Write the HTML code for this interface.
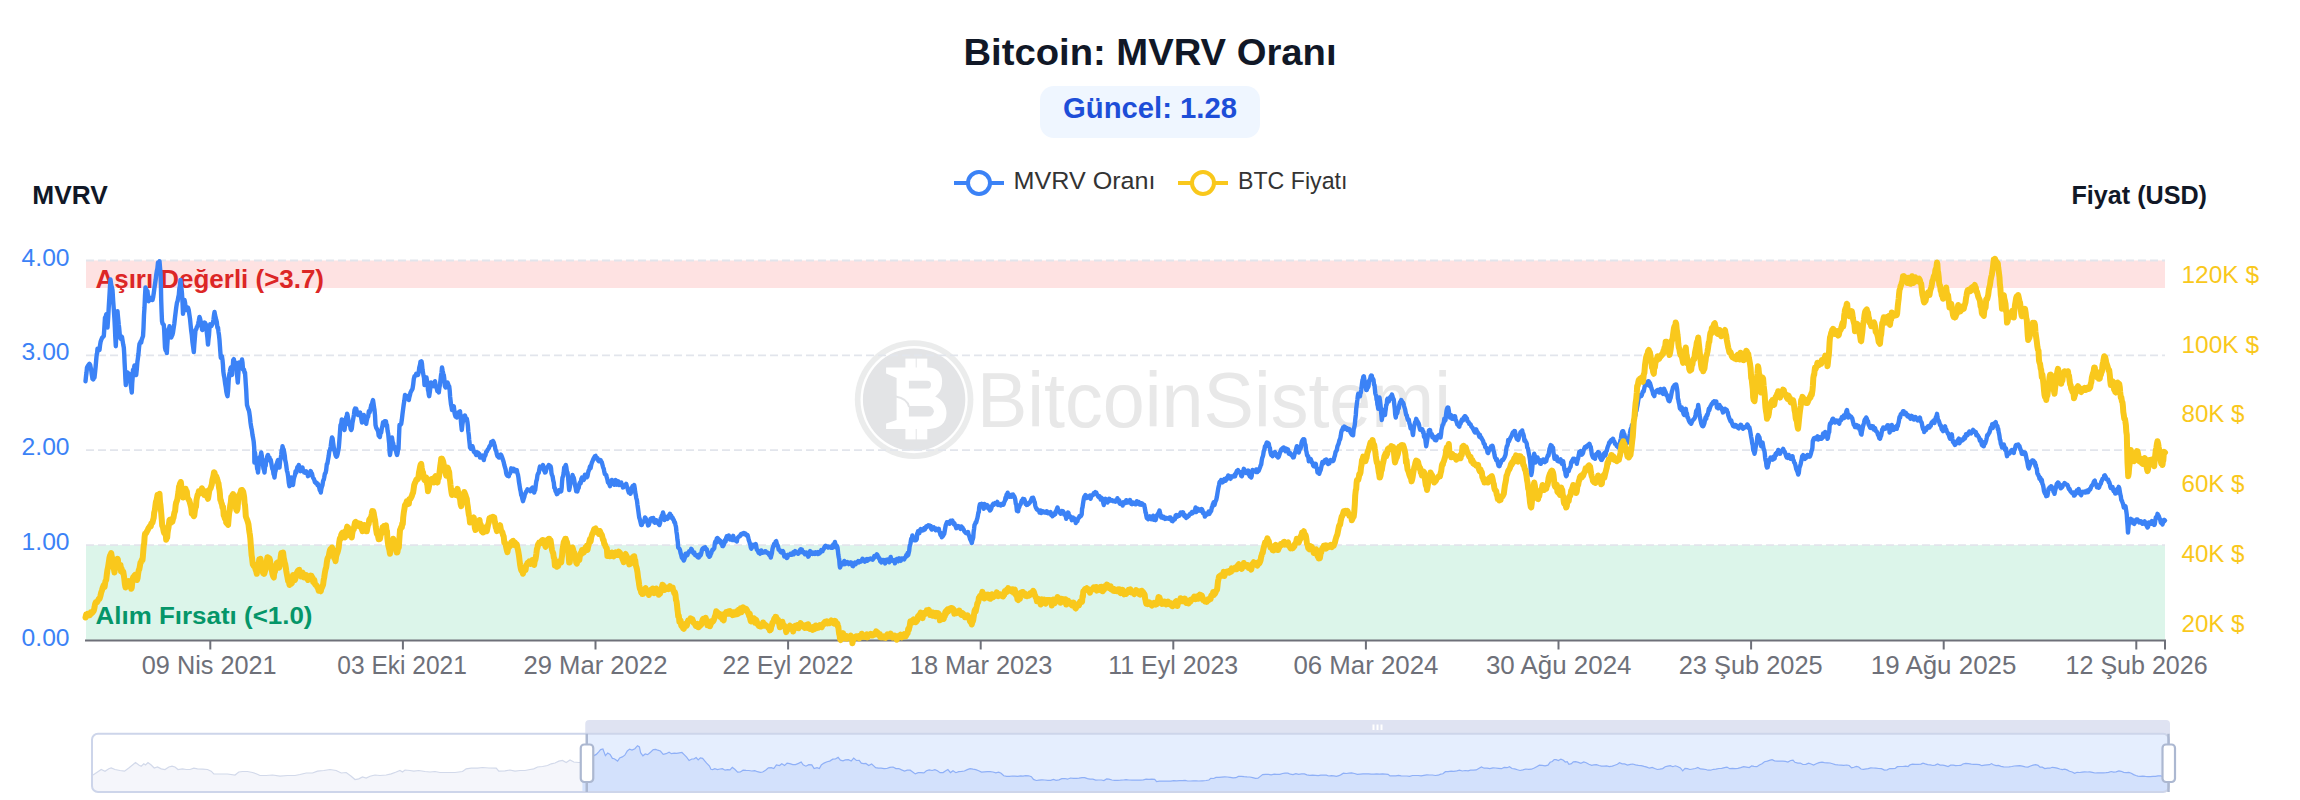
<!DOCTYPE html>
<html lang="tr"><head><meta charset="utf-8"><title>Bitcoin: MVRV Oranı</title>
<style>html,body{margin:0;padding:0;background:#fff;}body{width:2300px;height:800px;overflow:hidden;font-family:"Liberation Sans", sans-serif;}svg{display:block}</style>
</head><body>
<svg width="2300" height="800" viewBox="0 0 2300 800" font-family='"Liberation Sans", sans-serif'><text x="1150" y="65.3" font-size="37.5" fill="#111827" font-weight="bold" text-anchor="middle" textLength="373" lengthAdjust="spacingAndGlyphs">Bitcoin: MVRV Oranı</text>
<rect x="1040" y="86" width="220" height="52" rx="14" fill="#eff6ff"/>
<text x="1150" y="118" font-size="29" fill="#1d4ed8" font-weight="bold" text-anchor="middle" textLength="174" lengthAdjust="spacingAndGlyphs">Güncel: 1.28</text>
<line x1="954" y1="183" x2="1004" y2="183" stroke="#3b82f6" stroke-width="4"/>
<circle cx="979" cy="183" r="11" fill="#fff" stroke="#3b82f6" stroke-width="4"/>
<text x="1013.5" y="189" font-size="24.5" fill="#333" font-weight="normal" text-anchor="start" textLength="142" lengthAdjust="spacingAndGlyphs">MVRV Oranı</text>
<line x1="1178" y1="183" x2="1228" y2="183" stroke="#f9c81c" stroke-width="4"/>
<circle cx="1203" cy="183" r="11" fill="#fff" stroke="#f9c81c" stroke-width="4"/>
<text x="1238" y="189" font-size="24.5" fill="#333" font-weight="normal" text-anchor="start" textLength="109.5" lengthAdjust="spacingAndGlyphs">BTC Fiyatı</text>
<text x="32.3" y="204" font-size="25.5" fill="#111827" font-weight="bold" text-anchor="start" textLength="75.5" lengthAdjust="spacingAndGlyphs">MVRV</text>
<text x="2071.5" y="204" font-size="25.5" fill="#111827" font-weight="bold" text-anchor="start" textLength="135.5" lengthAdjust="spacingAndGlyphs">Fiyat (USD)</text>
<g id="wm">
<circle cx="914.1" cy="399.6" r="59.3" fill="#ebecec"/>
<circle cx="914.1" cy="399.6" r="53.6" fill="#fff"/>
<circle cx="914.1" cy="399.6" r="51.2" fill="#e3e4e6"/>
<g transform="translate(914.1 399.6)" fill="#fff">
<rect x="-8.7" y="-41" width="10.3" height="10"/><rect x="2.6" y="-41" width="10.6" height="10"/>
<rect x="-8.7" y="28.5" width="10.3" height="11.3"/><rect x="2.6" y="28.5" width="10.6" height="11.3"/>
<path d="M-28 -32 H14 C23 -32 28 -26.5 28 -18.5 C28 -11 25.5 -6 21 -3 C28 0 32.4 6 32.4 13.5 C32.4 23.5 25.5 29.3 15 29.3 H-28 V24 L-17.5 20.5 V-21.5 L-28 -26 Z"/>
<path d="M-5.2 -18.8 H13 a3.9 3.9 0 0 1 0 7.8 H-5.2 Z" fill="#e3e4e6"/>
<path d="M-5.2 6.5 H14.5 a5.2 5.2 0 0 1 0 10.5 H-5.2 Z" fill="#e3e4e6"/>
<path d="M-18.5 -3 C-12 -2 -6.5 1.5 -5 7.5" fill="none" stroke="#e3e4e6" stroke-width="2"/>
</g>
<text x="977" y="427.2" font-size="77" fill="#e8e8e8" font-weight="normal" text-anchor="start" textLength="474" lengthAdjust="spacingAndGlyphs">BitcoinSistemi</text>
</g>
<rect x="86" y="260.5" width="2079" height="27.5" fill="#fee2e2"/>
<rect x="86" y="545.1" width="2079" height="94.9" fill="#dcf5ea"/>
<line x1="86" y1="545.1" x2="2165" y2="545.1" stroke="#e2e5ec" stroke-width="1.8" stroke-dasharray="8 4"/>
<line x1="86" y1="450.2" x2="2165" y2="450.2" stroke="#e2e5ec" stroke-width="1.8" stroke-dasharray="8 4"/>
<line x1="86" y1="355.4" x2="2165" y2="355.4" stroke="#e2e5ec" stroke-width="1.8" stroke-dasharray="8 4"/>
<line x1="86" y1="260.5" x2="2165" y2="260.5" stroke="#e2e5ec" stroke-width="1.8" stroke-dasharray="8 4"/>
<text x="95.5" y="287.8" font-size="25" fill="#dc2626" font-weight="bold" text-anchor="start" textLength="228.5" lengthAdjust="spacingAndGlyphs">Aşırı Değerli (&gt;3.7)</text>
<text x="95.5" y="623.9" font-size="23.5" fill="#059669" font-weight="bold" text-anchor="start" textLength="217" lengthAdjust="spacingAndGlyphs">Alım Fırsatı (&lt;1.0)</text>
<text x="69.6" y="645.5" font-size="24" fill="#3b82f6" font-weight="normal" text-anchor="end" textLength="48" lengthAdjust="spacingAndGlyphs">0.00</text>
<text x="69.6" y="550.1" font-size="24" fill="#3b82f6" font-weight="normal" text-anchor="end" textLength="48" lengthAdjust="spacingAndGlyphs">1.00</text>
<text x="69.6" y="455.2" font-size="24" fill="#3b82f6" font-weight="normal" text-anchor="end" textLength="48" lengthAdjust="spacingAndGlyphs">2.00</text>
<text x="69.6" y="360.4" font-size="24" fill="#3b82f6" font-weight="normal" text-anchor="end" textLength="48" lengthAdjust="spacingAndGlyphs">3.00</text>
<text x="69.6" y="265.5" font-size="24" fill="#3b82f6" font-weight="normal" text-anchor="end" textLength="48" lengthAdjust="spacingAndGlyphs">4.00</text>
<text x="2181.5" y="282.7" font-size="24" fill="#f9c81c" font-weight="normal" text-anchor="start" textLength="77.5" lengthAdjust="spacingAndGlyphs">120K $</text>
<text x="2181.5" y="352.5" font-size="24" fill="#f9c81c" font-weight="normal" text-anchor="start" textLength="77.5" lengthAdjust="spacingAndGlyphs">100K $</text>
<text x="2181.5" y="422.4" font-size="24" fill="#f9c81c" font-weight="normal" text-anchor="start" textLength="63" lengthAdjust="spacingAndGlyphs">80K $</text>
<text x="2181.5" y="492.2" font-size="24" fill="#f9c81c" font-weight="normal" text-anchor="start" textLength="63" lengthAdjust="spacingAndGlyphs">60K $</text>
<text x="2181.5" y="562.1" font-size="24" fill="#f9c81c" font-weight="normal" text-anchor="start" textLength="63" lengthAdjust="spacingAndGlyphs">40K $</text>
<text x="2181.5" y="631.9" font-size="24" fill="#f9c81c" font-weight="normal" text-anchor="start" textLength="63" lengthAdjust="spacingAndGlyphs">20K $</text>
<line x1="85" y1="640.4" x2="2166" y2="640.4" stroke="#6e7079" stroke-width="2"/>
<line x1="210.3" y1="640" x2="210.3" y2="649.5" stroke="#6e7079" stroke-width="2"/>
<text x="209.2" y="674" font-size="25.6" fill="#6e7079" font-weight="normal" text-anchor="middle" textLength="134.9" lengthAdjust="spacingAndGlyphs">09 Nis 2021</text>
<line x1="402.9" y1="640" x2="402.9" y2="649.5" stroke="#6e7079" stroke-width="2"/>
<text x="402.1" y="674" font-size="25.6" fill="#6e7079" font-weight="normal" text-anchor="middle" textLength="129.5" lengthAdjust="spacingAndGlyphs">03 Eki 2021</text>
<line x1="595.5" y1="640" x2="595.5" y2="649.5" stroke="#6e7079" stroke-width="2"/>
<text x="595.4" y="674" font-size="25.6" fill="#6e7079" font-weight="normal" text-anchor="middle" textLength="144.0" lengthAdjust="spacingAndGlyphs">29 Mar 2022</text>
<line x1="788.1" y1="640" x2="788.1" y2="649.5" stroke="#6e7079" stroke-width="2"/>
<text x="787.9" y="674" font-size="25.6" fill="#6e7079" font-weight="normal" text-anchor="middle" textLength="130.6" lengthAdjust="spacingAndGlyphs">22 Eyl 2022</text>
<line x1="980.7" y1="640" x2="980.7" y2="649.5" stroke="#6e7079" stroke-width="2"/>
<text x="981.1" y="674" font-size="25.6" fill="#6e7079" font-weight="normal" text-anchor="middle" textLength="142.6" lengthAdjust="spacingAndGlyphs">18 Mar 2023</text>
<line x1="1173.3" y1="640" x2="1173.3" y2="649.5" stroke="#6e7079" stroke-width="2"/>
<text x="1173.2" y="674" font-size="25.6" fill="#6e7079" font-weight="normal" text-anchor="middle" textLength="129.9" lengthAdjust="spacingAndGlyphs">11 Eyl 2023</text>
<line x1="1365.9" y1="640" x2="1365.9" y2="649.5" stroke="#6e7079" stroke-width="2"/>
<text x="1365.9" y="674" font-size="25.6" fill="#6e7079" font-weight="normal" text-anchor="middle" textLength="145.0" lengthAdjust="spacingAndGlyphs">06 Mar 2024</text>
<line x1="1558.5" y1="640" x2="1558.5" y2="649.5" stroke="#6e7079" stroke-width="2"/>
<text x="1558.7" y="674" font-size="25.6" fill="#6e7079" font-weight="normal" text-anchor="middle" textLength="145.6" lengthAdjust="spacingAndGlyphs">30 Ağu 2024</text>
<line x1="1751.1" y1="640" x2="1751.1" y2="649.5" stroke="#6e7079" stroke-width="2"/>
<text x="1750.7" y="674" font-size="25.6" fill="#6e7079" font-weight="normal" text-anchor="middle" textLength="143.9" lengthAdjust="spacingAndGlyphs">23 Şub 2025</text>
<line x1="1943.7" y1="640" x2="1943.7" y2="649.5" stroke="#6e7079" stroke-width="2"/>
<text x="1943.6" y="674" font-size="25.6" fill="#6e7079" font-weight="normal" text-anchor="middle" textLength="145.6" lengthAdjust="spacingAndGlyphs">19 Ağu 2025</text>
<line x1="2136.3" y1="640" x2="2136.3" y2="649.5" stroke="#6e7079" stroke-width="2"/>
<text x="2136.6" y="674" font-size="25.6" fill="#6e7079" font-weight="normal" text-anchor="middle" textLength="142.0" lengthAdjust="spacingAndGlyphs">12 Şub 2026</text>
<line x1="2165" y1="640" x2="2165" y2="649.5" stroke="#6e7079" stroke-width="2"/>
<path d="M85.5 381.2 L86.0 376.4 L86.5 372.6 L87.0 367.5 L87.8 366.0 L88.7 364.7 L89.5 363.8 L90.1 364.8 L90.7 367.7 L91.2 370.0 L91.7 374.1 L92.1 376.3 L92.5 378.8 L93.2 379.5 L93.8 378.2 L94.5 377.5 L95.1 372.1 L95.7 366.0 L96.2 360.0 L96.7 354.4 L97.1 353.4 L97.5 348.8 L98.2 349.7 L98.8 350.1 L99.5 350.0 L100.1 344.8 L100.7 341.4 L101.2 340.0 L102.1 337.8 L102.9 337.0 L103.8 336.2 L104.2 330.3 L104.6 323.7 L105.0 317.5 L105.7 316.8 L106.3 314.3 L107.0 313.8 L107.5 327.5 L108.2 317.0 L108.8 306.3 L109.5 295.0 L110.0 286.5 L110.5 279.5 L111.2 284.9 L111.8 287.1 L112.5 290.0 L113.2 301.3 L113.8 309.3 L114.5 320.0 L114.9 327.9 L115.3 337.1 L115.8 346.2 L116.3 334.5 L116.9 323.6 L117.5 311.2 L117.9 316.1 L118.3 319.9 L118.8 325.0 L119.2 328.1 L119.6 332.8 L120.0 337.5 L120.7 338.7 L121.3 336.3 L122.0 337.0 L122.6 340.8 L123.2 344.5 L123.8 347.5 L124.2 353.4 L124.6 362.6 L125.0 370.0 L125.4 378.9 L125.8 385.0 L126.3 378.6 L126.9 376.3 L127.5 372.5 L128.2 373.2 L128.8 373.3 L129.5 375.0 L130.2 381.4 L131.0 386.6 L131.8 392.5 L132.2 383.4 L132.6 378.4 L133.0 370.0 L133.5 369.2 L134.0 368.0 L134.5 365.5 L135.1 370.3 L135.7 372.2 L136.2 375.0 L136.8 369.3 L137.4 361.9 L138.0 357.5 L138.5 353.6 L139.0 347.7 L139.5 343.8 L140.1 342.8 L140.7 341.5 L141.2 342.5 L141.8 339.4 L142.4 337.7 L143.0 336.2 L143.5 328.1 L144.0 314.8 L144.5 307.5 L145.0 295.9 L145.5 287.5 L146.2 289.0 L146.8 291.6 L147.5 291.2 L147.9 295.2 L148.3 295.8 L148.8 301.2 L149.4 297.6 L150.1 300.0 L150.8 298.8 L151.3 298.4 L151.9 298.4 L152.5 300.0 L153.2 296.9 L153.8 292.9 L154.5 287.5 L155.1 283.5 L155.7 279.4 L156.2 275.0 L156.8 271.3 L157.4 268.4 L158.0 262.5 L158.5 262.8 L159.0 262.2 L159.5 261.2 L160.0 267.5 L160.5 272.5 L160.9 284.5 L161.2 300.0 L161.6 312.0 L162.0 321.2 L162.6 323.6 L163.2 324.3 L163.8 325.0 L164.2 330.3 L164.6 339.3 L165.0 347.5 L165.6 350.3 L166.2 349.2 L166.8 353.0 L167.2 346.0 L167.6 340.5 L168.0 332.5 L168.5 329.0 L169.0 330.1 L169.5 326.2 L170.1 330.6 L170.7 333.6 L171.2 337.5 L171.8 336.2 L172.4 334.9 L173.0 332.5 L173.7 327.6 L174.3 323.8 L175.0 317.5 L175.7 311.8 L176.3 307.0 L177.0 302.5 L177.6 301.1 L178.2 297.5 L178.8 295.0 L179.3 289.0 L179.9 286.0 L180.5 280.0 L181.0 286.2 L181.5 288.7 L182.0 293.8 L182.5 302.2 L183.0 313.8 L183.5 309.0 L184.0 304.4 L184.5 300.0 L185.1 303.0 L185.7 308.2 L186.2 310.0 L186.8 308.0 L187.4 309.7 L188.0 307.5 L188.7 309.9 L189.3 314.1 L190.0 318.8 L190.6 324.9 L191.2 330.8 L191.8 335.0 L192.4 341.6 L193.1 346.7 L193.8 352.0 L194.3 344.8 L194.9 337.5 L195.5 330.0 L196.2 329.4 L196.8 327.3 L197.5 326.2 L198.2 323.5 L198.8 320.7 L199.5 317.0 L200.1 318.8 L200.7 321.5 L201.2 322.5 L201.7 325.6 L202.1 329.7 L202.5 330.0 L203.2 327.9 L203.8 324.5 L204.5 322.5 L205.1 322.9 L205.7 324.2 L206.2 325.0 L206.8 332.5 L207.4 337.6 L208.0 344.5 L208.5 339.3 L209.0 335.2 L209.5 327.5 L210.1 324.3 L210.7 325.4 L211.2 326.2 L211.8 325.3 L212.4 324.2 L213.0 322.5 L213.5 319.3 L214.0 315.0 L214.5 312.0 L215.1 315.4 L215.7 317.6 L216.2 320.0 L216.8 321.9 L217.4 327.7 L218.0 327.5 L218.5 332.1 L219.0 335.2 L219.5 340.0 L219.9 345.7 L220.3 351.4 L220.8 357.5 L221.3 358.3 L221.9 356.2 L222.5 360.0 L222.9 364.5 L223.3 371.1 L223.8 375.0 L224.4 377.9 L225.1 383.3 L225.8 387.5 L226.3 391.5 L226.9 394.3 L227.5 396.2 L228.1 390.8 L228.7 380.2 L229.2 375.0 L229.8 372.1 L230.2 369.6 L230.8 367.5 L231.2 370.7 L231.6 373.7 L232.0 375.0 L232.4 367.0 L232.8 366.2 L233.2 360.0 L233.8 359.2 L234.4 362.4 L235.0 362.5 L235.5 362.5 L236.0 366.0 L236.5 367.5 L236.9 373.8 L237.3 377.3 L237.8 382.5 L238.2 376.0 L238.6 370.0 L239.0 362.5 L239.5 363.5 L240.0 364.1 L240.5 365.0 L241.0 364.9 L241.5 362.5 L242.0 359.5 L242.5 362.7 L243.0 369.5 L243.5 370.0 L244.0 369.6 L244.5 372.7 L245.0 372.5 L245.4 378.0 L245.8 384.3 L246.2 390.0 L246.6 398.3 L247.0 405.0 L247.6 406.9 L248.2 409.0 L248.8 410.0 L249.3 412.5 L249.9 416.7 L250.5 422.5 L251.2 427.3 L251.8 429.8 L252.5 435.0 L253.1 438.0 L253.7 441.7 L254.2 447.5 L254.4 462.5 L255.0 452.5 L255.6 458.1 L256.2 461.7 L256.8 465.0 L257.2 469.1 L257.6 469.0 L258.0 472.5 L258.5 467.5 L259.0 461.2 L259.5 457.5 L260.1 456.7 L260.7 455.9 L261.2 452.5 L261.8 455.7 L262.4 462.5 L263.0 465.0 L263.5 468.6 L264.0 469.8 L264.5 472.5 L265.1 466.2 L265.7 465.7 L266.2 460.0 L266.8 458.2 L267.4 456.0 L268.0 455.0 L268.5 456.3 L269.0 457.1 L269.5 457.5 L270.1 460.8 L270.7 459.7 L271.2 462.5 L271.8 466.2 L272.4 469.1 L273.0 470.0 L273.5 474.1 L274.0 474.8 L274.5 477.5 L275.1 472.5 L275.7 470.3 L276.2 465.0 L276.8 463.5 L277.4 461.8 L278.0 460.0 L278.5 464.1 L279.0 464.7 L279.5 467.5 L280.1 460.8 L280.7 458.7 L281.2 455.0 L281.7 450.0 L282.1 450.1 L282.5 446.2 L283.1 448.7 L283.7 449.7 L284.2 452.5 L284.8 455.8 L285.2 460.1 L285.8 462.5 L286.3 465.9 L286.9 470.6 L287.5 472.5 L288.2 477.0 L288.8 482.8 L289.5 486.2 L290.1 485.0 L290.7 482.2 L291.2 477.5 L291.8 479.3 L292.4 483.5 L293.0 485.0 L293.7 479.6 L294.3 477.1 L295.0 475.0 L295.6 471.2 L296.2 472.8 L296.8 470.0 L297.4 467.0 L298.1 466.7 L298.8 465.0 L299.3 466.9 L299.9 469.1 L300.5 471.2 L301.2 469.3 L301.8 469.0 L302.5 467.5 L303.1 471.1 L303.7 470.9 L304.2 472.5 L304.9 472.7 L305.6 472.8 L306.2 471.2 L306.8 472.7 L307.4 473.2 L308.0 476.2 L308.7 474.4 L309.3 474.9 L310.0 472.5 L310.7 471.1 L311.3 472.7 L312.0 473.8 L312.6 476.5 L313.2 478.0 L313.8 478.8 L314.3 480.0 L314.9 482.1 L315.5 482.5 L316.2 483.5 L316.8 482.9 L317.5 485.0 L318.1 484.1 L318.7 486.0 L319.2 487.5 L319.8 490.2 L320.2 490.2 L320.8 492.5 L321.3 489.0 L321.9 486.7 L322.5 485.0 L323.1 480.8 L323.7 479.9 L324.2 477.5 L324.9 473.7 L325.6 472.9 L326.2 470.0 L326.8 464.1 L327.4 463.7 L328.0 460.0 L328.7 456.0 L329.3 451.2 L330.0 450.0 L330.7 446.6 L331.3 441.4 L332.0 437.5 L332.6 438.4 L333.2 443.2 L333.8 447.5 L334.3 450.3 L334.9 452.0 L335.5 455.0 L336.0 456.3 L336.5 456.7 L337.0 456.2 L337.6 454.1 L338.2 450.8 L338.8 447.5 L339.3 441.5 L339.9 433.2 L340.5 425.0 L341.2 423.8 L341.8 419.4 L342.5 420.0 L343.2 424.3 L343.8 428.1 L344.5 430.0 L345.1 425.3 L345.7 420.8 L346.2 417.0 L346.7 418.5 L347.1 413.7 L347.5 415.0 L348.2 418.8 L348.8 424.3 L349.5 425.0 L350.1 425.6 L350.7 429.1 L351.2 430.0 L351.8 428.7 L352.4 423.2 L353.0 420.0 L353.5 417.3 L354.0 414.3 L354.5 410.0 L355.1 408.6 L355.7 409.1 L356.2 408.8 L356.8 411.2 L357.4 413.8 L358.0 415.0 L358.7 414.1 L359.3 413.1 L360.0 412.5 L360.7 414.7 L361.3 418.8 L362.0 422.5 L362.6 421.0 L363.2 417.6 L363.8 415.0 L364.3 416.6 L364.9 419.1 L365.5 422.5 L366.2 423.8 L366.8 420.4 L367.5 417.5 L368.2 416.5 L368.8 411.3 L369.5 412.5 L370.1 410.7 L370.7 408.0 L371.2 405.0 L371.8 405.2 L372.4 402.1 L373.0 400.0 L373.5 403.3 L374.0 407.2 L374.5 410.0 L375.0 415.4 L375.5 425.0 L376.2 427.8 L376.8 428.7 L377.5 430.0 L378.1 431.3 L378.7 435.6 L379.2 436.2 L379.9 437.0 L380.6 432.2 L381.2 432.5 L381.8 428.4 L382.4 426.2 L383.0 422.5 L383.8 422.3 L384.7 421.2 L385.5 421.2 L386.0 421.4 L386.5 426.1 L387.0 425.0 L387.6 431.1 L388.2 433.7 L388.8 440.0 L389.2 443.5 L389.6 451.9 L390.0 455.0 L390.7 450.3 L391.3 445.3 L392.0 437.5 L392.6 441.7 L393.2 443.2 L393.8 447.5 L394.3 448.6 L394.9 446.8 L395.5 450.0 L396.0 450.8 L396.5 453.3 L397.0 455.0 L397.5 453.5 L398.0 450.0 L398.5 448.8 L399.0 436.7 L399.5 425.0 L400.1 425.1 L400.7 424.6 L401.2 423.8 L401.8 419.9 L402.4 414.8 L403.0 410.0 L403.7 404.6 L404.3 400.9 L405.0 395.0 L405.7 395.9 L406.3 395.8 L407.0 397.5 L407.6 397.6 L408.2 399.2 L408.8 400.0 L409.3 397.4 L409.9 395.2 L410.5 392.5 L411.2 391.2 L411.8 390.2 L412.5 388.8 L413.2 384.4 L413.8 379.0 L414.5 376.2 L415.1 375.9 L415.7 375.7 L416.2 373.8 L416.8 374.6 L417.4 374.4 L418.0 375.0 L418.7 372.2 L419.3 367.3 L420.0 365.0 L420.5 361.7 L421.0 362.6 L421.5 361.2 L422.0 364.0 L422.5 369.6 L423.0 372.5 L423.5 375.5 L424.0 377.9 L424.5 385.0 L425.2 381.4 L425.8 381.7 L426.5 377.5 L427.0 381.2 L427.5 384.3 L428.0 390.0 L428.4 391.2 L428.8 394.7 L429.2 396.2 L429.8 392.2 L430.4 387.3 L431.0 382.5 L431.7 385.4 L432.3 385.8 L433.0 386.2 L433.7 384.6 L434.3 383.6 L435.0 381.2 L435.6 385.6 L436.2 387.3 L436.8 388.8 L437.4 391.1 L438.1 390.1 L438.8 392.5 L439.3 388.2 L439.9 385.0 L440.5 380.0 L441.0 375.5 L441.5 372.8 L442.0 367.5 L442.6 370.7 L443.2 373.5 L443.8 375.0 L444.3 378.9 L444.9 386.1 L445.5 387.5 L446.2 387.2 L446.8 383.9 L447.5 382.5 L448.1 383.8 L448.7 387.9 L449.2 386.2 L449.7 390.5 L450.1 396.4 L450.5 400.0 L451.0 404.4 L451.5 406.7 L452.0 410.0 L452.6 407.5 L453.2 407.7 L453.8 406.2 L454.2 409.6 L454.6 413.3 L455.0 415.0 L455.6 416.7 L456.2 416.7 L456.8 417.5 L457.2 416.8 L457.6 414.8 L458.0 412.5 L458.7 412.3 L459.3 411.7 L460.0 411.2 L460.6 417.2 L461.2 424.5 L461.8 430.0 L462.4 424.3 L463.1 420.1 L463.8 416.2 L464.3 416.7 L464.9 415.5 L465.5 417.5 L466.2 418.7 L466.8 418.6 L467.5 422.5 L467.9 425.9 L468.3 431.5 L468.8 435.0 L469.2 439.8 L469.6 443.3 L470.0 447.5 L470.4 447.9 L470.8 448.8 L471.3 446.4 L471.9 449.1 L472.5 446.2 L473.2 448.9 L473.8 451.6 L474.5 452.5 L475.1 452.4 L475.7 454.0 L476.2 455.0 L476.8 452.2 L477.4 454.2 L478.0 452.5 L478.7 455.2 L479.3 453.7 L480.0 457.5 L480.7 457.0 L481.3 457.4 L482.0 456.2 L482.6 455.6 L483.2 456.7 L483.8 460.0 L484.3 457.2 L484.9 456.0 L485.5 455.0 L486.2 451.8 L486.8 451.7 L487.5 450.0 L488.2 449.0 L488.8 448.2 L489.5 446.2 L490.1 445.6 L490.7 445.1 L491.2 442.0 L492.1 443.4 L492.9 440.9 L493.8 442.5 L494.3 444.4 L494.9 446.3 L495.5 450.0 L496.2 450.9 L496.8 454.1 L497.5 456.2 L498.2 456.7 L498.8 457.6 L499.5 457.5 L500.1 454.9 L500.7 454.5 L501.2 455.0 L501.8 456.6 L502.4 458.1 L503.0 460.0 L503.7 462.2 L504.3 464.9 L505.0 467.5 L505.6 469.2 L506.2 473.3 L506.8 475.0 L507.4 475.8 L508.1 475.7 L508.8 476.2 L509.3 474.3 L509.9 473.6 L510.5 472.5 L511.2 468.3 L511.8 468.9 L512.5 468.8 L513.1 469.6 L513.7 468.8 L514.2 471.2 L514.9 471.1 L515.6 470.6 L516.2 470.0 L516.8 470.2 L517.4 473.1 L518.0 475.0 L518.5 478.0 L519.0 482.2 L519.5 485.0 L520.1 489.0 L520.7 491.6 L521.2 495.0 L521.8 496.1 L522.4 499.0 L523.0 501.2 L523.7 498.7 L524.3 497.1 L525.0 493.8 L525.6 493.2 L526.2 491.3 L526.8 491.2 L527.4 489.3 L528.1 490.0 L528.8 490.0 L529.3 489.6 L529.9 489.6 L530.5 491.2 L531.2 489.9 L531.8 488.2 L532.5 487.5 L533.1 489.3 L533.7 491.4 L534.2 492.5 L534.8 489.5 L535.2 490.1 L535.8 485.0 L536.3 481.3 L536.9 479.5 L537.5 475.0 L538.1 473.5 L538.7 472.9 L539.2 470.0 L539.9 466.6 L540.6 467.5 L541.2 467.5 L541.8 466.9 L542.4 466.5 L543.0 465.0 L543.7 470.1 L544.3 470.4 L545.0 472.5 L545.6 472.2 L546.2 470.0 L546.8 467.5 L547.4 467.7 L548.1 466.4 L548.8 465.0 L549.3 465.2 L549.9 466.4 L550.5 466.2 L551.0 468.0 L551.5 473.4 L552.0 475.0 L552.6 476.4 L553.2 480.3 L553.8 482.5 L554.3 487.7 L554.9 488.1 L555.5 491.2 L556.2 492.1 L556.8 494.2 L557.5 493.8 L558.2 492.5 L558.8 490.4 L559.5 490.0 L560.1 490.7 L560.7 491.5 L561.2 491.2 L561.7 487.4 L562.1 481.2 L562.5 477.5 L563.1 476.1 L563.7 472.7 L564.2 467.5 L564.8 466.7 L565.2 466.1 L565.8 465.0 L566.3 467.0 L566.9 471.6 L567.5 472.5 L568.1 477.6 L568.7 484.9 L569.2 490.0 L569.8 487.0 L570.2 484.2 L570.8 482.5 L571.3 480.8 L571.9 479.0 L572.5 475.0 L573.1 476.7 L573.7 477.6 L574.2 480.0 L574.9 484.6 L575.6 487.4 L576.2 491.2 L576.8 490.8 L577.4 491.3 L578.0 488.8 L578.7 487.9 L579.3 484.0 L580.0 482.5 L580.7 483.3 L581.3 479.2 L582.0 477.5 L582.6 479.2 L583.2 478.5 L583.8 480.0 L584.3 478.3 L584.9 474.7 L585.5 475.0 L586.2 477.4 L586.8 477.3 L587.5 476.2 L588.1 472.8 L588.7 470.4 L589.2 470.0 L589.9 466.6 L590.6 468.0 L591.2 465.0 L591.8 462.8 L592.4 461.6 L593.0 460.0 L593.7 458.4 L594.3 457.4 L595.0 456.2 L595.6 455.9 L596.2 457.9 L596.8 458.8 L597.4 458.0 L598.1 460.3 L598.8 461.2 L599.3 461.2 L599.9 460.9 L600.5 460.0 L601.2 461.4 L601.8 462.3 L602.5 465.0 L603.1 467.3 L603.7 468.6 L604.2 471.2 L604.9 474.2 L605.6 474.6 L606.2 475.0 L606.8 477.4 L607.4 479.5 L608.0 482.5 L608.7 483.0 L609.3 484.0 L610.0 486.2 L610.6 483.8 L611.2 482.4 L611.8 480.0 L612.4 481.8 L613.1 483.1 L613.8 483.8 L614.3 484.8 L614.9 480.5 L615.5 480.0 L616.2 480.8 L616.8 484.7 L617.5 482.5 L618.1 481.3 L618.7 483.6 L619.2 485.0 L619.9 484.4 L620.6 483.5 L621.2 482.5 L621.8 484.6 L622.4 485.6 L623.0 487.5 L623.7 487.1 L624.3 485.9 L625.0 485.0 L625.6 486.3 L626.2 483.8 L626.8 486.2 L627.4 487.4 L628.1 490.4 L628.8 492.5 L629.3 491.8 L629.9 492.2 L630.5 493.8 L631.2 491.9 L631.8 488.0 L632.5 486.2 L633.1 486.5 L633.7 486.2 L634.2 485.0 L634.8 488.7 L635.2 492.2 L635.8 495.0 L636.3 498.2 L636.9 500.1 L637.5 505.0 L638.1 509.1 L638.7 513.8 L639.2 517.5 L639.9 519.4 L640.6 522.4 L641.2 525.0 L641.8 525.0 L642.4 522.4 L643.0 522.5 L643.7 521.5 L644.3 521.2 L645.0 517.5 L645.6 518.1 L646.2 520.2 L646.8 521.2 L647.4 522.3 L648.1 525.4 L648.8 525.0 L649.3 523.3 L649.9 521.8 L650.5 518.8 L651.2 518.4 L651.8 519.6 L652.5 520.0 L652.9 520.0 L653.3 518.0 L653.8 520.0 L654.3 522.4 L654.9 522.7 L655.5 522.5 L656.2 520.2 L656.8 522.5 L657.5 521.2 L658.2 522.4 L658.8 524.2 L659.5 525.0 L660.1 522.9 L660.7 518.4 L661.2 517.5 L661.8 515.6 L662.4 515.8 L663.0 512.5 L663.5 514.4 L664.0 516.4 L664.5 520.0 L665.1 518.1 L665.7 517.8 L666.2 518.8 L666.8 518.3 L667.4 518.9 L668.0 516.2 L668.7 515.9 L669.3 514.9 L670.0 513.8 L670.7 517.5 L671.3 515.7 L672.0 517.5 L672.6 517.6 L673.2 519.7 L673.8 520.0 L674.3 522.3 L674.9 522.2 L675.5 525.0 L676.0 527.0 L676.5 532.0 L677.0 535.0 L677.4 539.4 L677.8 541.9 L678.2 547.5 L678.8 548.1 L679.4 548.6 L680.0 550.0 L680.6 553.0 L681.2 554.9 L681.8 557.5 L682.4 558.4 L683.1 559.1 L683.8 560.5 L684.3 559.4 L684.9 557.5 L685.5 553.8 L686.2 553.8 L686.8 555.5 L687.5 555.0 L688.1 552.9 L688.7 552.6 L689.2 551.2 L689.9 551.2 L690.6 551.2 L691.2 548.8 L691.8 549.6 L692.4 551.2 L693.0 552.5 L693.7 553.5 L694.3 552.5 L695.0 555.0 L695.7 555.4 L696.3 555.1 L697.0 556.2 L697.6 557.1 L698.2 555.8 L698.8 557.5 L699.4 554.5 L700.1 555.9 L700.8 555.0 L701.3 553.2 L701.9 550.2 L702.5 548.8 L703.2 549.3 L703.8 547.6 L704.5 547.5 L705.1 547.3 L705.7 548.9 L706.2 548.8 L706.8 549.1 L707.4 552.2 L708.0 555.0 L708.7 555.4 L709.3 556.8 L710.0 556.2 L710.6 554.4 L711.2 553.3 L711.8 551.2 L712.4 549.7 L713.1 549.9 L713.8 548.8 L714.3 548.1 L714.9 543.0 L715.5 541.2 L716.2 542.8 L716.8 538.4 L717.5 538.0 L718.2 538.7 L718.8 539.5 L719.5 540.0 L720.1 542.4 L720.7 541.1 L721.2 543.8 L721.8 542.3 L722.4 546.1 L723.0 546.2 L723.7 545.0 L724.3 542.8 L725.0 540.0 L725.6 541.6 L726.2 537.7 L726.8 536.2 L727.4 536.3 L728.1 536.8 L728.8 535.5 L729.3 537.0 L729.9 539.5 L730.5 538.8 L731.2 537.8 L731.8 539.2 L732.5 540.0 L733.2 535.8 L733.8 540.1 L734.5 538.8 L735.1 538.8 L735.7 540.6 L736.2 540.0 L736.8 541.5 L737.4 538.3 L738.0 537.5 L738.7 536.8 L739.3 536.1 L740.0 536.2 L740.7 534.5 L741.3 533.9 L742.0 533.8 L742.6 534.2 L743.2 533.3 L743.8 533.0 L744.3 533.3 L744.9 533.3 L745.5 533.8 L746.2 535.2 L746.8 535.1 L747.5 535.0 L748.1 536.9 L748.7 539.9 L749.2 541.2 L749.8 543.2 L750.2 544.1 L750.8 547.5 L751.3 548.7 L751.9 547.2 L752.5 546.2 L753.2 544.8 L753.8 546.6 L754.5 545.0 L755.1 545.8 L755.7 544.1 L756.2 546.2 L756.8 549.7 L757.4 550.0 L758.0 551.2 L758.7 553.1 L759.3 553.1 L760.0 553.8 L760.6 552.8 L761.2 550.4 L761.8 551.2 L762.4 552.7 L763.1 552.1 L763.8 552.5 L764.3 551.8 L764.9 552.1 L765.5 551.2 L766.2 551.8 L766.8 552.8 L767.5 552.5 L768.1 552.9 L768.7 554.1 L769.2 555.0 L769.8 553.5 L770.2 556.2 L770.8 557.5 L771.3 555.3 L771.9 553.1 L772.5 548.8 L773.1 546.7 L773.7 545.3 L774.2 543.8 L774.9 544.7 L775.6 541.7 L776.2 541.2 L776.7 543.3 L777.1 545.6 L777.5 545.0 L778.1 546.7 L778.7 549.7 L779.2 550.0 L779.9 550.1 L780.6 551.9 L781.2 552.5 L781.8 552.0 L782.4 551.8 L783.0 551.2 L783.7 553.7 L784.3 556.4 L785.0 555.0 L785.6 555.3 L786.2 556.4 L786.8 558.0 L787.4 557.5 L788.1 554.8 L788.8 555.0 L789.3 555.1 L789.9 554.8 L790.5 553.8 L791.2 553.7 L791.8 554.8 L792.5 554.5 L793.2 552.3 L793.8 554.3 L794.5 553.0 L795.1 551.1 L795.7 551.9 L796.2 552.5 L796.8 552.3 L797.4 552.9 L798.0 553.8 L798.7 553.4 L799.3 551.3 L800.0 550.0 L800.6 549.4 L801.2 550.3 L801.8 549.5 L802.4 552.2 L803.1 551.5 L803.8 552.5 L804.3 553.1 L804.9 554.2 L805.5 553.0 L806.2 553.8 L806.8 552.6 L807.5 554.5 L808.2 556.7 L808.8 555.9 L809.5 553.0 L810.1 551.1 L810.7 553.5 L811.2 553.8 L811.8 553.8 L812.4 554.0 L813.0 552.5 L813.7 553.7 L814.3 553.0 L815.0 553.8 L815.7 552.2 L816.3 553.0 L817.0 552.5 L817.6 554.1 L818.2 552.1 L818.8 553.8 L819.3 552.2 L819.9 552.9 L820.5 552.5 L821.2 550.0 L821.8 551.4 L822.5 551.2 L823.1 549.5 L823.7 549.2 L824.2 547.5 L824.9 546.3 L825.6 545.7 L826.2 546.2 L826.8 546.2 L827.4 547.0 L828.0 547.5 L828.7 546.6 L829.3 547.2 L830.0 547.0 L830.7 547.6 L831.3 547.8 L832.0 546.2 L832.6 547.7 L833.2 544.6 L833.8 545.0 L834.3 544.4 L834.9 541.9 L835.5 544.5 L836.2 547.6 L836.8 545.7 L837.5 547.5 L837.9 550.8 L838.3 554.7 L838.8 557.5 L839.2 559.3 L839.6 564.7 L840.0 567.5 L840.6 566.2 L841.2 563.0 L841.8 563.8 L842.4 563.7 L843.1 564.2 L843.8 562.5 L844.3 560.9 L844.9 564.2 L845.5 563.8 L846.2 563.4 L846.8 563.1 L847.5 562.0 L848.2 562.8 L848.8 564.1 L849.5 563.0 L850.1 562.6 L850.7 563.6 L851.2 562.5 L851.8 563.3 L852.4 565.8 L853.0 566.2 L853.7 564.1 L854.3 563.6 L855.0 562.5 L855.7 564.2 L856.3 562.7 L857.0 562.0 L857.6 562.0 L858.2 561.1 L858.8 562.5 L859.3 561.2 L859.9 561.9 L860.5 561.2 L861.2 561.5 L861.8 560.1 L862.5 558.8 L863.1 559.9 L863.7 559.9 L864.2 560.5 L864.9 561.7 L865.6 559.4 L866.2 559.5 L866.8 559.1 L867.4 560.8 L868.0 560.0 L868.7 559.7 L869.3 558.9 L870.0 558.8 L870.7 558.4 L871.3 559.0 L872.0 559.5 L872.6 559.7 L873.2 558.9 L873.8 558.0 L874.3 556.1 L874.9 557.3 L875.5 556.2 L876.2 556.0 L876.8 554.3 L877.5 555.0 L878.1 557.1 L878.7 557.2 L879.2 558.8 L879.8 559.2 L880.2 561.3 L880.8 561.2 L881.3 562.5 L881.9 560.0 L882.5 560.5 L883.2 561.2 L883.8 560.0 L884.5 561.2 L885.1 563.4 L885.7 559.9 L886.2 560.0 L886.8 561.5 L887.4 559.6 L888.0 560.5 L888.7 561.1 L889.3 562.3 L890.0 559.5 L890.7 556.9 L891.3 559.4 L892.0 560.0 L892.6 560.7 L893.2 560.2 L893.8 560.5 L894.3 560.0 L894.9 563.4 L895.5 561.2 L896.2 561.1 L896.8 558.9 L897.5 560.5 L898.3 561.3 L899.2 558.3 L900.0 560.0 L900.8 560.8 L901.7 558.5 L902.5 558.8 L903.3 558.5 L904.2 559.3 L905.0 557.5 L905.7 557.2 L906.3 555.1 L907.0 556.2 L907.6 553.1 L908.2 555.1 L908.8 552.5 L909.2 550.8 L909.6 546.6 L910.0 545.0 L910.4 543.9 L910.8 541.4 L911.2 538.8 L911.8 539.0 L912.4 535.4 L913.0 537.5 L913.7 538.0 L914.3 540.2 L915.0 540.0 L915.6 540.4 L916.2 540.1 L916.8 538.8 L917.2 533.5 L917.6 533.9 L918.0 531.2 L918.7 531.4 L919.3 533.2 L920.0 530.0 L920.7 529.1 L921.3 530.0 L922.0 530.5 L922.6 530.0 L923.2 530.3 L923.8 528.8 L924.3 528.0 L924.9 529.5 L925.5 528.0 L926.2 526.5 L926.8 527.1 L927.5 526.2 L928.2 525.4 L928.8 525.9 L929.5 525.5 L930.1 525.8 L930.7 525.9 L931.2 528.8 L931.8 529.5 L932.4 528.3 L933.0 527.5 L933.7 527.3 L934.3 528.6 L935.0 528.8 L935.6 530.3 L936.2 528.5 L936.8 530.0 L937.4 529.5 L938.1 529.8 L938.8 528.8 L939.3 531.4 L939.9 532.5 L940.5 535.0 L941.2 533.1 L941.8 537.2 L942.5 536.2 L943.1 535.8 L943.7 534.6 L944.2 533.8 L944.8 530.5 L945.2 528.2 L945.8 525.0 L946.3 523.7 L946.9 522.2 L947.5 522.5 L948.2 522.1 L948.8 522.7 L949.5 523.8 L950.1 522.2 L950.7 520.8 L951.2 521.2 L951.8 522.4 L952.4 520.6 L953.0 522.5 L953.7 524.1 L954.3 523.1 L955.0 525.0 L955.6 526.2 L956.2 528.2 L956.8 527.5 L957.4 527.3 L958.1 525.9 L958.8 526.2 L959.3 527.1 L959.9 528.1 L960.5 528.8 L961.2 526.4 L961.8 527.2 L962.5 527.5 L963.1 528.9 L963.7 529.5 L964.2 531.2 L964.9 531.8 L965.6 532.9 L966.2 532.5 L966.8 533.2 L967.4 533.2 L968.0 532.0 L968.7 534.9 L969.3 536.2 L970.0 538.8 L970.6 540.1 L971.2 541.3 L971.8 543.0 L972.2 540.8 L972.8 539.1 L973.2 537.5 L973.7 531.4 L974.1 528.8 L974.5 525.0 L975.1 524.1 L975.7 522.3 L976.2 522.5 L976.8 520.0 L977.4 518.1 L978.0 515.0 L978.4 512.3 L978.8 512.3 L979.2 507.5 L979.9 504.2 L980.6 506.4 L981.2 506.2 L981.8 503.8 L982.4 506.5 L983.0 505.0 L983.7 508.8 L984.3 503.9 L985.0 507.5 L985.7 506.8 L986.3 506.4 L987.0 505.0 L987.6 505.9 L988.2 508.1 L988.8 508.8 L989.3 506.7 L989.9 510.5 L990.5 510.0 L991.2 508.7 L991.8 506.7 L992.5 505.0 L993.2 503.9 L993.8 504.9 L994.5 503.8 L995.1 503.0 L995.7 503.5 L996.2 503.0 L996.8 503.1 L997.4 501.9 L998.0 505.0 L998.7 504.8 L999.3 504.9 L1000.0 504.5 L1000.7 505.5 L1001.3 503.9 L1002.0 505.0 L1002.6 504.5 L1003.2 504.8 L1003.8 503.8 L1004.3 501.8 L1004.9 501.0 L1005.5 497.5 L1006.0 498.9 L1006.5 494.8 L1007.0 495.0 L1007.6 492.7 L1008.2 495.6 L1008.8 494.5 L1009.3 496.8 L1009.9 496.7 L1010.5 496.2 L1011.2 496.7 L1011.8 494.7 L1012.5 495.0 L1013.1 494.6 L1013.7 496.8 L1014.2 496.2 L1014.8 497.7 L1015.2 499.3 L1015.8 503.8 L1016.3 504.7 L1016.9 510.7 L1017.5 510.0 L1018.1 511.3 L1018.7 507.6 L1019.2 507.5 L1019.9 505.0 L1020.6 504.4 L1021.2 502.5 L1021.8 500.4 L1022.4 501.4 L1023.0 498.8 L1023.7 499.5 L1024.3 499.2 L1025.0 501.2 L1025.6 503.9 L1026.2 503.1 L1026.8 505.0 L1027.4 504.8 L1028.1 504.2 L1028.8 503.8 L1029.3 502.6 L1029.9 502.4 L1030.5 501.2 L1031.2 499.9 L1031.8 498.1 L1032.5 499.5 L1033.1 497.7 L1033.7 499.3 L1034.2 501.2 L1034.8 502.5 L1035.2 505.4 L1035.8 507.5 L1036.3 508.2 L1036.9 509.4 L1037.5 509.5 L1038.2 510.6 L1038.8 510.6 L1039.5 512.5 L1040.1 511.9 L1040.7 510.5 L1041.2 513.0 L1041.8 512.2 L1042.4 512.4 L1043.0 511.2 L1043.7 512.2 L1044.3 511.9 L1045.0 512.5 L1045.6 511.9 L1046.2 512.7 L1046.8 511.2 L1047.4 511.9 L1048.1 513.2 L1048.8 513.0 L1049.3 513.3 L1049.9 512.6 L1050.5 512.0 L1051.2 514.9 L1051.8 514.2 L1052.5 516.2 L1053.1 515.4 L1053.7 514.5 L1054.2 515.0 L1054.8 512.9 L1055.2 514.2 L1055.8 511.2 L1056.3 511.9 L1056.9 508.8 L1057.5 507.5 L1058.1 509.4 L1058.7 511.3 L1059.2 511.2 L1059.9 512.7 L1060.6 513.7 L1061.2 513.0 L1061.8 511.0 L1062.4 511.1 L1063.0 511.2 L1063.7 512.6 L1064.3 514.5 L1065.0 513.8 L1065.4 515.5 L1065.8 516.1 L1066.2 518.8 L1066.8 516.3 L1067.4 513.9 L1068.0 512.5 L1068.5 512.8 L1069.0 516.7 L1069.5 516.2 L1070.1 516.1 L1070.7 517.4 L1071.2 518.0 L1071.8 520.2 L1072.4 519.0 L1073.0 517.5 L1073.7 518.7 L1074.3 518.5 L1075.0 520.0 L1075.4 521.1 L1075.8 523.1 L1076.2 522.0 L1076.8 521.6 L1077.4 521.2 L1078.0 518.8 L1078.5 518.0 L1079.0 517.7 L1079.5 516.2 L1080.1 515.8 L1080.7 516.2 L1081.2 515.5 L1081.7 514.3 L1082.1 508.6 L1082.5 507.5 L1082.9 504.5 L1083.3 501.9 L1083.8 498.8 L1084.3 496.9 L1084.9 495.9 L1085.5 495.0 L1086.2 496.3 L1086.8 498.0 L1087.5 496.2 L1088.1 497.4 L1088.7 497.4 L1089.2 497.5 L1089.9 495.4 L1090.6 498.8 L1091.2 496.2 L1091.8 495.9 L1092.4 495.4 L1093.0 495.0 L1093.7 493.4 L1094.3 494.1 L1095.0 493.8 L1095.4 492.1 L1095.8 493.0 L1096.2 492.5 L1096.8 494.3 L1097.4 495.0 L1098.0 496.2 L1098.7 497.0 L1099.3 496.1 L1100.0 497.5 L1100.7 499.5 L1101.3 497.6 L1102.0 498.8 L1102.6 498.8 L1103.2 502.7 L1103.8 505.0 L1104.3 502.1 L1104.9 499.7 L1105.5 498.8 L1106.2 499.6 L1106.8 501.6 L1107.5 502.5 L1108.1 499.9 L1108.7 499.8 L1109.2 498.8 L1109.9 500.7 L1110.6 500.3 L1111.2 500.0 L1111.8 500.2 L1112.4 501.0 L1113.0 501.2 L1113.7 500.9 L1114.3 500.7 L1115.0 500.5 L1115.6 501.6 L1116.2 500.9 L1116.8 501.2 L1117.4 498.2 L1118.1 500.4 L1118.8 500.0 L1119.2 500.3 L1119.6 503.2 L1120.0 503.8 L1120.7 502.8 L1121.3 503.4 L1122.0 503.0 L1122.6 505.6 L1123.2 502.3 L1123.8 503.8 L1124.3 502.3 L1124.9 501.7 L1125.5 503.0 L1126.2 500.2 L1126.8 500.6 L1127.5 502.5 L1128.1 502.5 L1128.7 501.0 L1129.2 501.2 L1129.9 500.0 L1130.6 501.3 L1131.2 503.8 L1131.8 504.2 L1132.4 502.4 L1133.0 503.0 L1133.7 502.8 L1134.3 503.9 L1135.0 503.8 L1135.6 504.4 L1136.2 504.2 L1136.8 501.2 L1137.4 502.6 L1138.1 501.9 L1138.8 502.0 L1139.3 502.5 L1139.9 504.6 L1140.5 503.0 L1141.2 504.8 L1141.8 503.2 L1142.5 503.8 L1143.1 504.7 L1143.7 504.9 L1144.2 505.0 L1144.7 507.6 L1145.1 509.4 L1145.5 512.5 L1145.9 512.9 L1146.3 515.6 L1146.8 518.0 L1147.4 516.3 L1148.1 519.3 L1148.8 518.0 L1149.3 518.4 L1149.9 516.3 L1150.5 517.5 L1151.2 519.2 L1151.8 518.8 L1152.5 518.0 L1153.1 515.7 L1153.7 519.7 L1154.2 517.5 L1154.9 518.6 L1155.6 520.1 L1156.2 518.0 L1156.8 515.2 L1157.4 515.8 L1158.0 513.8 L1158.5 513.1 L1159.0 511.8 L1159.5 510.5 L1160.1 513.0 L1160.7 516.3 L1161.2 517.5 L1161.8 516.0 L1162.4 516.5 L1163.0 518.0 L1163.7 516.7 L1164.3 517.9 L1165.0 518.8 L1165.6 517.8 L1166.2 518.7 L1166.8 518.0 L1167.4 518.5 L1168.1 518.5 L1168.8 518.8 L1169.3 517.6 L1169.9 517.4 L1170.5 517.5 L1171.2 519.8 L1171.8 520.8 L1172.5 521.2 L1173.1 520.5 L1173.7 519.2 L1174.2 518.8 L1174.9 519.2 L1175.6 515.6 L1176.2 515.0 L1176.8 515.9 L1177.4 516.6 L1178.0 515.5 L1178.7 514.9 L1179.3 515.7 L1180.0 514.5 L1180.6 512.6 L1181.2 514.3 L1181.8 512.5 L1182.4 513.6 L1183.1 512.4 L1183.8 515.0 L1184.3 516.2 L1184.9 514.9 L1185.5 516.2 L1186.2 517.9 L1186.8 516.0 L1187.5 517.0 L1188.1 516.2 L1188.7 516.0 L1189.2 515.0 L1189.9 514.0 L1190.6 514.0 L1191.2 513.0 L1191.8 512.2 L1192.4 513.4 L1193.0 512.5 L1193.7 511.7 L1194.3 511.1 L1195.0 510.0 L1195.6 507.4 L1196.2 512.1 L1196.8 511.2 L1197.4 511.0 L1198.1 508.8 L1198.8 510.5 L1199.3 510.3 L1199.9 510.3 L1200.5 509.5 L1201.2 511.0 L1201.8 509.0 L1202.5 510.5 L1203.1 513.3 L1203.7 512.5 L1204.2 513.8 L1204.9 516.6 L1205.6 514.1 L1206.2 514.5 L1206.8 514.7 L1207.4 513.1 L1208.0 513.0 L1208.7 511.6 L1209.3 513.9 L1210.0 512.5 L1210.6 511.8 L1211.2 510.9 L1211.8 507.5 L1212.2 507.2 L1212.8 504.4 L1213.2 503.8 L1213.7 502.3 L1214.1 503.9 L1214.5 505.0 L1215.1 502.6 L1215.7 500.8 L1216.2 500.0 L1216.8 497.3 L1217.4 493.7 L1218.0 490.0 L1218.5 487.2 L1219.0 485.2 L1219.5 482.5 L1220.1 481.5 L1220.7 481.1 L1221.2 480.0 L1221.8 481.5 L1222.4 482.4 L1223.0 482.0 L1223.7 480.6 L1224.3 479.0 L1225.0 480.0 L1225.7 480.7 L1226.3 478.5 L1227.0 477.5 L1227.6 478.5 L1228.2 475.4 L1228.8 477.0 L1229.3 477.2 L1229.9 478.2 L1230.5 478.8 L1231.2 476.3 L1231.8 476.5 L1232.5 476.2 L1233.2 476.6 L1233.8 476.6 L1234.5 475.0 L1235.1 476.3 L1235.7 473.2 L1236.2 473.8 L1236.8 471.0 L1237.4 471.8 L1238.0 470.0 L1238.7 471.9 L1239.3 471.9 L1240.0 472.5 L1240.6 472.3 L1241.2 475.9 L1241.8 476.2 L1242.4 474.6 L1243.1 471.9 L1243.8 468.8 L1244.3 469.5 L1244.9 471.6 L1245.5 472.5 L1246.2 473.0 L1246.8 471.1 L1247.5 471.2 L1248.1 470.5 L1248.7 474.1 L1249.2 475.0 L1249.9 476.4 L1250.6 476.7 L1251.2 477.5 L1251.7 476.0 L1252.1 471.9 L1252.5 470.0 L1253.2 470.3 L1253.8 470.5 L1254.5 471.2 L1255.1 471.3 L1255.7 471.8 L1256.2 469.5 L1256.8 469.4 L1257.4 472.1 L1258.0 470.0 L1258.7 470.8 L1259.3 469.2 L1260.0 467.5 L1260.6 465.6 L1261.2 464.4 L1261.8 460.0 L1262.2 458.1 L1262.8 456.5 L1263.2 455.0 L1263.8 450.9 L1264.4 449.7 L1265.0 446.2 L1265.6 446.5 L1266.2 444.3 L1266.8 442.5 L1267.4 443.4 L1268.1 443.1 L1268.8 443.8 L1269.3 446.9 L1269.9 448.0 L1270.5 452.5 L1271.2 454.9 L1271.8 454.5 L1272.5 456.2 L1273.1 453.8 L1273.7 452.9 L1274.2 452.5 L1274.9 452.0 L1275.6 454.3 L1276.2 453.8 L1276.8 456.2 L1277.4 454.8 L1278.0 457.5 L1278.7 456.9 L1279.3 455.1 L1280.0 452.5 L1280.7 451.0 L1281.3 449.2 L1282.0 450.0 L1282.6 448.3 L1283.2 447.6 L1283.8 447.5 L1284.3 449.1 L1284.9 449.6 L1285.5 451.2 L1286.2 448.6 L1286.8 450.7 L1287.5 450.0 L1288.1 449.6 L1288.7 453.5 L1289.2 453.8 L1289.9 452.8 L1290.6 453.8 L1291.2 455.0 L1291.8 454.9 L1292.4 456.1 L1293.0 457.5 L1293.7 457.3 L1294.3 455.1 L1295.0 452.5 L1295.6 451.1 L1296.2 448.7 L1296.8 446.2 L1297.4 446.6 L1298.1 449.8 L1298.8 452.5 L1299.3 450.6 L1299.9 448.9 L1300.5 448.8 L1301.0 446.8 L1301.5 442.9 L1302.0 441.2 L1302.6 440.1 L1303.2 439.3 L1303.8 440.0 L1304.3 439.4 L1304.9 444.0 L1305.5 445.0 L1306.0 449.8 L1306.5 451.9 L1307.0 455.0 L1307.6 456.0 L1308.2 456.2 L1308.8 461.2 L1309.3 460.6 L1309.9 460.9 L1310.5 458.8 L1311.2 460.3 L1311.8 462.3 L1312.5 462.5 L1313.1 465.4 L1313.7 466.2 L1314.2 466.2 L1314.8 464.9 L1315.2 465.7 L1315.8 463.8 L1316.3 467.5 L1316.9 467.9 L1317.5 472.5 L1318.1 472.5 L1318.7 471.8 L1319.2 473.8 L1319.9 471.5 L1320.6 470.2 L1321.2 467.5 L1321.8 464.7 L1322.4 461.9 L1323.0 462.5 L1323.7 463.1 L1324.3 461.2 L1325.0 460.0 L1325.6 462.0 L1326.2 459.4 L1326.8 461.2 L1327.4 462.7 L1328.1 464.0 L1328.8 462.0 L1329.3 463.5 L1329.9 460.4 L1330.5 460.0 L1331.2 460.7 L1331.8 460.7 L1332.5 461.2 L1333.1 461.1 L1333.7 459.9 L1334.2 457.5 L1334.9 455.5 L1335.6 451.8 L1336.2 451.2 L1336.8 450.0 L1337.4 446.6 L1338.0 445.0 L1338.5 444.0 L1339.0 442.0 L1339.5 440.0 L1340.1 439.3 L1340.7 436.3 L1341.2 432.5 L1341.8 430.3 L1342.4 429.6 L1343.0 427.5 L1343.7 429.3 L1344.3 426.6 L1345.0 427.0 L1345.6 427.8 L1346.2 429.0 L1346.8 428.0 L1347.4 429.9 L1348.1 429.6 L1348.8 429.5 L1349.3 429.0 L1349.9 430.1 L1350.5 432.5 L1351.2 433.6 L1351.8 434.6 L1352.5 435.0 L1353.1 435.3 L1353.7 429.1 L1354.2 427.5 L1354.8 424.6 L1355.2 420.0 L1355.8 415.0 L1356.2 409.0 L1356.6 405.8 L1357.0 402.5 L1357.4 399.8 L1357.8 396.1 L1358.2 393.8 L1358.8 394.4 L1359.4 395.9 L1360.0 396.2 L1360.4 393.3 L1360.8 392.6 L1361.2 390.0 L1361.7 386.0 L1362.1 382.7 L1362.5 380.0 L1362.9 379.3 L1363.3 376.9 L1363.8 376.2 L1364.2 378.2 L1364.6 381.3 L1365.0 381.2 L1365.4 384.2 L1365.8 386.9 L1366.2 390.0 L1366.8 390.0 L1367.4 387.9 L1368.0 387.5 L1368.5 386.2 L1369.0 381.1 L1369.5 380.0 L1370.1 379.2 L1370.7 376.4 L1371.2 375.5 L1371.8 375.7 L1372.4 379.6 L1373.0 378.8 L1373.5 379.9 L1374.0 384.8 L1374.5 385.0 L1374.9 389.1 L1375.3 393.3 L1375.8 395.0 L1376.2 395.6 L1376.6 399.7 L1377.0 400.0 L1377.4 404.5 L1377.8 405.7 L1378.2 408.8 L1378.7 404.9 L1379.1 404.0 L1379.5 397.5 L1380.0 401.4 L1380.5 405.0 L1380.9 409.5 L1381.3 414.3 L1381.8 420.0 L1382.2 417.2 L1382.8 413.7 L1383.2 410.0 L1383.8 411.9 L1384.4 415.2 L1385.0 415.0 L1385.4 411.3 L1385.8 408.9 L1386.2 405.0 L1386.7 404.5 L1387.1 399.7 L1387.5 398.8 L1388.1 400.3 L1388.7 401.6 L1389.2 400.0 L1389.8 397.7 L1390.2 397.1 L1390.8 397.5 L1391.3 395.9 L1391.9 394.6 L1392.5 396.2 L1393.1 399.2 L1393.7 399.2 L1394.2 403.8 L1394.8 408.9 L1395.2 414.5 L1395.8 417.5 L1396.3 414.1 L1396.9 413.8 L1397.5 412.5 L1398.1 407.9 L1398.7 408.4 L1399.2 405.0 L1399.9 402.5 L1400.6 401.4 L1401.2 400.0 L1401.8 400.9 L1402.4 402.3 L1403.0 402.5 L1403.5 403.8 L1404.0 405.8 L1404.5 407.5 L1405.1 409.4 L1405.7 412.6 L1406.2 415.0 L1406.8 415.4 L1407.4 418.4 L1408.0 420.0 L1408.7 419.5 L1409.3 422.8 L1410.0 425.0 L1410.6 428.4 L1411.2 427.6 L1411.8 428.8 L1412.2 429.4 L1412.6 433.2 L1413.0 435.0 L1413.5 430.6 L1414.0 426.5 L1414.5 425.0 L1415.1 422.1 L1415.7 421.6 L1416.2 418.8 L1416.8 420.4 L1417.4 421.1 L1418.0 422.5 L1418.5 423.1 L1419.0 424.6 L1419.5 427.5 L1420.1 429.8 L1420.7 429.4 L1421.2 430.0 L1421.8 429.8 L1422.4 429.3 L1423.0 432.5 L1423.5 431.8 L1424.0 436.9 L1424.5 435.0 L1425.1 437.5 L1425.7 442.4 L1426.2 446.2 L1426.8 442.7 L1427.4 438.6 L1428.0 435.0 L1428.5 433.0 L1429.0 430.2 L1429.5 430.0 L1430.1 430.1 L1430.7 434.4 L1431.2 433.8 L1431.8 434.2 L1432.4 437.2 L1433.0 437.5 L1433.7 436.5 L1434.3 438.9 L1435.0 440.0 L1435.6 439.9 L1436.2 440.3 L1436.8 438.8 L1437.4 436.3 L1438.1 436.9 L1438.8 435.0 L1439.3 436.3 L1439.9 435.9 L1440.5 437.5 L1441.0 434.7 L1441.5 429.8 L1442.0 427.5 L1442.6 425.0 L1443.2 424.1 L1443.8 422.5 L1444.3 418.7 L1444.9 420.7 L1445.5 420.0 L1446.0 415.1 L1446.5 410.9 L1447.0 408.8 L1447.4 407.9 L1447.8 408.8 L1448.2 407.5 L1448.8 410.4 L1449.4 415.6 L1450.0 417.5 L1450.6 415.8 L1451.2 415.2 L1451.8 416.2 L1452.2 418.8 L1452.8 418.4 L1453.2 418.8 L1453.8 419.0 L1454.4 416.2 L1455.0 416.2 L1455.6 419.2 L1456.2 420.7 L1456.8 422.5 L1457.4 424.5 L1458.1 425.0 L1458.8 426.2 L1459.3 426.7 L1459.9 423.9 L1460.5 423.8 L1461.2 421.4 L1461.8 419.6 L1462.5 420.0 L1463.1 420.4 L1463.7 417.5 L1464.2 417.5 L1464.8 416.2 L1465.2 416.1 L1465.8 417.0 L1466.3 417.9 L1466.9 418.4 L1467.5 421.2 L1468.1 421.8 L1468.7 422.2 L1469.2 423.8 L1469.9 424.0 L1470.6 424.4 L1471.2 426.2 L1471.8 427.1 L1472.4 427.4 L1473.0 428.8 L1473.7 430.1 L1474.3 431.5 L1475.0 432.5 L1475.6 432.5 L1476.2 429.3 L1476.8 431.2 L1477.4 431.9 L1478.1 432.9 L1478.8 435.0 L1479.3 436.7 L1479.9 434.9 L1480.5 437.5 L1481.2 437.5 L1481.8 438.8 L1482.5 440.0 L1483.1 440.9 L1483.7 443.6 L1484.2 443.8 L1484.8 444.5 L1485.2 447.3 L1485.8 447.5 L1486.3 447.6 L1486.9 448.8 L1487.5 452.5 L1488.1 453.0 L1488.7 451.3 L1489.2 450.0 L1489.9 449.3 L1490.6 447.6 L1491.2 446.2 L1491.8 447.2 L1492.4 445.7 L1493.0 447.5 L1493.5 451.0 L1494.0 451.9 L1494.5 455.0 L1495.1 457.8 L1495.7 458.4 L1496.2 460.0 L1496.8 459.1 L1497.4 461.1 L1498.0 463.8 L1498.5 465.8 L1499.0 465.3 L1499.5 466.2 L1500.1 464.1 L1500.7 463.2 L1501.2 461.2 L1501.8 460.4 L1502.4 459.8 L1503.0 460.0 L1503.7 458.9 L1504.3 457.7 L1505.0 456.2 L1505.6 454.6 L1506.2 449.6 L1506.8 446.2 L1507.2 446.2 L1507.8 444.1 L1508.2 440.0 L1508.8 441.5 L1509.4 440.3 L1510.0 438.8 L1510.6 437.6 L1511.2 436.4 L1511.8 435.0 L1512.2 434.0 L1512.8 432.5 L1513.2 432.5 L1513.8 432.0 L1514.4 431.0 L1515.0 431.2 L1515.6 435.6 L1516.2 436.8 L1516.8 438.8 L1517.2 438.7 L1517.8 437.5 L1518.2 440.0 L1518.8 437.9 L1519.4 435.4 L1520.0 433.8 L1520.6 432.1 L1521.2 431.7 L1521.8 432.5 L1522.2 430.4 L1522.8 434.0 L1523.2 433.8 L1523.8 435.8 L1524.4 440.8 L1525.0 440.0 L1525.6 441.2 L1526.2 442.3 L1526.8 443.8 L1527.2 447.4 L1527.8 448.1 L1528.2 450.0 L1528.8 453.5 L1529.4 456.3 L1530.0 460.0 L1530.4 464.3 L1530.8 471.6 L1531.2 475.0 L1531.7 472.8 L1532.1 470.2 L1532.5 465.0 L1533.1 460.9 L1533.7 457.5 L1534.2 453.8 L1534.8 455.7 L1535.2 460.6 L1535.8 462.5 L1536.3 459.3 L1536.9 459.8 L1537.5 457.5 L1538.1 459.5 L1538.7 460.7 L1539.2 460.0 L1539.8 460.2 L1540.2 463.7 L1540.8 463.8 L1541.3 462.1 L1541.9 461.3 L1542.5 461.2 L1543.1 459.4 L1543.7 461.7 L1544.2 460.0 L1544.9 462.2 L1545.6 460.2 L1546.2 461.2 L1546.8 458.3 L1547.4 456.7 L1548.0 455.0 L1548.5 455.7 L1549.0 451.9 L1549.5 448.8 L1550.1 447.3 L1550.7 445.1 L1551.2 446.2 L1551.8 445.9 L1552.4 448.4 L1553.0 447.5 L1553.5 453.3 L1554.0 454.7 L1554.5 458.8 L1555.1 457.6 L1555.7 457.4 L1556.2 457.5 L1556.8 456.7 L1557.4 461.0 L1558.0 461.2 L1558.7 459.6 L1559.3 461.6 L1560.0 460.0 L1560.6 459.4 L1561.2 461.1 L1561.8 463.8 L1562.2 463.2 L1562.8 461.2 L1563.2 461.2 L1563.7 465.0 L1564.1 467.1 L1564.5 470.0 L1565.1 470.8 L1565.7 474.9 L1566.2 476.2 L1566.8 475.1 L1567.4 470.0 L1568.0 470.0 L1568.7 471.2 L1569.3 468.9 L1570.0 467.5 L1570.6 466.7 L1571.2 462.1 L1571.8 462.5 L1572.2 460.5 L1572.8 459.6 L1573.2 458.8 L1573.8 460.8 L1574.4 458.8 L1575.0 461.2 L1575.6 461.1 L1576.2 460.7 L1576.8 463.8 L1577.4 460.6 L1578.1 458.3 L1578.8 455.0 L1579.3 451.9 L1579.9 451.8 L1580.5 451.2 L1581.2 452.6 L1581.8 454.7 L1582.5 453.8 L1583.1 452.8 L1583.7 450.1 L1584.2 448.8 L1584.9 447.0 L1585.6 446.9 L1586.2 447.5 L1586.8 445.9 L1587.4 446.0 L1588.0 445.0 L1588.5 444.5 L1589.0 446.0 L1589.5 443.8 L1590.1 446.1 L1590.7 446.7 L1591.2 450.0 L1591.8 454.2 L1592.4 456.0 L1593.0 457.5 L1593.7 458.0 L1594.3 457.5 L1595.0 458.8 L1595.6 455.0 L1596.2 454.3 L1596.8 453.8 L1597.4 454.3 L1598.1 452.0 L1598.8 452.5 L1599.2 452.7 L1599.6 456.0 L1600.0 457.5 L1600.6 458.6 L1601.2 459.8 L1601.8 460.0 L1602.4 458.6 L1603.1 457.4 L1603.8 453.8 L1604.3 453.2 L1604.9 455.7 L1605.5 455.0 L1606.2 451.4 L1606.8 450.8 L1607.5 447.5 L1608.1 446.0 L1608.7 444.4 L1609.2 442.5 L1609.9 442.7 L1610.6 440.8 L1611.2 440.0 L1611.8 440.8 L1612.4 440.1 L1613.0 438.8 L1613.7 440.6 L1614.3 441.5 L1615.0 443.8 L1615.6 443.8 L1616.2 444.8 L1616.8 446.2 L1617.4 446.4 L1618.1 447.1 L1618.8 447.5 L1619.3 448.3 L1619.9 443.2 L1620.5 440.0 L1621.0 438.3 L1621.5 434.1 L1622.0 432.5 L1622.4 431.3 L1622.8 431.3 L1623.2 431.2 L1623.8 433.5 L1624.4 434.3 L1625.0 437.5 L1625.6 440.9 L1626.2 440.2 L1626.8 442.5 L1627.4 442.9 L1628.1 438.3 L1628.8 440.0 L1629.3 436.7 L1629.9 433.6 L1630.5 430.0 L1631.0 428.5 L1631.5 427.3 L1632.0 425.0 L1632.6 424.5 L1633.2 423.5 L1633.8 422.5 L1634.3 417.9 L1634.9 416.7 L1635.5 415.0 L1636.0 409.9 L1636.5 410.7 L1637.0 407.5 L1637.6 404.5 L1638.2 400.6 L1638.8 397.5 L1639.3 395.8 L1639.9 395.2 L1640.5 395.0 L1641.2 396.2 L1641.8 395.2 L1642.5 392.5 L1643.1 391.2 L1643.7 391.4 L1644.2 388.8 L1644.9 385.8 L1645.6 384.1 L1646.2 385.0 L1646.7 383.6 L1647.1 382.4 L1647.5 382.5 L1647.9 381.5 L1648.3 381.9 L1648.8 381.2 L1649.3 385.8 L1649.9 383.0 L1650.5 385.0 L1651.0 386.7 L1651.5 388.6 L1652.0 390.0 L1652.6 391.6 L1653.2 394.4 L1653.8 395.0 L1654.3 396.1 L1654.9 392.0 L1655.5 392.5 L1656.2 391.8 L1656.8 390.5 L1657.5 390.0 L1658.1 391.2 L1658.7 390.0 L1659.2 392.5 L1659.9 390.1 L1660.6 389.1 L1661.2 391.2 L1661.8 392.7 L1662.4 393.1 L1663.0 393.8 L1663.5 392.6 L1664.0 388.6 L1664.5 390.0 L1665.1 391.3 L1665.7 392.5 L1666.2 395.0 L1666.8 394.7 L1667.4 396.5 L1668.0 398.8 L1668.5 400.4 L1669.0 401.0 L1669.5 401.2 L1670.1 399.1 L1670.7 397.6 L1671.2 395.0 L1671.8 391.8 L1672.4 390.1 L1673.0 387.5 L1673.5 386.7 L1674.0 386.4 L1674.5 385.0 L1675.1 384.8 L1675.7 384.5 L1676.2 384.5 L1676.7 387.0 L1677.1 389.1 L1677.5 392.5 L1677.9 398.3 L1678.3 399.7 L1678.8 402.5 L1679.3 404.6 L1679.9 408.4 L1680.5 407.5 L1681.2 409.9 L1681.8 407.5 L1682.5 410.0 L1683.1 412.4 L1683.7 414.3 L1684.2 415.0 L1684.8 415.0 L1685.2 412.3 L1685.8 408.8 L1686.3 412.5 L1686.9 413.3 L1687.5 417.5 L1688.1 417.8 L1688.7 420.3 L1689.2 421.2 L1689.9 422.6 L1690.6 421.8 L1691.2 423.8 L1691.8 422.1 L1692.4 420.8 L1693.0 420.0 L1693.7 419.2 L1694.3 418.7 L1695.0 417.5 L1695.6 414.7 L1696.2 411.1 L1696.8 410.0 L1697.2 409.7 L1697.8 408.4 L1698.2 405.0 L1698.8 409.1 L1699.4 414.5 L1700.0 417.5 L1700.6 420.5 L1701.2 423.2 L1701.8 425.0 L1702.2 425.9 L1702.8 425.0 L1703.2 426.2 L1703.8 424.8 L1704.4 423.2 L1705.0 420.0 L1705.6 417.3 L1706.2 418.8 L1706.8 415.0 L1707.4 415.2 L1708.1 412.8 L1708.8 408.8 L1709.3 410.1 L1709.9 407.9 L1710.5 406.2 L1711.2 405.0 L1711.8 403.9 L1712.5 403.8 L1713.1 402.0 L1713.7 402.2 L1714.2 401.2 L1714.8 401.6 L1715.2 402.8 L1715.8 402.5 L1716.3 401.5 L1716.9 407.5 L1717.5 406.2 L1718.2 408.3 L1718.8 405.4 L1719.5 405.0 L1720.1 406.6 L1720.7 407.2 L1721.2 407.5 L1721.8 409.5 L1722.4 410.6 L1723.0 412.5 L1723.7 411.1 L1724.3 409.1 L1725.0 408.8 L1725.6 409.4 L1726.2 409.6 L1726.8 410.0 L1727.2 412.0 L1727.8 412.4 L1728.2 415.0 L1728.8 416.7 L1729.4 418.4 L1730.0 420.0 L1730.6 421.5 L1731.2 420.5 L1731.8 422.5 L1732.4 424.2 L1733.1 426.1 L1733.8 426.2 L1734.3 426.5 L1734.9 425.0 L1735.5 425.0 L1736.2 425.3 L1736.8 426.4 L1737.5 427.5 L1738.1 427.9 L1738.7 428.4 L1739.2 426.2 L1739.9 425.7 L1740.6 424.7 L1741.2 425.0 L1741.8 426.7 L1742.4 427.7 L1743.0 428.8 L1743.7 427.3 L1744.3 427.1 L1745.0 427.5 L1745.6 426.7 L1746.2 426.9 L1746.8 425.5 L1747.2 424.4 L1747.8 424.9 L1748.2 426.2 L1748.8 428.0 L1749.4 427.4 L1750.0 430.0 L1750.6 433.5 L1751.2 437.1 L1751.8 440.0 L1752.2 443.2 L1752.8 445.5 L1753.2 450.0 L1753.7 451.2 L1754.1 452.1 L1754.5 453.8 L1755.1 451.2 L1755.7 447.0 L1756.2 445.0 L1756.8 442.9 L1757.4 436.5 L1758.0 435.0 L1758.5 435.6 L1759.0 436.7 L1759.5 437.5 L1760.1 441.5 L1760.7 442.7 L1761.2 446.2 L1761.7 445.6 L1762.1 443.1 L1762.5 442.5 L1763.1 445.8 L1763.7 449.4 L1764.2 450.0 L1764.7 452.9 L1765.1 457.2 L1765.5 460.0 L1766.0 461.5 L1766.5 466.1 L1767.0 467.5 L1767.6 467.2 L1768.2 464.2 L1768.8 462.5 L1769.3 459.6 L1769.9 459.6 L1770.5 457.5 L1771.2 459.2 L1771.8 459.5 L1772.5 458.8 L1772.9 459.6 L1773.3 456.7 L1773.8 458.8 L1774.2 457.2 L1774.6 458.6 L1775.0 456.2 L1775.6 453.7 L1776.2 455.0 L1776.8 452.5 L1777.2 453.7 L1777.8 451.7 L1778.2 450.0 L1778.8 452.5 L1779.4 452.1 L1780.0 453.8 L1780.6 451.6 L1781.2 452.0 L1781.8 451.2 L1782.2 450.2 L1782.8 449.5 L1783.2 448.8 L1783.8 450.8 L1784.4 451.1 L1785.0 452.5 L1785.6 454.4 L1786.2 456.3 L1786.8 457.5 L1787.4 456.7 L1788.1 457.9 L1788.8 455.0 L1789.3 456.7 L1789.9 457.6 L1790.5 458.8 L1791.2 457.7 L1791.8 456.4 L1792.5 456.2 L1793.1 459.8 L1793.7 460.6 L1794.2 462.5 L1794.9 463.4 L1795.6 466.0 L1796.2 468.8 L1796.9 470.5 L1797.6 472.1 L1798.2 474.5 L1798.8 472.9 L1799.4 467.7 L1800.0 466.2 L1800.6 464.3 L1801.2 461.4 L1801.8 458.8 L1802.2 456.2 L1802.8 456.3 L1803.2 455.0 L1803.8 456.1 L1804.4 458.1 L1805.0 458.8 L1805.6 457.7 L1806.2 457.9 L1806.8 457.0 L1807.4 454.9 L1808.1 455.3 L1808.8 456.2 L1809.3 456.7 L1809.9 456.6 L1810.5 455.0 L1811.0 453.3 L1811.5 451.0 L1812.0 450.0 L1812.4 447.9 L1812.8 441.0 L1813.2 440.0 L1813.8 438.5 L1814.4 439.4 L1815.0 438.0 L1815.7 439.0 L1816.3 437.4 L1817.0 438.8 L1817.6 436.3 L1818.2 439.5 L1818.8 437.5 L1819.3 438.1 L1819.9 437.3 L1820.5 438.8 L1821.2 438.2 L1821.8 438.6 L1822.5 437.0 L1823.1 433.5 L1823.7 436.9 L1824.2 435.0 L1824.8 435.4 L1825.2 431.9 L1825.8 433.8 L1826.3 436.3 L1826.9 435.1 L1827.5 438.8 L1827.9 437.9 L1828.3 435.0 L1828.8 432.5 L1829.2 432.1 L1829.6 426.0 L1830.0 423.8 L1830.6 422.9 L1831.2 423.2 L1831.8 421.2 L1832.2 419.7 L1832.8 418.8 L1833.2 418.8 L1833.8 419.6 L1834.4 421.2 L1835.0 422.5 L1835.6 420.6 L1836.2 421.7 L1836.8 420.5 L1837.4 421.9 L1838.1 422.2 L1838.8 423.0 L1839.3 423.7 L1839.9 420.3 L1840.5 419.5 L1841.2 420.1 L1841.8 417.2 L1842.5 417.0 L1843.1 418.2 L1843.7 415.5 L1844.2 418.0 L1844.8 416.8 L1845.2 415.0 L1845.8 413.8 L1846.2 412.0 L1846.6 410.6 L1847.0 410.0 L1847.4 412.1 L1847.8 414.2 L1848.2 417.5 L1848.8 414.7 L1849.4 416.0 L1850.0 416.2 L1850.6 416.2 L1851.2 416.8 L1851.8 418.0 L1852.2 418.3 L1852.8 420.9 L1853.2 422.5 L1853.8 424.9 L1854.4 425.2 L1855.0 427.0 L1855.6 425.8 L1856.2 427.2 L1856.8 425.0 L1857.4 426.5 L1858.1 426.8 L1858.8 426.2 L1859.2 428.8 L1859.6 428.4 L1860.0 430.0 L1860.5 431.4 L1861.0 434.2 L1861.5 434.5 L1862.0 431.1 L1862.5 428.9 L1863.0 426.2 L1863.5 424.7 L1864.0 422.8 L1864.5 420.5 L1865.1 419.2 L1865.7 419.6 L1866.2 417.5 L1866.8 418.6 L1867.4 420.8 L1868.0 421.2 L1868.5 424.1 L1869.0 425.3 L1869.5 426.2 L1870.1 427.6 L1870.7 426.1 L1871.2 428.0 L1871.8 426.0 L1872.4 426.2 L1873.0 426.2 L1873.5 427.6 L1874.0 429.6 L1874.5 428.8 L1875.1 428.2 L1875.7 430.8 L1876.2 431.2 L1876.8 431.6 L1877.4 432.9 L1878.0 435.0 L1878.7 435.9 L1879.3 438.3 L1880.0 438.8 L1880.6 436.7 L1881.2 435.5 L1881.8 432.0 L1882.2 429.4 L1882.8 430.0 L1883.2 427.5 L1883.8 428.9 L1884.4 428.4 L1885.0 428.8 L1885.6 428.7 L1886.2 427.0 L1886.8 427.0 L1887.4 425.3 L1888.1 425.6 L1888.8 425.5 L1889.2 426.7 L1889.6 432.5 L1890.0 431.2 L1890.6 428.6 L1891.2 428.9 L1891.8 425.0 L1892.2 426.9 L1892.8 428.7 L1893.2 430.0 L1893.8 429.8 L1894.4 427.1 L1895.0 427.0 L1895.6 428.6 L1896.2 428.6 L1896.8 428.8 L1897.2 425.4 L1897.8 426.1 L1898.2 423.8 L1898.7 422.1 L1899.1 419.7 L1899.5 417.0 L1900.1 417.7 L1900.7 414.4 L1901.2 413.8 L1901.8 413.5 L1902.4 412.9 L1903.0 411.2 L1903.7 411.1 L1904.3 414.2 L1905.0 413.8 L1905.6 412.6 L1906.2 413.2 L1906.8 415.0 L1907.4 416.2 L1908.1 415.1 L1908.8 417.0 L1909.3 417.5 L1909.9 416.4 L1910.5 418.8 L1911.0 418.0 L1911.5 415.8 L1912.0 416.2 L1912.6 417.7 L1913.2 416.7 L1913.8 419.5 L1914.3 419.2 L1914.9 417.5 L1915.5 417.0 L1916.2 418.2 L1916.8 419.3 L1917.5 420.5 L1918.1 420.3 L1918.7 418.4 L1919.2 419.5 L1919.9 417.5 L1920.6 421.2 L1921.2 422.0 L1921.7 422.6 L1922.1 424.8 L1922.5 427.0 L1923.1 429.1 L1923.7 428.1 L1924.2 432.0 L1924.9 430.5 L1925.6 430.0 L1926.2 430.0 L1926.8 427.6 L1927.4 427.9 L1928.0 426.2 L1928.5 426.5 L1929.0 426.2 L1929.5 427.5 L1930.1 425.2 L1930.7 425.9 L1931.2 423.8 L1931.8 422.2 L1932.4 422.7 L1933.0 421.2 L1933.5 422.3 L1934.0 420.3 L1934.5 423.0 L1934.9 420.0 L1935.3 419.3 L1935.8 417.5 L1936.2 416.6 L1936.6 415.9 L1937.0 413.8 L1937.4 416.7 L1937.8 419.1 L1938.2 420.0 L1938.7 420.6 L1939.1 421.8 L1939.5 423.0 L1940.1 425.2 L1940.7 425.2 L1941.2 427.0 L1941.8 429.6 L1942.4 428.1 L1943.0 431.2 L1943.5 430.9 L1944.0 428.9 L1944.5 428.0 L1945.1 426.3 L1945.7 430.1 L1946.2 429.5 L1946.8 431.3 L1947.4 432.4 L1948.0 433.8 L1948.5 433.8 L1949.0 435.7 L1949.5 437.5 L1950.1 438.7 L1950.7 435.8 L1951.2 436.2 L1951.8 434.3 L1952.4 439.1 L1953.0 442.0 L1953.7 441.7 L1954.3 443.9 L1955.0 445.0 L1955.6 443.9 L1956.2 442.7 L1956.8 443.0 L1957.2 440.9 L1957.8 441.8 L1958.2 439.5 L1958.8 438.7 L1959.4 443.3 L1960.0 442.0 L1960.6 440.7 L1961.2 439.5 L1961.8 440.0 L1962.4 440.4 L1963.1 439.8 L1963.8 438.8 L1964.3 437.0 L1964.9 438.4 L1965.5 437.0 L1966.0 434.1 L1966.5 434.3 L1967.0 434.5 L1967.6 435.2 L1968.2 433.2 L1968.8 433.0 L1969.3 431.4 L1969.9 433.2 L1970.5 432.5 L1971.2 433.3 L1971.8 432.1 L1972.5 432.0 L1973.1 429.8 L1973.7 431.1 L1974.2 431.2 L1974.8 432.0 L1975.2 432.6 L1975.8 432.0 L1976.3 435.2 L1976.9 434.1 L1977.5 435.5 L1978.1 435.8 L1978.7 437.1 L1979.2 438.0 L1979.9 440.7 L1980.6 439.6 L1981.2 442.0 L1981.9 444.9 L1982.6 441.8 L1983.2 446.2 L1983.8 446.3 L1984.4 443.8 L1985.0 443.8 L1985.6 442.2 L1986.2 440.3 L1986.8 437.5 L1987.2 435.2 L1987.8 435.4 L1988.2 434.5 L1988.8 433.4 L1989.4 432.5 L1990.0 430.5 L1990.6 428.3 L1991.2 427.1 L1991.8 427.0 L1992.2 424.1 L1992.8 428.1 L1993.2 424.5 L1993.8 423.8 L1994.4 423.3 L1995.0 423.0 L1995.7 422.2 L1996.3 425.7 L1997.0 425.5 L1997.4 426.0 L1997.8 429.2 L1998.2 428.8 L1998.7 432.2 L1999.1 433.8 L1999.5 436.2 L1999.9 439.5 L2000.3 440.0 L2000.8 443.8 L2001.2 444.6 L2001.6 445.6 L2002.0 447.5 L2002.6 445.1 L2003.2 445.5 L2003.8 444.5 L2004.3 446.2 L2004.9 449.7 L2005.5 450.0 L2006.0 448.4 L2006.5 453.4 L2007.0 456.2 L2007.6 454.4 L2008.2 454.1 L2008.8 453.8 L2009.3 453.6 L2009.9 453.0 L2010.5 452.0 L2011.0 451.4 L2011.5 450.1 L2012.0 450.0 L2012.6 451.5 L2013.2 452.4 L2013.8 453.0 L2014.2 449.6 L2014.6 449.9 L2015.0 448.8 L2015.6 446.0 L2016.2 445.0 L2016.8 445.0 L2017.2 445.0 L2017.8 444.7 L2018.2 444.5 L2018.8 445.8 L2019.4 445.9 L2020.0 448.0 L2020.6 449.7 L2021.2 450.8 L2021.8 453.8 L2022.2 453.6 L2022.8 453.3 L2023.2 452.0 L2023.8 454.1 L2024.4 453.7 L2025.0 452.5 L2025.6 454.1 L2026.2 457.0 L2026.8 460.0 L2027.2 461.3 L2027.8 465.0 L2028.2 467.0 L2028.8 468.5 L2029.4 466.4 L2030.0 465.0 L2030.6 461.7 L2031.2 462.0 L2031.8 462.5 L2032.2 460.4 L2032.8 461.7 L2033.2 460.5 L2033.8 461.2 L2034.4 462.2 L2035.0 462.5 L2035.4 466.1 L2035.8 464.9 L2036.2 467.5 L2036.8 468.7 L2037.4 473.8 L2038.0 473.8 L2038.5 475.8 L2039.0 476.2 L2039.5 478.8 L2040.1 477.4 L2040.7 478.7 L2041.2 481.2 L2041.8 479.8 L2042.4 483.8 L2043.0 485.0 L2043.5 487.5 L2044.0 491.1 L2044.5 492.5 L2045.1 493.6 L2045.7 494.2 L2046.2 496.2 L2046.8 494.2 L2047.4 495.8 L2048.0 492.5 L2048.5 488.9 L2049.0 489.4 L2049.5 487.5 L2050.1 487.1 L2050.7 487.3 L2051.2 486.2 L2051.8 486.9 L2052.4 489.0 L2053.0 489.5 L2053.5 491.8 L2054.0 492.2 L2054.5 493.8 L2055.1 490.7 L2055.7 488.5 L2056.2 486.2 L2056.8 483.9 L2057.4 483.5 L2058.0 482.5 L2058.5 482.8 L2059.0 484.1 L2059.5 484.5 L2060.1 487.1 L2060.7 488.3 L2061.2 488.0 L2061.8 486.5 L2062.4 486.7 L2063.0 485.0 L2063.5 484.7 L2064.0 484.5 L2064.5 483.0 L2065.1 483.5 L2065.7 484.3 L2066.2 484.5 L2066.8 484.6 L2067.4 484.8 L2068.0 486.2 L2068.5 488.0 L2069.0 489.3 L2069.5 488.8 L2070.1 490.6 L2070.7 491.4 L2071.2 492.0 L2071.8 492.9 L2072.4 492.7 L2073.0 493.8 L2073.5 492.4 L2074.0 495.6 L2074.5 495.5 L2075.1 494.6 L2075.7 492.6 L2076.2 492.0 L2076.8 490.4 L2077.4 492.4 L2078.0 490.5 L2078.7 489.0 L2079.3 493.4 L2080.0 492.0 L2080.6 493.0 L2081.2 495.3 L2081.8 493.0 L2082.4 491.9 L2083.1 492.3 L2083.8 492.0 L2084.3 491.6 L2084.9 492.5 L2085.5 492.5 L2086.2 491.9 L2086.8 490.8 L2087.5 491.2 L2088.1 492.2 L2088.7 489.9 L2089.2 490.5 L2089.8 489.1 L2090.2 489.4 L2090.8 488.0 L2091.3 486.4 L2091.9 485.5 L2092.5 485.0 L2093.1 484.1 L2093.7 482.1 L2094.2 481.2 L2094.8 480.7 L2095.2 482.8 L2095.8 483.8 L2096.3 484.3 L2096.9 487.3 L2097.5 486.2 L2098.1 485.3 L2098.7 487.8 L2099.2 487.0 L2099.8 485.1 L2100.2 484.4 L2100.8 483.8 L2101.3 481.7 L2101.9 480.7 L2102.5 478.8 L2103.1 478.6 L2103.7 478.5 L2104.2 475.5 L2104.8 475.3 L2105.2 478.0 L2105.8 477.0 L2106.3 478.9 L2106.9 479.6 L2107.5 479.5 L2108.1 479.5 L2108.7 482.2 L2109.2 482.0 L2109.8 483.9 L2110.2 486.4 L2110.8 488.0 L2111.3 487.4 L2111.9 488.1 L2112.5 487.0 L2113.1 489.6 L2113.7 491.1 L2114.2 491.2 L2114.8 491.6 L2115.2 493.5 L2115.8 493.0 L2116.3 493.2 L2116.9 489.1 L2117.5 488.8 L2118.1 490.1 L2118.7 486.8 L2119.2 488.0 L2119.8 491.3 L2120.2 494.2 L2120.8 496.2 L2121.3 500.0 L2121.9 500.7 L2122.5 502.5 L2122.9 503.6 L2123.3 505.0 L2123.8 507.5 L2124.3 505.7 L2124.9 507.5 L2125.5 506.2 L2125.9 508.9 L2126.3 511.3 L2126.8 515.0 L2127.2 521.4 L2127.6 525.8 L2128.0 532.5 L2128.4 527.9 L2128.8 523.7 L2129.2 520.0 L2129.8 521.4 L2130.2 520.8 L2130.8 518.8 L2131.3 519.8 L2131.9 519.5 L2132.5 522.5 L2133.1 523.2 L2133.7 523.4 L2134.2 523.8 L2134.8 522.9 L2135.2 521.9 L2135.8 520.0 L2136.3 519.5 L2136.9 520.7 L2137.5 519.5 L2138.1 521.4 L2138.7 521.7 L2139.2 522.5 L2139.8 521.6 L2140.2 521.1 L2140.8 521.2 L2141.3 522.8 L2141.9 521.7 L2142.5 523.8 L2143.1 523.2 L2143.7 522.1 L2144.2 522.5 L2144.8 521.4 L2145.2 524.0 L2145.8 523.8 L2146.3 525.0 L2146.9 526.3 L2147.5 527.5 L2148.1 526.8 L2148.7 522.5 L2149.2 522.5 L2149.8 522.6 L2150.2 523.2 L2150.8 523.0 L2151.3 523.6 L2151.9 521.1 L2152.5 522.0 L2153.1 523.8 L2153.7 524.2 L2154.2 525.0 L2154.8 524.0 L2155.2 521.3 L2155.8 517.5 L2156.3 516.9 L2156.9 517.4 L2157.5 513.8 L2158.1 515.0 L2158.7 515.8 L2159.2 517.5 L2159.8 518.8 L2160.2 519.8 L2160.8 522.5 L2161.3 523.1 L2161.9 521.8 L2162.5 524.5 L2162.9 522.9 L2163.3 522.0 L2163.8 520.0 L2164.2 521.3 L2164.6 520.0 L2165.0 520.5" fill="none" stroke="#3b82f6" stroke-width="4.4" stroke-linejoin="round" stroke-linecap="round"/>
<path d="M85.5 617.5 L86.2 614.5 L86.8 615.5 L87.5 613.8 L88.3 615.6 L89.2 613.9 L90.0 615.0 L90.8 612.3 L91.7 613.2 L92.5 612.5 L93.2 611.5 L93.8 610.7 L94.5 607.5 L95.1 604.1 L95.7 602.4 L96.2 602.5 L97.1 602.2 L97.9 600.7 L98.8 598.8 L99.6 598.8 L100.4 596.0 L101.2 592.5 L102.1 589.9 L102.9 587.1 L103.8 585.0 L104.6 586.9 L105.4 581.3 L106.2 580.0 L106.8 574.7 L107.4 570.1 L108.0 567.5 L108.5 564.3 L109.0 561.0 L109.5 557.5 L110.1 555.5 L110.7 554.4 L111.2 553.0 L111.8 556.5 L112.4 560.3 L113.0 562.5 L113.5 567.4 L114.0 569.5 L114.5 572.5 L115.1 566.7 L115.7 566.8 L116.2 562.5 L116.7 559.3 L117.1 559.8 L117.5 558.8 L117.9 559.6 L118.3 564.6 L118.8 567.5 L119.3 565.6 L119.9 566.1 L120.5 565.0 L121.0 571.3 L121.5 568.3 L122.0 570.0 L122.6 572.8 L123.2 571.5 L123.8 575.0 L124.3 578.8 L124.9 584.3 L125.5 587.5 L126.2 586.5 L126.8 586.4 L127.5 585.0 L128.1 583.9 L128.7 581.1 L129.2 581.2 L129.9 584.5 L130.6 585.1 L131.2 588.8 L131.8 587.6 L132.4 580.5 L133.0 577.5 L133.7 577.6 L134.3 575.8 L135.0 575.0 L135.7 578.0 L136.3 577.5 L137.0 580.0 L137.6 578.1 L138.2 573.2 L138.8 570.0 L139.3 569.3 L139.9 565.9 L140.5 562.5 L141.2 561.9 L141.8 559.7 L142.5 560.0 L142.9 556.1 L143.3 550.7 L143.8 545.0 L144.2 543.5 L144.6 537.0 L145.0 533.8 L145.7 533.7 L146.3 532.8 L147.0 531.2 L147.6 530.4 L148.2 529.0 L148.8 527.5 L149.4 527.3 L150.1 525.8 L150.8 526.2 L151.3 523.6 L151.9 523.2 L152.5 522.5 L153.1 520.0 L153.7 517.9 L154.2 512.5 L154.8 510.5 L155.2 507.3 L155.8 502.5 L156.3 501.1 L156.9 498.5 L157.5 495.0 L158.2 494.8 L158.8 495.2 L159.5 493.8 L160.0 501.9 L160.5 505.0 L160.9 509.5 L161.3 514.0 L161.8 520.0 L162.2 525.7 L162.8 526.2 L163.2 528.8 L163.8 531.8 L164.4 533.3 L165.0 533.8 L165.6 533.4 L166.2 539.7 L166.8 537.5 L167.2 537.5 L167.6 532.7 L168.0 530.0 L168.5 527.7 L169.0 523.5 L169.5 520.0 L170.1 519.6 L170.7 521.5 L171.2 522.5 L171.8 521.8 L172.4 521.6 L173.0 518.8 L173.5 517.7 L174.0 514.7 L174.5 512.5 L175.1 511.1 L175.7 504.8 L176.2 502.5 L176.8 501.1 L177.4 499.1 L178.0 495.0 L178.5 491.7 L179.0 486.7 L179.5 486.2 L179.9 483.6 L180.3 483.7 L180.8 482.0 L181.2 485.0 L181.6 488.7 L182.0 488.8 L182.4 490.3 L182.8 494.6 L183.2 497.5 L183.8 496.7 L184.4 493.9 L185.0 492.5 L185.6 488.8 L186.2 492.8 L186.8 491.2 L187.4 497.4 L188.1 498.5 L188.8 500.0 L189.3 500.4 L189.9 502.8 L190.5 505.0 L191.2 507.8 L191.8 513.5 L192.5 512.5 L192.9 514.6 L193.3 515.2 L193.8 516.2 L194.3 515.5 L194.9 510.3 L195.5 507.5 L196.0 506.8 L196.5 499.9 L197.0 497.5 L197.6 494.8 L198.2 494.3 L198.8 491.2 L199.4 493.7 L200.1 493.0 L200.8 492.5 L201.3 492.1 L201.9 488.3 L202.5 490.0 L203.1 490.7 L203.7 492.5 L204.2 495.0 L204.9 493.0 L205.6 493.3 L206.2 491.2 L206.8 493.3 L207.4 497.4 L208.0 498.8 L208.5 495.9 L209.0 492.5 L209.5 490.0 L210.1 488.9 L210.7 488.1 L211.2 486.2 L211.8 484.5 L212.4 479.7 L213.0 477.5 L213.5 475.5 L214.0 472.3 L214.5 472.5 L215.1 476.0 L215.7 477.0 L216.2 476.2 L216.8 478.1 L217.4 479.7 L218.0 482.5 L218.5 483.3 L219.0 487.7 L219.5 490.0 L219.9 493.6 L220.3 499.7 L220.8 500.0 L221.3 502.8 L221.9 503.9 L222.5 507.5 L223.1 507.0 L223.7 515.3 L224.2 516.2 L224.9 518.6 L225.6 518.2 L226.2 522.5 L226.7 523.2 L227.1 521.1 L227.5 523.8 L228.1 524.9 L228.7 517.8 L229.2 512.5 L229.8 510.0 L230.2 505.6 L230.8 502.5 L231.3 497.0 L231.9 497.3 L232.5 495.0 L233.1 494.1 L233.7 498.3 L234.2 498.8 L234.8 498.7 L235.2 503.3 L235.8 507.5 L236.3 509.6 L236.9 510.6 L237.5 508.8 L238.0 502.5 L238.5 497.4 L239.0 495.0 L239.5 495.4 L240.0 494.5 L240.5 492.5 L241.0 490.3 L241.5 489.9 L242.0 490.0 L242.6 490.7 L243.2 491.7 L243.8 495.0 L244.2 497.4 L244.6 503.4 L245.0 505.0 L245.4 510.1 L245.8 516.2 L246.2 517.5 L246.8 519.0 L247.4 520.6 L248.0 522.5 L248.5 524.5 L249.0 529.0 L249.5 532.5 L249.9 534.8 L250.3 538.3 L250.8 545.0 L251.2 550.1 L251.6 555.3 L252.0 557.5 L252.4 561.2 L252.8 564.4 L253.2 565.0 L253.8 566.2 L254.4 565.7 L255.0 567.5 L255.6 569.7 L256.2 571.1 L256.8 573.8 L257.4 568.4 L258.1 563.9 L258.8 562.5 L259.3 559.2 L259.9 560.0 L260.5 558.8 L261.2 562.7 L261.8 565.6 L262.5 570.0 L263.1 573.3 L263.7 572.8 L264.2 573.8 L264.9 571.6 L265.6 569.6 L266.2 565.0 L266.8 561.4 L267.4 557.2 L268.0 557.5 L268.7 559.4 L269.3 558.2 L270.0 560.0 L270.6 565.2 L271.2 567.1 L271.8 570.0 L272.4 573.9 L273.1 576.1 L273.8 577.5 L274.3 571.3 L274.9 571.8 L275.5 567.5 L276.2 564.9 L276.8 563.1 L277.5 562.5 L278.1 563.6 L278.7 566.9 L279.2 567.5 L279.8 565.0 L280.2 561.4 L280.8 556.2 L281.3 553.1 L281.9 553.8 L282.5 553.8 L283.1 552.5 L283.7 557.8 L284.2 560.0 L284.8 563.3 L285.2 563.9 L285.8 567.5 L286.3 571.2 L286.9 574.5 L287.5 577.5 L288.2 581.4 L288.8 581.4 L289.5 585.0 L290.1 583.4 L290.7 583.1 L291.2 583.8 L291.8 583.3 L292.4 579.4 L293.0 575.0 L293.7 576.5 L294.3 578.6 L295.0 580.0 L295.7 577.7 L296.3 575.3 L297.0 572.5 L297.6 571.4 L298.2 570.4 L298.8 570.0 L299.3 569.9 L299.9 572.4 L300.5 575.0 L301.2 576.5 L301.8 574.1 L302.5 572.5 L303.1 574.3 L303.7 575.5 L304.2 577.5 L304.9 576.8 L305.6 576.3 L306.2 575.0 L306.8 575.8 L307.4 578.6 L308.0 580.0 L308.7 579.1 L309.3 576.5 L310.0 576.2 L310.7 575.6 L311.3 575.7 L312.0 577.5 L312.6 577.7 L313.2 582.1 L313.8 582.5 L314.3 580.0 L314.9 583.8 L315.5 585.0 L316.2 585.0 L316.8 585.8 L317.5 587.5 L318.1 588.5 L318.7 590.7 L319.2 590.0 L319.8 590.5 L320.2 590.6 L320.8 591.2 L321.3 588.7 L321.9 587.7 L322.5 586.2 L323.1 584.6 L323.7 579.9 L324.2 577.5 L324.9 572.6 L325.6 569.1 L326.2 567.5 L326.8 562.6 L327.4 558.9 L328.0 557.5 L328.7 556.5 L329.3 553.0 L330.0 550.0 L330.7 548.8 L331.3 550.4 L332.0 547.5 L332.6 549.1 L333.2 553.6 L333.8 555.0 L334.3 558.2 L334.9 557.0 L335.5 561.2 L336.2 556.2 L336.8 554.1 L337.5 552.5 L338.1 550.4 L338.7 547.6 L339.2 542.5 L339.9 538.3 L340.6 539.0 L341.2 535.0 L341.8 533.6 L342.4 532.8 L343.0 532.5 L343.7 533.4 L344.3 535.4 L345.0 537.5 L345.6 532.0 L346.2 530.3 L346.8 528.8 L347.2 526.6 L347.8 528.6 L348.2 527.5 L348.8 532.5 L349.4 535.5 L350.0 533.8 L350.6 534.5 L351.2 533.8 L351.8 537.5 L352.2 534.0 L352.8 530.4 L353.2 528.8 L353.8 529.4 L354.4 525.4 L355.0 522.5 L355.7 521.9 L356.3 524.6 L357.0 523.8 L357.6 525.3 L358.2 523.1 L358.8 526.2 L359.3 524.7 L359.9 524.2 L360.5 523.8 L361.2 526.3 L361.8 528.9 L362.5 531.2 L363.1 528.7 L363.7 527.3 L364.2 525.0 L364.9 526.3 L365.6 527.9 L366.2 531.2 L366.8 531.3 L367.4 527.6 L368.0 525.0 L368.7 523.9 L369.3 519.4 L370.0 520.0 L370.6 517.7 L371.2 517.0 L371.8 513.8 L372.2 511.1 L372.8 513.6 L373.2 511.2 L373.8 513.6 L374.4 517.6 L375.0 520.0 L375.4 523.1 L375.8 527.0 L376.2 530.0 L376.8 533.8 L377.4 533.6 L378.0 536.2 L378.7 539.3 L379.3 536.8 L380.0 538.8 L380.7 534.5 L381.3 533.9 L382.0 530.0 L382.6 527.3 L383.2 527.0 L383.8 526.2 L384.3 527.5 L384.9 527.9 L385.5 526.2 L386.0 525.4 L386.5 530.3 L387.0 531.2 L387.4 538.5 L387.8 542.1 L388.2 545.0 L388.8 547.6 L389.4 550.0 L390.0 553.8 L390.6 550.4 L391.2 546.3 L391.8 545.0 L392.2 542.5 L392.8 540.6 L393.2 538.8 L393.8 540.6 L394.4 544.6 L395.0 545.0 L395.6 547.2 L396.2 548.0 L396.8 552.5 L397.4 552.3 L398.1 547.7 L398.8 547.5 L399.2 541.0 L399.6 535.6 L400.0 530.0 L400.6 528.7 L401.2 526.9 L401.8 527.5 L402.2 523.8 L402.8 523.9 L403.2 517.5 L403.8 512.5 L404.4 509.0 L405.0 505.0 L405.6 505.3 L406.2 503.5 L406.8 501.2 L407.4 503.2 L408.1 504.1 L408.8 503.8 L409.3 499.3 L409.9 499.2 L410.5 498.8 L411.2 497.3 L411.8 496.1 L412.5 493.8 L413.1 492.6 L413.7 488.6 L414.2 485.0 L414.9 483.0 L415.6 481.7 L416.2 480.0 L416.8 479.3 L417.4 479.5 L418.0 478.8 L418.5 476.8 L419.0 472.4 L419.5 470.0 L420.1 466.8 L420.7 464.6 L421.2 463.8 L421.8 468.2 L422.4 471.4 L423.0 472.5 L423.5 476.4 L424.0 478.7 L424.5 480.0 L425.1 480.3 L425.7 478.3 L426.2 477.5 L426.8 483.0 L427.4 485.2 L428.0 491.2 L428.7 488.0 L429.3 484.4 L430.0 482.5 L430.7 482.3 L431.3 479.2 L432.0 478.8 L432.6 479.8 L433.2 481.8 L433.8 482.5 L434.3 482.3 L434.9 477.2 L435.5 476.2 L436.2 477.0 L436.8 481.6 L437.5 482.5 L438.1 478.5 L438.7 478.1 L439.2 475.0 L439.8 470.0 L440.2 466.5 L440.8 462.5 L441.2 458.7 L441.6 461.0 L442.0 458.8 L442.6 460.1 L443.2 461.7 L443.8 465.0 L444.3 470.4 L444.9 471.0 L445.5 472.5 L446.2 475.7 L446.8 469.7 L447.5 467.5 L448.1 468.7 L448.7 471.0 L449.2 472.5 L449.7 478.9 L450.1 480.8 L450.5 485.0 L451.0 489.0 L451.5 492.4 L452.0 495.0 L452.6 492.5 L453.2 492.7 L453.8 491.2 L454.3 491.8 L454.9 492.0 L455.5 495.0 L456.2 494.1 L456.8 491.8 L457.5 488.8 L458.1 491.8 L458.7 493.3 L459.2 497.5 L459.9 497.6 L460.6 504.0 L461.2 506.2 L461.8 502.4 L462.4 496.4 L463.0 495.0 L463.7 494.5 L464.3 492.0 L465.0 493.8 L465.6 495.4 L466.2 497.3 L466.8 498.8 L467.2 503.0 L467.8 506.6 L468.2 510.0 L468.8 514.4 L469.4 516.7 L470.0 522.5 L470.6 521.1 L471.2 520.1 L471.8 520.0 L472.4 518.8 L473.1 518.7 L473.8 517.5 L474.3 522.5 L474.9 528.1 L475.5 530.0 L476.2 524.7 L476.8 527.2 L477.5 525.0 L478.2 523.1 L478.8 524.9 L479.5 520.0 L480.1 524.6 L480.7 524.4 L481.2 530.0 L481.8 531.4 L482.4 530.9 L483.0 532.5 L483.7 532.2 L484.3 527.7 L485.0 527.5 L485.6 528.6 L486.2 529.8 L486.8 531.2 L487.4 528.2 L488.1 524.6 L488.8 522.5 L489.4 518.3 L490.1 519.8 L490.8 517.5 L491.3 519.3 L491.9 518.2 L492.5 518.8 L493.1 516.9 L493.7 518.2 L494.2 517.5 L494.8 521.6 L495.2 523.9 L495.8 527.5 L496.3 528.3 L496.9 531.1 L497.5 530.0 L498.2 527.2 L498.8 526.7 L499.5 526.2 L500.1 525.2 L500.7 528.6 L501.2 531.2 L501.8 531.5 L502.4 532.4 L503.0 535.0 L503.7 536.5 L504.3 542.5 L505.0 542.5 L505.6 544.7 L506.2 547.3 L506.8 550.0 L507.4 552.2 L508.1 548.2 L508.8 547.5 L509.3 544.2 L509.9 546.4 L510.5 545.0 L511.2 542.4 L511.8 544.8 L512.5 541.2 L513.1 540.8 L513.7 542.9 L514.2 545.0 L514.9 542.3 L515.6 544.3 L516.2 543.8 L516.8 544.4 L517.4 547.8 L518.0 550.0 L518.5 552.8 L519.0 555.8 L519.5 560.0 L520.1 564.7 L520.7 568.0 L521.2 570.0 L521.8 571.3 L522.4 571.2 L523.0 573.8 L523.7 570.2 L524.3 570.0 L525.0 567.5 L525.6 570.0 L526.2 565.2 L526.8 565.0 L527.4 563.1 L528.1 562.4 L528.8 562.5 L529.3 561.4 L529.9 562.0 L530.5 563.8 L531.2 562.2 L531.8 563.3 L532.5 560.0 L533.1 561.7 L533.7 562.6 L534.2 565.0 L534.8 560.2 L535.2 560.3 L535.8 557.5 L536.3 554.1 L536.9 549.1 L537.5 547.5 L538.1 544.3 L538.7 544.1 L539.2 542.5 L539.9 543.5 L540.6 542.5 L541.2 541.2 L541.8 541.1 L542.4 540.0 L543.0 540.0 L543.7 542.1 L544.3 543.3 L545.0 545.0 L545.6 546.8 L546.2 540.9 L546.8 541.2 L547.4 539.9 L548.1 541.4 L548.8 538.8 L549.3 538.8 L549.9 541.6 L550.5 540.0 L551.0 543.3 L551.5 546.9 L552.0 550.0 L552.6 552.0 L553.2 553.1 L553.8 557.5 L554.3 558.6 L554.9 565.6 L555.5 565.0 L556.2 566.3 L556.8 566.7 L557.5 566.2 L558.2 565.9 L558.8 563.7 L559.5 561.2 L560.1 563.1 L560.7 561.7 L561.2 562.5 L561.7 558.0 L562.1 555.5 L562.5 550.0 L563.1 546.6 L563.7 542.3 L564.2 541.2 L564.8 540.1 L565.2 538.8 L565.8 538.8 L566.3 541.7 L566.9 541.9 L567.5 545.0 L568.1 549.3 L568.7 556.2 L569.2 562.5 L569.8 562.2 L570.2 557.4 L570.8 555.0 L571.3 552.7 L571.9 550.0 L572.5 547.5 L573.1 549.6 L573.7 552.1 L574.2 552.5 L574.9 557.8 L575.6 556.9 L576.2 562.5 L576.8 563.6 L577.4 560.8 L578.0 560.0 L578.7 557.9 L579.3 560.0 L580.0 555.0 L580.7 553.1 L581.3 554.4 L582.0 550.0 L582.6 552.2 L583.2 550.2 L583.8 552.5 L584.3 551.5 L584.9 550.2 L585.5 547.5 L586.2 548.2 L586.8 545.9 L587.5 550.0 L588.1 547.0 L588.7 544.7 L589.2 542.5 L589.9 539.3 L590.6 541.7 L591.2 537.5 L591.8 535.5 L592.4 533.6 L593.0 532.5 L593.7 530.8 L594.3 528.9 L595.0 528.8 L595.6 528.5 L596.2 530.5 L596.8 531.2 L597.4 532.5 L598.1 532.2 L598.8 533.8 L599.3 533.2 L599.9 531.0 L600.5 532.5 L601.2 534.9 L601.8 534.8 L602.5 537.5 L603.1 539.9 L603.7 540.4 L604.2 543.8 L604.9 544.3 L605.6 546.6 L606.2 547.5 L606.8 548.3 L607.4 556.0 L608.0 555.0 L608.7 555.4 L609.3 555.7 L610.0 556.2 L610.6 554.0 L611.2 556.0 L611.8 552.5 L612.4 555.7 L613.1 555.4 L613.8 556.2 L614.3 553.1 L614.9 553.0 L615.5 552.5 L616.2 554.2 L616.8 553.4 L617.5 555.0 L618.1 552.5 L618.7 551.7 L619.2 552.5 L619.9 552.7 L620.6 555.0 L621.2 556.2 L621.8 556.6 L622.4 558.8 L623.0 560.0 L623.7 562.2 L624.3 559.1 L625.0 555.0 L625.6 554.0 L626.2 556.3 L626.8 556.2 L627.4 558.5 L628.1 560.2 L628.8 562.5 L629.3 564.4 L629.9 562.9 L630.5 563.8 L631.2 561.2 L631.8 559.1 L632.5 557.5 L633.1 556.9 L633.7 558.5 L634.2 556.2 L634.8 560.3 L635.2 560.2 L635.8 565.0 L636.3 566.9 L636.9 568.9 L637.5 572.5 L638.1 577.8 L638.7 581.1 L639.2 585.0 L639.9 588.7 L640.6 589.9 L641.2 592.5 L641.8 590.2 L642.4 594.0 L643.0 593.8 L643.7 592.4 L644.3 591.1 L645.0 588.8 L645.6 588.2 L646.2 591.4 L646.8 592.5 L647.4 592.4 L648.1 593.2 L648.8 595.0 L649.3 593.8 L649.9 592.2 L650.5 590.0 L651.2 589.6 L651.8 589.3 L652.5 592.5 L652.9 588.6 L653.3 590.9 L653.8 591.2 L654.3 593.2 L654.9 592.0 L655.5 592.5 L656.2 588.5 L656.8 589.6 L657.5 590.0 L658.2 591.8 L658.8 594.8 L659.5 593.8 L660.1 593.7 L660.7 590.9 L661.2 588.8 L661.8 587.8 L662.4 584.8 L663.0 585.0 L663.5 586.0 L664.0 587.9 L664.5 590.0 L665.1 588.5 L665.7 589.3 L666.2 588.8 L666.8 587.8 L667.4 588.4 L668.0 587.5 L668.7 589.1 L669.3 587.7 L670.0 586.2 L670.7 587.7 L671.3 587.6 L672.0 588.8 L672.6 587.5 L673.2 590.3 L673.8 591.2 L674.3 593.3 L674.9 592.3 L675.5 595.0 L676.0 600.1 L676.5 601.2 L677.0 605.0 L677.4 609.3 L677.8 612.0 L678.2 616.2 L678.8 615.7 L679.4 621.6 L680.0 620.0 L680.6 620.5 L681.2 625.5 L681.8 626.2 L682.4 626.3 L683.1 628.3 L683.8 628.8 L684.3 626.0 L684.9 624.8 L685.5 623.8 L686.2 624.6 L686.8 625.6 L687.5 622.5 L688.1 620.5 L688.7 620.8 L689.2 620.0 L689.9 620.9 L690.6 618.3 L691.2 618.8 L691.8 620.6 L692.4 619.3 L693.0 621.2 L693.7 622.9 L694.3 623.5 L695.0 623.8 L695.7 625.9 L696.3 625.1 L697.0 625.0 L697.6 624.0 L698.2 627.3 L698.8 627.0 L699.4 624.4 L700.1 625.9 L700.8 623.8 L701.3 624.6 L701.9 622.1 L702.5 620.0 L703.2 618.8 L703.8 620.8 L704.5 618.8 L705.1 619.4 L705.7 617.8 L706.2 620.0 L706.8 621.2 L707.4 625.3 L708.0 625.0 L708.7 625.0 L709.3 626.0 L710.0 626.2 L710.6 624.5 L711.2 621.4 L711.8 622.5 L712.4 621.0 L713.1 621.3 L713.8 620.0 L714.3 618.6 L714.9 616.4 L715.5 615.0 L716.2 611.2 L716.8 615.0 L717.5 612.5 L718.2 613.9 L718.8 614.8 L719.5 613.8 L720.1 616.8 L720.7 615.6 L721.2 617.5 L721.8 617.3 L722.4 619.3 L723.0 619.5 L723.7 620.3 L724.3 614.1 L725.0 615.0 L725.6 613.7 L726.2 612.0 L726.8 612.0 L727.4 612.5 L728.1 613.6 L728.8 611.2 L729.3 611.7 L729.9 611.2 L730.5 613.8 L731.2 614.2 L731.8 614.2 L732.5 615.0 L733.2 612.2 L733.8 614.9 L734.5 613.0 L735.1 612.5 L735.7 614.5 L736.2 613.8 L736.8 611.3 L737.4 614.1 L738.0 612.0 L738.7 609.7 L739.3 613.0 L740.0 611.2 L740.7 608.3 L741.3 612.3 L742.0 610.0 L742.6 609.2 L743.2 607.3 L743.8 609.2 L744.3 609.2 L744.9 610.2 L745.5 610.0 L746.2 609.0 L746.8 610.1 L747.5 611.2 L748.1 613.3 L748.7 614.3 L749.2 616.2 L749.8 613.6 L750.2 619.0 L750.8 621.2 L751.3 621.4 L751.9 620.8 L752.5 620.0 L753.2 621.0 L753.8 618.2 L754.5 618.8 L755.1 622.7 L755.7 620.7 L756.2 620.0 L756.8 621.7 L757.4 624.0 L758.0 623.8 L758.7 625.9 L759.3 625.6 L760.0 626.2 L760.6 624.8 L761.2 626.5 L761.8 624.5 L762.4 625.4 L763.1 622.5 L763.8 625.5 L764.3 623.8 L764.9 625.8 L765.5 625.0 L766.2 625.6 L766.8 626.2 L767.5 626.2 L768.1 627.6 L768.7 627.3 L769.2 627.5 L769.8 630.4 L770.2 628.0 L770.8 629.5 L771.3 626.6 L771.9 625.3 L772.5 622.5 L773.1 622.3 L773.7 621.1 L774.2 618.8 L774.9 620.2 L775.6 616.9 L776.2 617.0 L776.7 619.6 L777.1 619.7 L777.5 620.0 L778.1 619.8 L778.7 622.3 L779.2 623.8 L779.9 627.3 L780.6 626.0 L781.2 625.5 L781.8 624.7 L782.4 621.8 L783.0 625.0 L783.7 624.8 L784.3 625.7 L785.0 627.5 L785.6 628.3 L786.2 632.1 L786.8 629.5 L787.4 630.0 L788.1 628.9 L788.8 628.0 L789.3 626.4 L789.9 625.7 L790.5 627.0 L791.2 626.9 L791.8 626.7 L792.5 627.5 L793.2 631.5 L793.8 626.6 L794.5 627.0 L795.1 625.9 L795.7 628.1 L796.2 626.2 L796.8 626.6 L797.4 625.0 L798.0 627.0 L798.7 628.1 L799.3 625.2 L800.0 625.0 L800.6 623.0 L801.2 625.1 L801.8 624.5 L802.4 625.8 L803.1 625.2 L803.8 626.2 L804.3 627.5 L804.9 627.9 L805.5 627.0 L806.2 626.1 L806.8 624.8 L807.5 628.0 L808.2 624.3 L808.8 627.2 L809.5 627.0 L810.1 628.9 L810.7 628.7 L811.2 627.5 L811.8 629.3 L812.4 629.8 L813.0 627.0 L813.7 627.4 L814.3 629.1 L815.0 628.0 L815.7 625.5 L816.3 628.3 L817.0 627.0 L817.6 627.7 L818.2 627.2 L818.8 627.5 L819.3 626.5 L819.9 625.1 L820.5 626.2 L821.2 626.0 L821.8 627.2 L822.5 625.0 L823.1 623.8 L823.7 624.4 L824.2 623.0 L824.9 621.9 L825.6 623.0 L826.2 622.5 L826.8 621.3 L827.4 623.4 L828.0 623.0 L828.7 622.5 L829.3 623.1 L830.0 622.5 L830.7 621.5 L831.3 620.5 L832.0 622.0 L832.6 621.4 L833.2 623.1 L833.8 621.5 L834.3 623.6 L834.9 620.9 L835.5 621.2 L836.2 623.2 L836.8 624.0 L837.5 623.8 L837.9 626.8 L838.3 626.6 L838.8 631.2 L839.2 634.2 L839.6 634.9 L840.0 638.8 L840.6 640.0 L841.2 639.0 L841.8 637.5 L842.4 637.9 L843.1 633.1 L843.8 636.2 L844.3 637.7 L844.9 638.4 L845.5 638.0 L846.2 635.9 L846.8 638.7 L847.5 637.0 L848.2 637.3 L848.8 637.1 L849.5 637.5 L850.1 636.3 L850.7 635.7 L851.2 637.0 L851.8 637.4 L852.4 643.3 L853.0 640.0 L853.7 639.5 L854.3 638.6 L855.0 637.5 L855.7 636.4 L856.3 636.3 L857.0 637.0 L857.6 636.4 L858.2 636.1 L858.8 637.5 L859.3 638.3 L859.9 636.3 L860.5 636.2 L861.2 637.0 L861.8 633.8 L862.5 635.0 L863.1 636.6 L863.7 635.6 L864.2 636.0 L864.9 636.8 L865.6 635.5 L866.2 635.5 L866.8 634.3 L867.4 637.4 L868.0 635.8 L868.7 634.9 L869.3 635.0 L870.0 635.0 L870.7 633.9 L871.3 635.6 L872.0 635.5 L872.6 634.6 L873.2 635.2 L873.8 634.5 L874.3 634.7 L874.9 633.0 L875.5 633.8 L876.2 631.4 L876.8 633.5 L877.5 632.5 L878.1 634.6 L878.7 635.1 L879.2 635.0 L879.8 634.1 L880.2 637.2 L880.8 637.0 L881.3 637.4 L881.9 637.1 L882.5 636.5 L883.2 637.3 L883.8 636.4 L884.5 637.0 L885.1 637.1 L885.7 637.8 L886.2 636.2 L886.8 635.6 L887.4 634.4 L888.0 636.5 L888.7 636.2 L889.3 636.4 L890.0 636.0 L890.7 633.6 L891.3 635.4 L892.0 636.5 L892.6 637.5 L893.2 636.6 L893.8 637.0 L894.3 637.3 L894.9 635.6 L895.5 637.5 L896.2 638.6 L896.8 639.6 L897.5 637.0 L898.3 636.6 L899.2 635.6 L900.0 636.5 L900.8 634.7 L901.7 637.4 L902.5 636.0 L903.3 635.8 L904.2 634.2 L905.0 635.0 L905.7 636.3 L906.3 635.2 L907.0 633.8 L907.6 633.3 L908.2 628.8 L908.8 630.0 L909.2 627.8 L909.6 626.7 L910.0 623.8 L910.4 621.2 L910.8 623.4 L911.2 621.2 L911.8 622.8 L912.4 621.9 L913.0 620.0 L913.7 619.4 L914.3 619.8 L915.0 621.2 L915.6 622.2 L916.2 621.8 L916.8 620.0 L917.2 620.5 L917.6 619.2 L918.0 616.2 L918.7 615.7 L919.3 614.8 L920.0 615.0 L920.7 612.6 L921.3 616.4 L922.0 615.5 L922.6 618.1 L923.2 613.7 L923.8 613.8 L924.3 612.8 L924.9 614.2 L925.5 613.0 L926.2 613.2 L926.8 610.4 L927.5 612.0 L928.2 610.7 L928.8 610.0 L929.5 611.2 L930.1 614.9 L930.7 611.9 L931.2 613.8 L931.8 614.5 L932.4 615.6 L933.0 612.5 L933.7 615.6 L934.3 615.3 L935.0 613.8 L935.6 616.4 L936.2 612.9 L936.8 615.0 L937.4 614.1 L938.1 613.1 L938.8 613.8 L939.3 614.8 L939.9 620.3 L940.5 618.0 L941.2 615.9 L941.8 619.3 L942.5 618.8 L943.1 616.2 L943.7 619.0 L944.2 616.2 L944.8 616.4 L945.2 612.2 L945.8 611.2 L946.3 613.6 L946.9 610.2 L947.5 609.5 L948.2 611.5 L948.8 610.3 L949.5 610.0 L950.1 608.5 L950.7 608.1 L951.2 608.0 L951.8 608.1 L952.4 609.4 L953.0 608.8 L953.7 609.8 L954.3 613.7 L955.0 611.2 L955.6 611.6 L956.2 611.8 L956.8 613.0 L957.4 611.7 L958.1 611.2 L958.8 612.0 L959.3 610.6 L959.9 611.8 L960.5 613.8 L961.2 614.8 L961.8 613.3 L962.5 613.0 L963.1 613.6 L963.7 615.2 L964.2 615.5 L964.9 617.2 L965.6 616.9 L966.2 616.2 L966.8 617.2 L967.4 615.3 L968.0 616.0 L968.7 617.4 L969.3 618.4 L970.0 621.2 L970.6 622.2 L971.2 622.3 L971.8 624.5 L972.2 622.5 L972.8 621.3 L973.2 620.0 L973.7 616.8 L974.1 613.8 L974.5 611.2 L975.1 609.7 L975.7 611.4 L976.2 608.8 L976.8 606.2 L977.4 603.2 L978.0 602.5 L978.4 601.3 L978.8 598.0 L979.2 598.0 L979.9 596.2 L980.6 597.5 L981.2 597.0 L981.8 594.3 L982.4 591.8 L983.0 596.0 L983.7 596.9 L984.3 598.4 L985.0 597.5 L985.7 594.7 L986.3 595.2 L987.0 596.0 L987.6 597.5 L988.2 594.6 L988.8 598.0 L989.3 597.0 L989.9 596.8 L990.5 598.8 L991.2 597.6 L991.8 594.2 L992.5 596.0 L993.2 597.1 L993.8 595.5 L994.5 595.5 L995.1 595.8 L995.7 594.7 L996.2 595.0 L996.8 592.4 L997.4 595.5 L998.0 596.0 L998.7 594.0 L999.3 595.7 L1000.0 595.5 L1000.7 594.5 L1001.3 595.4 L1002.0 596.0 L1002.6 595.4 L1003.2 596.4 L1003.8 595.0 L1004.3 594.8 L1004.9 591.1 L1005.5 591.2 L1006.0 590.6 L1006.5 592.1 L1007.0 589.5 L1007.6 590.0 L1008.2 588.1 L1008.8 589.0 L1009.3 589.2 L1009.9 589.2 L1010.5 590.0 L1011.2 591.1 L1011.8 589.5 L1012.5 589.2 L1013.1 590.0 L1013.7 592.8 L1014.2 590.0 L1014.8 589.7 L1015.2 591.9 L1015.8 595.0 L1016.3 594.1 L1016.9 595.8 L1017.5 599.5 L1018.1 600.0 L1018.7 598.6 L1019.2 597.5 L1019.9 598.8 L1020.6 592.7 L1021.2 594.5 L1021.8 592.4 L1022.4 594.9 L1023.0 592.0 L1023.7 594.0 L1024.3 594.4 L1025.0 593.8 L1025.6 595.8 L1026.2 595.5 L1026.8 596.2 L1027.4 595.8 L1028.1 595.5 L1028.8 595.0 L1029.3 595.5 L1029.9 593.4 L1030.5 593.0 L1031.2 593.1 L1031.8 594.4 L1032.5 592.0 L1033.1 590.8 L1033.7 591.6 L1034.2 593.0 L1034.8 595.3 L1035.2 595.6 L1035.8 597.5 L1036.3 597.7 L1036.9 601.3 L1037.5 598.8 L1038.2 599.9 L1038.8 599.3 L1039.5 600.5 L1040.1 602.3 L1040.7 604.5 L1041.2 601.2 L1041.8 599.3 L1042.4 599.5 L1043.0 600.0 L1043.7 600.5 L1044.3 599.8 L1045.0 601.0 L1045.6 603.7 L1046.2 601.1 L1046.8 600.0 L1047.4 599.9 L1048.1 601.5 L1048.8 601.2 L1049.3 599.9 L1049.9 599.9 L1050.5 600.5 L1051.2 601.5 L1051.8 605.5 L1052.5 603.0 L1053.1 599.5 L1053.7 602.9 L1054.2 602.0 L1054.8 603.1 L1055.2 601.4 L1055.8 599.5 L1056.3 601.4 L1056.9 598.5 L1057.5 597.0 L1058.1 598.0 L1058.7 598.5 L1059.2 599.5 L1059.9 598.8 L1060.6 602.8 L1061.2 601.0 L1061.8 598.8 L1062.4 599.8 L1063.0 599.5 L1063.7 599.3 L1064.3 599.6 L1065.0 601.2 L1065.4 599.2 L1065.8 602.9 L1066.2 604.5 L1066.8 603.4 L1067.4 602.0 L1068.0 600.5 L1068.5 602.5 L1069.0 601.9 L1069.5 603.0 L1070.1 602.6 L1070.7 604.4 L1071.2 604.5 L1071.8 605.3 L1072.4 602.9 L1073.0 604.0 L1073.7 602.6 L1074.3 604.1 L1075.0 606.2 L1075.4 608.1 L1075.8 608.5 L1076.2 607.5 L1076.8 605.4 L1077.4 606.0 L1078.0 605.0 L1078.5 605.5 L1079.0 605.5 L1079.5 603.0 L1080.1 601.7 L1080.7 602.0 L1081.2 602.0 L1081.7 602.1 L1082.1 601.5 L1082.5 596.2 L1082.9 596.7 L1083.3 591.3 L1083.8 591.2 L1084.3 591.0 L1084.9 589.2 L1085.5 588.8 L1086.2 588.9 L1086.8 588.3 L1087.5 589.5 L1088.1 589.2 L1088.7 590.2 L1089.2 590.5 L1089.9 592.7 L1090.6 590.8 L1091.2 589.5 L1091.8 589.8 L1092.4 589.0 L1093.0 588.8 L1093.7 587.4 L1094.3 587.9 L1095.0 588.0 L1095.4 589.4 L1095.8 588.5 L1096.2 587.0 L1096.8 590.6 L1097.4 589.0 L1098.0 589.5 L1098.7 589.6 L1099.3 587.6 L1100.0 590.0 L1100.7 590.1 L1101.3 586.8 L1102.0 588.8 L1102.6 591.3 L1103.2 588.7 L1103.8 590.0 L1104.3 589.2 L1104.9 586.4 L1105.5 587.5 L1106.2 586.0 L1106.8 584.5 L1107.5 585.0 L1108.1 587.6 L1108.7 587.3 L1109.2 588.0 L1109.9 586.8 L1110.6 586.3 L1111.2 589.5 L1111.8 589.7 L1112.4 589.5 L1113.0 590.5 L1113.7 588.8 L1114.3 591.0 L1115.0 590.0 L1115.6 590.2 L1116.2 591.0 L1116.8 591.2 L1117.4 589.8 L1118.1 589.3 L1118.8 589.5 L1119.2 589.9 L1119.6 589.3 L1120.0 592.5 L1120.7 593.2 L1121.3 592.7 L1122.0 592.0 L1122.6 589.9 L1123.2 592.8 L1123.8 593.0 L1124.3 594.3 L1124.9 592.7 L1125.5 592.0 L1126.2 594.0 L1126.8 592.0 L1127.5 592.5 L1128.1 592.1 L1128.7 589.8 L1129.2 591.2 L1129.9 590.4 L1130.6 589.5 L1131.2 592.5 L1131.8 591.1 L1132.4 592.5 L1133.0 592.0 L1133.7 592.9 L1134.3 594.0 L1135.0 592.5 L1135.6 592.2 L1136.2 590.1 L1136.8 591.0 L1137.4 591.8 L1138.1 591.1 L1138.8 591.5 L1139.3 594.2 L1139.9 594.6 L1140.5 592.0 L1141.2 593.5 L1141.8 590.7 L1142.5 592.5 L1143.1 592.2 L1143.7 593.6 L1144.2 593.8 L1144.7 594.8 L1145.1 598.6 L1145.5 600.0 L1145.9 602.2 L1146.3 603.7 L1146.8 603.8 L1147.4 604.1 L1148.1 602.5 L1148.8 603.8 L1149.3 602.3 L1149.9 603.1 L1150.5 603.0 L1151.2 605.0 L1151.8 605.5 L1152.5 603.5 L1153.1 604.7 L1153.7 603.7 L1154.2 603.0 L1154.9 604.1 L1155.6 604.5 L1156.2 603.5 L1156.8 604.1 L1157.4 602.4 L1158.0 600.0 L1158.5 597.0 L1159.0 599.7 L1159.5 597.5 L1160.1 599.9 L1160.7 600.5 L1161.2 603.0 L1161.8 603.9 L1162.4 603.7 L1163.0 603.5 L1163.7 603.6 L1164.3 601.5 L1165.0 604.0 L1165.6 604.0 L1166.2 604.4 L1166.8 603.5 L1167.4 603.6 L1168.1 601.6 L1168.8 604.0 L1169.3 604.3 L1169.9 604.3 L1170.5 603.0 L1171.2 604.3 L1171.8 605.8 L1172.5 606.2 L1173.1 605.0 L1173.7 603.8 L1174.2 604.0 L1174.9 603.8 L1175.6 601.7 L1176.2 601.2 L1176.8 601.7 L1177.4 606.1 L1178.0 601.8 L1178.7 602.5 L1179.3 601.4 L1180.0 601.0 L1180.6 598.2 L1181.2 600.1 L1181.8 599.5 L1182.4 601.1 L1183.1 599.7 L1183.8 601.2 L1184.3 601.2 L1184.9 598.6 L1185.5 602.0 L1186.2 602.9 L1186.8 601.5 L1187.5 602.5 L1188.1 603.0 L1188.7 603.4 L1189.2 601.0 L1189.9 600.3 L1190.6 601.4 L1191.2 599.5 L1191.8 599.7 L1192.4 598.9 L1193.0 599.0 L1193.7 597.9 L1194.3 596.5 L1195.0 597.0 L1195.6 599.1 L1196.2 598.9 L1196.8 598.0 L1197.4 596.4 L1198.1 598.8 L1198.8 597.5 L1199.3 596.1 L1199.9 594.7 L1200.5 596.5 L1201.2 598.5 L1201.8 595.4 L1202.5 597.5 L1203.1 600.0 L1203.7 599.4 L1204.2 600.0 L1204.9 601.4 L1205.6 601.0 L1206.2 600.5 L1206.8 601.8 L1207.4 600.3 L1208.0 599.5 L1208.7 600.1 L1209.3 599.3 L1210.0 598.8 L1210.6 599.0 L1211.2 595.7 L1211.8 595.0 L1212.2 595.4 L1212.8 595.1 L1213.2 592.0 L1213.8 595.0 L1214.3 594.1 L1214.9 593.9 L1215.5 592.5 L1216.0 590.9 L1216.5 590.4 L1217.0 590.0 L1217.5 586.0 L1218.0 581.2 L1218.5 579.1 L1219.0 576.7 L1219.5 576.2 L1220.1 575.8 L1220.7 575.7 L1221.2 575.0 L1221.8 575.3 L1222.4 575.7 L1223.0 574.5 L1223.7 571.8 L1224.3 576.0 L1225.0 573.8 L1225.7 573.1 L1226.3 571.8 L1227.0 572.5 L1227.6 571.6 L1228.2 572.3 L1228.8 571.2 L1229.3 572.7 L1229.9 571.2 L1230.5 572.0 L1231.2 571.6 L1231.8 568.4 L1232.5 570.0 L1233.2 569.8 L1233.8 569.0 L1234.5 568.8 L1235.1 567.7 L1235.7 569.2 L1236.2 567.5 L1236.8 569.2 L1237.4 567.3 L1238.0 565.0 L1238.7 564.3 L1239.3 568.0 L1240.0 566.2 L1240.6 566.6 L1241.2 567.9 L1241.8 568.8 L1242.4 566.0 L1243.1 565.6 L1243.8 563.0 L1244.3 564.9 L1244.9 565.4 L1245.5 566.2 L1246.2 565.5 L1246.8 565.2 L1247.5 565.0 L1248.1 565.3 L1248.7 568.0 L1249.2 567.5 L1249.9 567.4 L1250.6 568.6 L1251.2 569.5 L1251.7 567.3 L1252.1 564.6 L1252.5 563.8 L1253.2 563.7 L1253.8 562.2 L1254.5 564.5 L1255.1 564.6 L1255.7 564.3 L1256.2 563.0 L1256.8 562.8 L1257.4 565.7 L1258.0 563.8 L1258.7 562.0 L1259.3 563.4 L1260.0 562.0 L1260.6 560.3 L1261.2 556.6 L1261.8 555.0 L1262.2 553.0 L1262.8 552.9 L1263.2 550.0 L1263.8 547.6 L1264.4 545.4 L1265.0 542.5 L1265.6 543.8 L1266.2 541.5 L1266.8 540.5 L1267.4 538.4 L1268.1 540.0 L1268.8 541.2 L1269.3 544.5 L1269.9 545.2 L1270.5 547.5 L1271.2 546.8 L1271.8 546.4 L1272.5 550.0 L1273.1 549.6 L1273.7 550.4 L1274.2 547.5 L1274.9 545.9 L1275.6 544.8 L1276.2 548.0 L1276.8 549.4 L1277.4 548.6 L1278.0 550.0 L1278.7 548.3 L1279.3 547.1 L1280.0 546.2 L1280.7 544.2 L1281.3 545.2 L1282.0 543.8 L1282.6 544.4 L1283.2 543.1 L1283.8 542.0 L1284.3 541.8 L1284.9 544.6 L1285.5 543.8 L1286.2 543.3 L1286.8 544.1 L1287.5 543.0 L1288.1 542.5 L1288.7 545.6 L1289.2 545.5 L1289.9 547.0 L1290.6 548.3 L1291.2 547.0 L1291.8 547.4 L1292.4 548.3 L1293.0 548.0 L1293.7 545.8 L1294.3 546.4 L1295.0 543.8 L1295.6 543.2 L1296.2 541.9 L1296.8 538.8 L1297.4 539.5 L1298.1 539.6 L1298.8 542.5 L1299.3 541.2 L1299.9 539.7 L1300.5 538.8 L1301.0 535.6 L1301.5 535.4 L1302.0 532.5 L1302.6 533.4 L1303.2 532.2 L1303.8 531.2 L1304.3 534.0 L1304.9 534.3 L1305.5 535.0 L1306.0 536.6 L1306.5 540.0 L1307.0 543.8 L1307.6 544.9 L1308.2 548.0 L1308.8 548.8 L1309.3 549.2 L1309.9 547.3 L1310.5 546.2 L1311.2 548.5 L1311.8 546.8 L1312.5 548.8 L1313.1 549.7 L1313.7 553.0 L1314.2 552.0 L1314.8 552.0 L1315.2 552.1 L1315.8 550.0 L1316.3 549.5 L1316.9 551.9 L1317.5 556.2 L1318.1 555.5 L1318.7 558.5 L1319.2 557.5 L1319.9 558.1 L1320.6 553.3 L1321.2 552.5 L1321.8 549.6 L1322.4 548.1 L1323.0 548.0 L1323.7 545.9 L1324.3 547.1 L1325.0 545.5 L1325.6 545.3 L1326.2 548.6 L1326.8 546.2 L1327.4 547.5 L1328.1 545.8 L1328.8 547.0 L1329.3 546.7 L1329.9 545.5 L1330.5 545.0 L1331.2 546.5 L1331.8 547.1 L1332.5 546.2 L1333.1 544.9 L1333.7 545.8 L1334.2 543.8 L1334.9 542.5 L1335.6 539.5 L1336.2 537.5 L1336.8 535.8 L1337.4 534.3 L1338.0 531.2 L1338.5 528.7 L1339.0 526.2 L1339.5 525.0 L1340.1 524.7 L1340.7 520.8 L1341.2 518.8 L1341.8 516.3 L1342.4 516.1 L1343.0 513.8 L1343.7 511.3 L1344.3 513.0 L1345.0 512.5 L1345.6 510.8 L1346.2 512.2 L1346.8 513.0 L1347.4 510.8 L1348.1 512.5 L1348.8 513.8 L1349.3 515.8 L1349.9 515.2 L1350.5 516.2 L1351.2 515.4 L1351.8 520.3 L1352.5 518.8 L1353.1 515.8 L1353.7 516.6 L1354.2 512.5 L1354.8 504.3 L1355.2 495.5 L1355.8 490.0 L1356.2 489.2 L1356.6 482.7 L1357.0 480.0 L1357.6 480.2 L1358.2 480.0 L1358.8 477.5 L1359.3 474.0 L1359.9 474.3 L1360.5 472.5 L1361.0 467.5 L1361.5 465.0 L1362.0 460.0 L1362.6 459.2 L1363.2 456.6 L1363.8 457.5 L1364.3 458.8 L1364.9 461.1 L1365.5 461.2 L1366.0 458.8 L1366.5 457.9 L1367.0 455.0 L1367.6 452.2 L1368.2 450.8 L1368.8 448.8 L1369.3 447.2 L1369.9 444.8 L1370.5 442.5 L1371.2 443.4 L1371.8 442.1 L1372.5 440.0 L1373.1 442.8 L1373.7 444.3 L1374.2 445.0 L1374.8 449.0 L1375.2 450.9 L1375.8 456.2 L1376.3 459.8 L1376.9 462.8 L1377.5 462.5 L1377.9 466.2 L1378.3 468.8 L1378.8 472.5 L1379.2 474.1 L1379.6 477.5 L1380.0 477.5 L1380.6 475.4 L1381.2 471.2 L1381.8 470.0 L1382.2 467.3 L1382.8 464.0 L1383.2 462.5 L1383.8 459.7 L1384.4 456.3 L1385.0 455.0 L1385.6 453.4 L1386.2 456.2 L1386.8 453.8 L1387.2 453.9 L1387.8 449.1 L1388.2 450.0 L1388.8 448.3 L1389.4 448.6 L1390.0 448.8 L1390.7 447.8 L1391.3 446.0 L1392.0 447.5 L1392.6 449.6 L1393.2 447.0 L1393.8 450.0 L1394.2 455.1 L1394.6 459.3 L1395.0 462.5 L1395.6 460.3 L1396.2 458.3 L1396.8 457.5 L1397.2 455.9 L1397.8 454.4 L1398.2 452.5 L1398.8 447.6 L1399.4 446.6 L1400.0 446.2 L1400.7 446.6 L1401.3 445.3 L1402.0 445.0 L1402.6 445.3 L1403.2 445.3 L1403.8 447.5 L1404.3 449.0 L1404.9 451.5 L1405.5 455.0 L1406.0 462.2 L1406.5 460.0 L1407.0 465.0 L1407.6 469.6 L1408.2 470.7 L1408.8 472.5 L1409.3 474.5 L1409.9 476.1 L1410.5 477.5 L1411.0 477.8 L1411.5 481.4 L1412.0 480.0 L1412.6 477.4 L1413.2 473.3 L1413.8 470.0 L1414.3 467.3 L1414.9 465.3 L1415.5 462.5 L1416.2 460.5 L1416.8 461.2 L1417.5 461.2 L1418.1 462.1 L1418.7 465.4 L1419.2 466.2 L1419.8 469.2 L1420.2 467.9 L1420.8 472.5 L1421.3 473.0 L1421.9 475.5 L1422.5 475.0 L1423.1 472.4 L1423.7 471.7 L1424.2 472.5 L1424.8 478.0 L1425.2 480.7 L1425.8 485.0 L1426.2 486.1 L1426.6 486.7 L1427.0 490.0 L1427.6 486.9 L1428.2 482.6 L1428.8 480.0 L1429.3 477.8 L1429.9 475.6 L1430.5 472.5 L1431.2 474.7 L1431.8 474.6 L1432.5 476.2 L1433.1 477.6 L1433.7 480.5 L1434.2 482.5 L1434.9 481.5 L1435.6 481.1 L1436.2 480.0 L1436.8 478.5 L1437.4 478.0 L1438.0 477.5 L1438.7 476.3 L1439.3 475.9 L1440.0 476.2 L1440.6 473.1 L1441.2 471.2 L1441.8 466.2 L1442.2 464.3 L1442.8 464.6 L1443.2 462.5 L1443.8 461.3 L1444.4 459.3 L1445.0 457.5 L1445.6 455.1 L1446.2 450.1 L1446.8 447.5 L1447.2 447.9 L1447.8 447.1 L1448.2 446.2 L1448.8 444.0 L1449.4 451.7 L1450.0 453.8 L1450.6 455.0 L1451.2 457.3 L1451.8 455.0 L1452.4 454.0 L1453.1 456.0 L1453.8 456.2 L1454.3 457.2 L1454.9 455.8 L1455.5 457.5 L1456.2 459.6 L1456.8 459.0 L1457.5 458.8 L1458.1 457.3 L1458.7 456.3 L1459.2 457.5 L1459.9 455.7 L1460.6 458.3 L1461.2 453.8 L1461.8 455.1 L1462.4 447.0 L1463.0 448.8 L1463.5 445.7 L1464.0 448.5 L1464.5 447.0 L1465.1 447.4 L1465.7 447.3 L1466.2 448.8 L1466.8 451.3 L1467.4 452.2 L1468.0 453.8 L1468.7 455.4 L1469.3 456.6 L1470.0 457.5 L1470.6 456.9 L1471.2 461.0 L1471.8 460.0 L1472.4 460.2 L1473.1 463.2 L1473.8 462.5 L1474.3 464.3 L1474.9 464.2 L1475.5 465.0 L1476.2 465.6 L1476.8 465.8 L1477.5 466.2 L1478.1 465.0 L1478.7 468.3 L1479.2 470.0 L1479.9 471.4 L1480.6 469.5 L1481.2 472.5 L1481.8 472.1 L1482.4 477.3 L1483.0 477.5 L1483.5 480.3 L1484.0 478.7 L1484.5 482.5 L1485.1 482.3 L1485.7 480.8 L1486.2 480.0 L1486.8 482.2 L1487.4 481.2 L1488.0 482.5 L1488.7 480.5 L1489.3 478.1 L1490.0 477.5 L1490.6 477.3 L1491.2 476.5 L1491.8 476.2 L1492.2 477.4 L1492.8 480.0 L1493.2 482.5 L1493.8 484.0 L1494.4 488.4 L1495.0 490.0 L1495.6 490.3 L1496.2 491.2 L1496.8 495.0 L1497.2 494.9 L1497.8 499.0 L1498.2 498.8 L1498.8 498.5 L1499.4 500.5 L1500.0 500.0 L1500.6 499.8 L1501.2 496.8 L1501.8 496.2 L1502.4 496.5 L1503.1 495.3 L1503.8 493.8 L1504.3 489.9 L1504.9 485.3 L1505.5 482.5 L1506.0 479.9 L1506.5 475.7 L1507.0 475.0 L1507.6 473.0 L1508.2 470.9 L1508.8 470.0 L1509.3 469.4 L1509.9 468.0 L1510.5 466.2 L1511.0 464.1 L1511.5 465.0 L1512.0 462.5 L1512.6 463.3 L1513.2 460.9 L1513.8 460.0 L1514.3 458.2 L1514.9 459.0 L1515.5 457.5 L1516.0 455.4 L1516.5 459.2 L1517.0 461.2 L1517.6 460.8 L1518.2 461.5 L1518.8 457.5 L1519.3 456.1 L1519.9 458.8 L1520.5 456.2 L1521.0 460.7 L1521.5 461.4 L1522.0 460.0 L1522.6 458.4 L1523.2 464.9 L1523.8 465.0 L1524.3 466.9 L1524.9 469.7 L1525.5 470.0 L1526.0 473.1 L1526.5 475.8 L1527.0 480.0 L1527.6 483.0 L1528.2 488.7 L1528.8 490.0 L1529.2 495.3 L1529.6 497.9 L1530.0 502.5 L1530.4 504.7 L1530.8 507.0 L1531.2 507.5 L1531.7 504.1 L1532.1 499.1 L1532.5 495.0 L1533.1 489.9 L1533.7 485.6 L1534.2 482.5 L1534.8 485.2 L1535.2 488.4 L1535.8 492.5 L1536.3 492.4 L1536.9 494.7 L1537.5 498.8 L1538.1 499.1 L1538.7 495.5 L1539.2 496.2 L1539.8 492.4 L1540.2 492.0 L1540.8 490.0 L1541.3 490.3 L1541.9 488.4 L1542.5 485.0 L1543.1 486.1 L1543.7 486.9 L1544.2 490.0 L1544.9 488.8 L1545.6 487.9 L1546.2 488.8 L1546.8 485.9 L1547.4 485.3 L1548.0 482.5 L1548.5 478.5 L1549.0 476.4 L1549.5 475.0 L1550.1 473.4 L1550.7 472.5 L1551.2 471.2 L1551.8 470.6 L1552.4 471.0 L1553.0 472.5 L1553.5 475.1 L1554.0 479.8 L1554.5 485.0 L1555.1 486.6 L1555.7 486.3 L1556.2 487.5 L1556.8 484.8 L1557.4 491.7 L1558.0 492.5 L1558.7 493.2 L1559.3 493.0 L1560.0 495.0 L1560.6 493.0 L1561.2 487.5 L1561.8 490.0 L1562.2 489.8 L1562.8 495.8 L1563.2 496.2 L1563.7 501.3 L1564.1 503.5 L1564.5 502.5 L1565.1 503.1 L1565.7 505.9 L1566.2 507.5 L1566.8 506.1 L1567.4 500.8 L1568.0 500.0 L1568.7 501.2 L1569.3 496.5 L1570.0 496.2 L1570.6 494.7 L1571.2 490.5 L1571.8 490.0 L1572.2 488.8 L1572.8 486.6 L1573.2 485.0 L1573.8 487.8 L1574.4 485.9 L1575.0 488.8 L1575.6 489.6 L1576.2 493.0 L1576.8 491.2 L1577.4 486.3 L1578.1 485.1 L1578.8 481.2 L1579.3 480.2 L1579.9 477.2 L1580.5 476.2 L1581.2 475.5 L1581.8 477.4 L1582.5 475.0 L1583.1 475.8 L1583.7 474.1 L1584.2 472.5 L1584.9 471.6 L1585.6 468.4 L1586.2 468.8 L1586.8 468.0 L1587.4 469.6 L1588.0 466.2 L1588.5 468.1 L1589.0 465.2 L1589.5 467.5 L1590.1 466.7 L1590.7 470.7 L1591.2 473.8 L1591.8 476.5 L1592.4 478.0 L1593.0 481.2 L1593.7 481.2 L1594.3 482.6 L1595.0 482.5 L1595.6 482.9 L1596.2 481.1 L1596.8 480.0 L1597.4 480.5 L1598.1 475.5 L1598.8 476.2 L1599.2 478.2 L1599.6 479.3 L1600.0 480.0 L1600.6 479.2 L1601.2 484.3 L1601.8 483.8 L1602.4 478.6 L1603.1 475.9 L1603.8 475.0 L1604.3 477.9 L1604.9 475.1 L1605.5 472.5 L1606.2 469.7 L1606.8 467.7 L1607.5 462.5 L1608.1 463.3 L1608.7 459.3 L1609.2 460.0 L1609.9 459.0 L1610.6 458.6 L1611.2 455.0 L1611.8 455.2 L1612.4 455.9 L1613.0 456.2 L1613.7 456.8 L1614.3 459.8 L1615.0 460.0 L1615.6 459.6 L1616.2 460.0 L1616.8 461.2 L1617.4 459.1 L1618.1 459.1 L1618.8 460.0 L1619.3 457.8 L1619.9 455.7 L1620.5 452.5 L1621.0 449.0 L1621.5 445.2 L1622.0 443.8 L1622.4 443.4 L1622.8 442.6 L1623.2 441.2 L1623.8 444.7 L1624.4 443.9 L1625.0 446.2 L1625.6 447.8 L1626.2 451.1 L1626.8 452.5 L1627.4 456.3 L1628.1 455.8 L1628.8 457.5 L1629.3 456.6 L1629.9 454.5 L1630.5 455.0 L1630.9 451.1 L1631.3 449.7 L1631.8 445.0 L1632.2 441.2 L1632.8 436.6 L1633.2 430.0 L1633.8 421.0 L1634.4 417.8 L1635.0 410.0 L1635.6 402.9 L1636.2 399.2 L1636.8 392.5 L1637.2 385.8 L1637.8 385.7 L1638.2 382.5 L1638.8 380.0 L1639.4 381.8 L1640.0 378.8 L1640.6 378.5 L1641.2 379.8 L1641.8 377.5 L1642.2 377.7 L1642.8 381.9 L1643.2 380.0 L1643.8 374.4 L1644.4 372.7 L1645.0 365.0 L1645.6 361.0 L1646.2 357.0 L1646.8 355.0 L1647.4 354.6 L1648.1 351.1 L1648.8 350.0 L1649.3 352.0 L1649.9 352.3 L1650.5 356.2 L1651.0 359.5 L1651.5 363.9 L1652.0 367.5 L1652.6 368.6 L1653.2 372.2 L1653.8 373.8 L1654.3 366.8 L1654.9 367.5 L1655.5 362.5 L1656.2 359.8 L1656.8 360.4 L1657.5 356.2 L1658.1 356.6 L1658.7 357.0 L1659.2 358.8 L1659.9 356.9 L1660.6 356.6 L1661.2 355.0 L1661.8 355.4 L1662.4 353.5 L1663.0 353.8 L1663.5 350.5 L1664.0 350.2 L1664.5 347.5 L1665.1 347.0 L1665.7 341.7 L1666.2 342.5 L1666.8 341.9 L1667.4 343.2 L1668.0 345.0 L1668.5 350.8 L1669.0 353.4 L1669.5 355.0 L1670.1 352.8 L1670.7 349.0 L1671.2 345.0 L1671.8 340.1 L1672.4 339.9 L1673.0 335.0 L1673.5 331.5 L1674.0 328.0 L1674.5 326.2 L1675.1 328.2 L1675.7 322.5 L1676.2 323.8 L1676.7 329.5 L1677.1 331.5 L1677.5 335.0 L1677.9 337.9 L1678.3 343.6 L1678.8 347.5 L1679.3 348.8 L1679.9 352.8 L1680.5 355.0 L1681.2 355.8 L1681.8 356.7 L1682.5 360.0 L1683.1 362.9 L1683.7 357.6 L1684.2 357.5 L1684.8 355.6 L1685.2 350.8 L1685.8 347.5 L1686.3 353.9 L1686.9 356.5 L1687.5 363.8 L1688.1 363.9 L1688.7 362.4 L1689.2 368.8 L1689.9 370.6 L1690.6 370.2 L1691.2 370.0 L1691.8 365.0 L1692.4 364.5 L1693.0 360.0 L1693.7 358.3 L1694.3 359.2 L1695.0 352.5 L1695.6 349.5 L1696.2 347.1 L1696.8 342.5 L1697.2 341.7 L1697.8 340.3 L1698.2 337.5 L1698.8 343.3 L1699.4 348.6 L1700.0 355.0 L1700.6 360.6 L1701.2 365.9 L1701.8 368.8 L1702.2 367.9 L1702.8 368.8 L1703.2 371.2 L1703.8 368.7 L1704.4 368.8 L1705.0 363.8 L1705.6 360.5 L1706.2 355.5 L1706.8 355.0 L1707.4 352.0 L1708.1 347.7 L1708.8 342.5 L1709.3 341.9 L1709.9 336.1 L1710.5 332.5 L1711.2 333.6 L1711.8 328.1 L1712.5 327.5 L1713.1 327.5 L1713.7 325.2 L1714.2 323.8 L1714.8 323.3 L1715.2 325.9 L1715.8 327.5 L1716.3 331.5 L1716.9 333.3 L1717.5 333.8 L1718.2 332.0 L1718.8 332.8 L1719.5 330.0 L1720.1 333.4 L1720.7 335.4 L1721.2 336.2 L1721.8 335.8 L1722.4 335.0 L1723.0 333.8 L1723.7 331.3 L1724.3 331.2 L1725.0 330.0 L1725.6 333.5 L1726.2 335.6 L1726.8 340.0 L1727.2 342.1 L1727.8 345.2 L1728.2 347.5 L1728.8 349.5 L1729.4 352.3 L1730.0 352.5 L1730.6 352.3 L1731.2 354.4 L1731.8 356.2 L1732.4 357.1 L1733.1 356.6 L1733.8 357.5 L1734.3 358.4 L1734.9 357.7 L1735.5 358.8 L1736.2 359.2 L1736.8 355.9 L1737.5 355.0 L1738.1 354.6 L1738.7 358.6 L1739.2 358.8 L1739.9 359.4 L1740.6 352.7 L1741.2 353.8 L1741.8 355.7 L1742.4 358.0 L1743.0 360.0 L1743.7 360.2 L1744.3 359.6 L1745.0 356.2 L1745.6 354.4 L1746.2 350.7 L1746.8 351.2 L1747.2 353.0 L1747.8 354.4 L1748.2 353.8 L1748.8 357.7 L1749.4 360.5 L1750.0 363.8 L1750.6 368.0 L1751.2 378.0 L1751.8 380.0 L1752.2 384.1 L1752.8 389.5 L1753.2 397.5 L1753.7 400.1 L1754.1 400.4 L1754.5 401.2 L1755.1 396.0 L1755.7 389.3 L1756.2 382.5 L1756.8 379.5 L1757.4 373.7 L1758.0 366.2 L1758.5 368.4 L1759.0 373.5 L1759.5 375.0 L1760.1 379.2 L1760.7 384.3 L1761.2 392.5 L1761.7 389.2 L1762.1 381.9 L1762.5 377.5 L1763.1 378.6 L1763.7 385.8 L1764.2 390.0 L1764.7 394.9 L1765.1 402.4 L1765.5 407.5 L1766.0 411.2 L1766.5 413.9 L1767.0 418.8 L1767.6 416.1 L1768.2 416.5 L1768.8 413.8 L1769.3 409.5 L1769.9 408.1 L1770.5 405.0 L1771.2 401.9 L1771.8 402.3 L1772.5 400.0 L1772.9 404.2 L1773.3 404.1 L1773.8 405.0 L1774.2 404.9 L1774.6 402.3 L1775.0 400.0 L1775.6 397.0 L1776.2 396.3 L1776.8 395.0 L1777.2 393.9 L1777.8 393.1 L1778.2 391.2 L1778.8 392.5 L1779.4 396.3 L1780.0 397.5 L1780.6 395.2 L1781.2 395.1 L1781.8 393.8 L1782.4 392.5 L1783.1 389.6 L1783.8 390.0 L1784.3 393.1 L1784.9 393.4 L1785.5 395.0 L1786.2 396.4 L1786.8 397.5 L1787.5 398.8 L1788.1 395.4 L1788.7 395.9 L1789.2 397.5 L1789.9 397.9 L1790.6 402.2 L1791.2 402.5 L1791.8 400.9 L1792.4 401.7 L1793.0 400.0 L1793.5 401.9 L1794.0 405.5 L1794.5 410.0 L1795.1 412.7 L1795.7 418.2 L1796.2 420.0 L1796.8 420.6 L1797.4 425.6 L1798.0 428.8 L1798.5 424.8 L1799.0 419.8 L1799.5 415.0 L1800.1 410.0 L1800.7 406.1 L1801.2 400.0 L1801.8 399.6 L1802.4 396.9 L1803.0 397.5 L1803.7 400.1 L1804.3 399.7 L1805.0 402.5 L1805.6 401.2 L1806.2 402.9 L1806.8 400.0 L1807.4 403.0 L1808.1 401.2 L1808.8 398.8 L1809.3 398.9 L1809.9 396.8 L1810.5 397.5 L1811.2 393.9 L1811.8 394.9 L1812.5 390.0 L1812.9 385.5 L1813.3 378.1 L1813.8 375.0 L1814.2 374.7 L1814.6 370.8 L1815.0 367.5 L1815.6 369.0 L1816.2 367.2 L1816.8 366.2 L1817.4 362.8 L1818.1 364.4 L1818.8 365.0 L1819.3 364.0 L1819.9 363.1 L1820.5 362.5 L1821.2 363.8 L1821.8 359.9 L1822.5 360.0 L1823.1 359.5 L1823.7 359.1 L1824.2 358.8 L1824.8 357.8 L1825.2 355.6 L1825.8 356.2 L1826.3 357.9 L1826.9 359.3 L1827.5 366.2 L1827.9 363.0 L1828.3 358.5 L1828.8 355.0 L1829.2 349.5 L1829.6 341.9 L1830.0 337.5 L1830.6 335.8 L1831.2 332.8 L1831.8 332.5 L1832.2 329.8 L1832.8 330.5 L1833.2 328.8 L1833.8 331.3 L1834.4 332.9 L1835.0 333.8 L1835.6 332.9 L1836.2 331.5 L1836.8 331.2 L1837.4 334.5 L1838.1 335.5 L1838.8 335.0 L1839.3 332.4 L1839.9 330.1 L1840.5 330.0 L1841.0 328.9 L1841.5 327.1 L1842.0 325.0 L1842.6 322.9 L1843.2 326.6 L1843.8 322.5 L1844.2 315.4 L1844.6 313.0 L1845.0 310.0 L1845.6 308.3 L1846.2 307.2 L1846.8 303.8 L1847.2 304.1 L1847.6 309.0 L1848.0 312.5 L1848.7 315.4 L1849.3 316.2 L1850.0 315.0 L1850.6 313.4 L1851.2 312.6 L1851.8 311.2 L1852.2 312.9 L1852.8 317.6 L1853.2 320.0 L1853.8 322.3 L1854.4 324.6 L1855.0 331.2 L1855.6 327.0 L1856.2 327.2 L1856.8 325.0 L1857.4 324.0 L1858.1 328.2 L1858.8 327.5 L1859.2 331.8 L1859.6 333.9 L1860.0 335.0 L1860.4 338.0 L1860.8 340.8 L1861.2 341.2 L1861.8 336.2 L1862.4 331.6 L1863.0 325.0 L1863.5 322.3 L1864.0 319.4 L1864.5 315.0 L1865.1 311.9 L1865.7 310.7 L1866.2 310.0 L1866.8 309.4 L1867.4 312.8 L1868.0 312.5 L1868.5 316.6 L1869.0 318.1 L1869.5 322.5 L1870.1 322.4 L1870.7 324.2 L1871.2 326.2 L1871.8 326.2 L1872.4 323.6 L1873.0 322.5 L1873.5 322.6 L1874.0 322.4 L1874.5 323.8 L1875.1 326.5 L1875.7 331.8 L1876.2 332.5 L1876.8 333.2 L1877.4 335.3 L1878.0 337.5 L1878.7 342.0 L1879.3 342.7 L1880.0 343.8 L1880.6 336.7 L1881.2 334.5 L1881.8 327.5 L1882.2 323.2 L1882.8 323.3 L1883.2 320.0 L1883.8 317.3 L1884.4 320.3 L1885.0 322.5 L1885.6 322.6 L1886.2 319.2 L1886.8 318.8 L1887.4 316.9 L1888.1 317.2 L1888.8 316.2 L1889.2 319.2 L1889.6 321.4 L1890.0 325.0 L1890.6 319.9 L1891.2 319.2 L1891.8 312.5 L1892.2 315.9 L1892.8 315.5 L1893.2 316.2 L1893.8 313.8 L1894.4 313.8 L1895.0 313.8 L1895.6 313.8 L1896.2 315.3 L1896.8 315.0 L1897.2 313.1 L1897.8 305.9 L1898.2 302.5 L1898.7 298.6 L1899.1 293.6 L1899.5 290.0 L1900.1 288.5 L1900.7 285.7 L1901.2 285.0 L1901.8 282.6 L1902.4 280.8 L1903.0 276.2 L1903.7 276.1 L1904.3 276.6 L1905.0 277.5 L1905.6 278.9 L1906.2 278.2 L1906.8 281.2 L1907.4 283.0 L1908.1 277.7 L1908.8 278.8 L1909.3 279.9 L1909.9 280.8 L1910.5 283.8 L1911.0 283.4 L1911.5 278.1 L1912.0 276.2 L1912.6 277.6 L1913.2 283.1 L1913.8 282.5 L1914.3 280.7 L1914.9 278.1 L1915.5 277.5 L1916.2 278.8 L1916.8 280.3 L1917.5 281.2 L1918.1 279.4 L1918.7 279.3 L1919.2 278.8 L1919.9 280.1 L1920.6 283.1 L1921.2 283.8 L1921.7 288.6 L1922.1 292.4 L1922.5 295.0 L1923.1 297.3 L1923.7 301.1 L1924.2 302.5 L1924.9 300.5 L1925.6 300.8 L1926.2 297.5 L1926.8 296.4 L1927.4 293.6 L1928.0 292.5 L1928.5 295.1 L1929.0 292.0 L1929.5 295.0 L1930.1 291.1 L1930.7 288.9 L1931.2 287.5 L1931.8 284.8 L1932.4 280.8 L1933.0 280.0 L1933.5 277.5 L1934.0 275.7 L1934.5 277.5 L1934.9 274.8 L1935.3 270.6 L1935.8 268.8 L1936.2 269.8 L1936.6 265.7 L1937.0 262.5 L1937.4 264.2 L1937.8 271.0 L1938.2 272.5 L1938.7 276.8 L1939.1 282.4 L1939.5 285.0 L1940.1 285.5 L1940.7 290.8 L1941.2 291.2 L1941.8 295.3 L1942.4 295.7 L1943.0 298.8 L1943.5 294.6 L1944.0 292.4 L1944.5 290.0 L1945.1 289.5 L1945.7 291.7 L1946.2 287.5 L1946.8 292.6 L1947.4 294.6 L1948.0 295.0 L1948.5 298.9 L1949.0 302.9 L1949.5 307.5 L1950.1 306.8 L1950.7 304.6 L1951.2 303.8 L1951.8 306.9 L1952.4 311.0 L1953.0 315.0 L1953.7 317.0 L1954.3 316.6 L1955.0 317.5 L1955.6 316.6 L1956.2 314.6 L1956.8 313.8 L1957.2 310.6 L1957.8 307.5 L1958.2 305.0 L1958.8 308.5 L1959.4 308.7 L1960.0 310.0 L1960.6 311.3 L1961.2 308.1 L1961.8 307.5 L1962.4 309.4 L1963.1 306.4 L1963.8 308.8 L1964.3 306.1 L1964.9 304.5 L1965.5 302.5 L1966.0 298.3 L1966.5 295.7 L1967.0 292.5 L1967.6 290.4 L1968.2 290.6 L1968.8 290.0 L1969.3 289.5 L1969.9 290.8 L1970.5 291.2 L1971.2 289.6 L1971.8 287.4 L1972.5 287.5 L1973.1 286.5 L1973.7 286.7 L1974.2 286.2 L1974.8 284.9 L1975.2 287.2 L1975.8 287.5 L1976.3 291.4 L1976.9 291.4 L1977.5 293.8 L1978.1 296.2 L1978.7 298.0 L1979.2 298.8 L1979.9 300.6 L1980.6 306.5 L1981.2 307.5 L1981.9 313.5 L1982.6 311.1 L1983.2 315.0 L1983.8 315.9 L1984.4 309.8 L1985.0 308.8 L1985.6 307.5 L1986.2 299.5 L1986.8 298.8 L1987.2 299.1 L1987.8 296.5 L1988.2 295.0 L1988.8 289.9 L1989.4 287.2 L1990.0 285.0 L1990.6 280.2 L1991.2 277.1 L1991.8 275.0 L1992.2 272.2 L1992.8 268.1 L1993.2 265.0 L1993.8 259.4 L1994.4 260.4 L1995.0 258.8 L1995.7 260.7 L1996.3 261.4 L1997.0 262.5 L1997.4 266.6 L1997.8 263.3 L1998.2 267.5 L1998.7 271.2 L1999.1 274.2 L1999.5 277.5 L1999.9 284.4 L2000.3 287.3 L2000.8 295.0 L2001.2 297.8 L2001.6 303.9 L2002.0 308.8 L2002.6 304.3 L2003.2 297.0 L2003.8 295.0 L2004.3 298.4 L2004.9 300.8 L2005.5 303.8 L2006.0 311.0 L2006.5 312.6 L2007.0 322.5 L2007.6 321.6 L2008.2 317.9 L2008.8 317.5 L2009.3 316.0 L2009.9 316.9 L2010.5 315.0 L2011.0 316.1 L2011.5 312.7 L2012.0 311.2 L2012.6 313.2 L2013.2 317.3 L2013.8 317.5 L2014.2 312.1 L2014.6 309.0 L2015.0 305.0 L2015.6 301.4 L2016.2 297.8 L2016.8 296.2 L2017.2 296.1 L2017.8 298.3 L2018.2 295.0 L2018.8 297.9 L2019.4 300.7 L2020.0 302.5 L2020.6 307.0 L2021.2 313.3 L2021.8 316.2 L2022.2 314.4 L2022.8 310.9 L2023.2 310.0 L2023.8 309.7 L2024.4 311.2 L2025.0 308.8 L2025.6 312.4 L2026.2 317.9 L2026.8 320.0 L2027.2 326.6 L2027.8 336.2 L2028.2 340.0 L2028.8 338.7 L2029.4 337.6 L2030.0 335.0 L2030.6 332.1 L2031.2 331.2 L2031.8 327.5 L2032.2 325.9 L2032.8 322.9 L2033.2 323.8 L2033.8 324.6 L2034.4 322.9 L2035.0 325.0 L2035.4 331.3 L2035.8 334.5 L2036.2 337.5 L2036.8 341.7 L2037.4 346.8 L2038.0 350.0 L2038.5 350.5 L2039.0 360.5 L2039.5 362.5 L2040.1 364.1 L2040.7 368.5 L2041.2 370.0 L2041.8 377.0 L2042.4 374.4 L2043.0 380.0 L2043.5 384.4 L2044.0 390.5 L2044.5 395.0 L2045.1 397.3 L2045.7 396.0 L2046.2 400.0 L2046.8 395.4 L2047.4 395.4 L2048.0 390.0 L2048.5 385.0 L2049.0 382.5 L2049.5 377.5 L2050.1 374.7 L2050.7 374.6 L2051.2 375.0 L2051.8 375.8 L2052.4 382.1 L2053.0 385.0 L2053.5 389.6 L2054.0 391.0 L2054.5 393.8 L2055.1 388.0 L2055.7 383.3 L2056.2 377.5 L2056.8 375.3 L2057.4 371.3 L2058.0 368.8 L2058.5 370.8 L2059.0 374.0 L2059.5 372.5 L2060.1 379.4 L2060.7 379.2 L2061.2 383.8 L2061.8 379.1 L2062.4 380.6 L2063.0 375.0 L2063.5 375.1 L2064.0 374.2 L2064.5 371.2 L2065.1 372.5 L2065.7 371.8 L2066.2 372.5 L2066.8 373.5 L2067.4 373.3 L2068.0 371.2 L2068.5 375.8 L2069.0 375.6 L2069.5 380.0 L2070.1 384.4 L2070.7 385.4 L2071.2 388.8 L2071.8 389.5 L2072.4 391.8 L2073.0 392.5 L2073.5 393.3 L2074.0 398.3 L2074.5 396.2 L2075.1 394.6 L2075.7 391.6 L2076.2 388.8 L2076.8 387.7 L2077.4 387.4 L2078.0 386.2 L2078.7 387.2 L2079.3 389.6 L2080.0 390.0 L2080.6 391.6 L2081.2 392.0 L2081.8 391.2 L2082.4 388.7 L2083.1 389.1 L2083.8 388.8 L2084.3 389.3 L2084.9 387.9 L2085.5 390.0 L2086.2 389.7 L2086.8 388.1 L2087.5 387.5 L2088.1 388.0 L2088.7 388.9 L2089.2 388.8 L2089.8 386.2 L2090.2 387.6 L2090.8 383.8 L2091.3 382.3 L2091.9 377.2 L2092.5 375.0 L2093.1 373.2 L2093.7 371.1 L2094.2 367.5 L2094.8 367.7 L2095.2 369.5 L2095.8 371.2 L2096.3 374.3 L2096.9 371.8 L2097.5 377.5 L2098.1 376.1 L2098.7 378.8 L2099.2 378.8 L2099.8 378.4 L2100.2 375.0 L2100.8 375.0 L2101.3 372.9 L2101.9 371.5 L2102.5 365.0 L2103.1 362.4 L2103.7 359.1 L2104.2 356.2 L2104.8 357.6 L2105.2 357.3 L2105.8 360.0 L2106.3 362.9 L2106.9 364.4 L2107.5 366.2 L2108.1 368.6 L2108.7 370.8 L2109.2 370.0 L2109.8 375.1 L2110.2 380.3 L2110.8 385.0 L2111.3 384.2 L2111.9 385.0 L2112.5 381.2 L2113.1 382.1 L2113.7 387.1 L2114.2 390.0 L2114.8 390.0 L2115.2 391.9 L2115.8 392.5 L2116.3 390.4 L2116.9 385.9 L2117.5 382.5 L2118.1 384.0 L2118.7 383.6 L2119.2 383.8 L2119.8 387.3 L2120.2 392.0 L2120.8 397.5 L2121.3 397.2 L2121.9 401.2 L2122.5 402.5 L2122.9 406.1 L2123.3 412.0 L2123.8 415.0 L2124.3 418.9 L2124.9 418.8 L2125.5 422.5 L2125.9 425.2 L2126.3 431.7 L2126.8 435.0 L2127.1 447.5 L2127.5 462.5 L2127.9 469.7 L2128.2 476.2 L2128.7 473.4 L2129.1 468.2 L2129.5 465.0 L2129.9 462.5 L2130.3 453.9 L2130.8 450.0 L2131.3 453.1 L2131.9 454.4 L2132.5 457.5 L2133.1 454.7 L2133.7 459.8 L2134.2 461.2 L2134.8 458.5 L2135.2 457.1 L2135.8 453.8 L2136.3 452.7 L2136.9 451.1 L2137.5 451.2 L2138.1 453.9 L2138.7 457.5 L2139.2 461.2 L2139.8 461.5 L2140.2 459.2 L2140.8 458.8 L2141.3 462.2 L2141.9 463.3 L2142.5 463.8 L2143.1 461.5 L2143.7 462.7 L2144.2 460.0 L2144.8 458.1 L2145.2 462.6 L2145.8 463.8 L2146.3 464.9 L2146.9 468.6 L2147.5 471.2 L2148.1 469.1 L2148.7 463.8 L2149.2 460.0 L2149.8 460.6 L2150.2 463.5 L2150.8 462.5 L2151.3 460.6 L2151.9 459.7 L2152.5 460.0 L2153.1 463.5 L2153.7 465.0 L2154.2 466.2 L2154.8 458.8 L2155.2 455.6 L2155.8 450.0 L2156.3 448.2 L2156.9 444.0 L2157.5 441.2 L2158.1 443.6 L2158.7 447.3 L2159.2 450.0 L2159.8 454.1 L2160.2 456.5 L2160.8 461.2 L2161.3 463.7 L2161.9 461.5 L2162.5 465.0 L2162.9 461.2 L2163.3 460.5 L2163.8 453.8 L2164.2 451.9 L2164.6 452.9 L2165.0 452.5" fill="none" stroke="#f9c81c" stroke-width="6.0" stroke-linejoin="round" stroke-linecap="round"/>
<path d="M585.25 734 V724 a4 4 0 0 1 4 -4 H2166 a4 4 0 0 1 4 4 V734 Z" fill="#dfe3f2"/>
<clipPath id="sc"><rect x="92" y="733.75" width="2077" height="58.25" rx="6"/></clipPath>
<g clip-path="url(#sc)">
<rect x="586.75" y="733.75" width="1582.25" height="58.25" fill="#e5eefe"/>
<path d="M93.0 775.0 L97.5 772.0 L101.2 769.5 L105.0 771.2 L108.8 768.8 L111.2 768.0 L115.0 769.5 L120.0 770.5 L124.5 771.2 L128.8 768.0 L132.5 765.0 L135.5 762.5 L138.8 765.0 L141.2 766.2 L143.8 763.8 L145.5 765.0 L148.0 762.5 L151.2 765.0 L154.2 768.0 L157.5 767.0 L161.2 768.8 L165.0 769.5 L168.8 767.0 L172.0 766.2 L175.0 767.0 L178.0 769.5 L182.5 768.8 L186.2 769.5 L190.0 769.5 L193.8 768.2 L197.5 768.8 L202.5 769.2 L207.5 769.5 L211.2 771.2 L213.8 773.8 L220.0 774.0 L227.5 774.0 L235.0 775.0 L238.8 772.0 L242.5 771.5 L247.5 771.5 L252.5 772.5 L256.2 773.8 L260.0 775.5 L266.2 775.5 L272.5 775.0 L280.0 776.2 L287.5 775.5 L295.0 775.5 L300.0 774.5 L306.2 773.0 L312.5 773.0 L317.5 771.2 L323.8 770.5 L330.0 769.5 L336.2 770.5 L341.2 773.0 L346.2 772.5 L351.2 776.2 L355.0 779.5 L358.8 778.8 L362.5 777.0 L366.2 778.0 L370.0 776.2 L375.0 775.0 L380.0 775.5 L386.2 775.0 L391.2 773.8 L396.2 772.0 L400.0 770.5 L402.5 772.0 L405.0 770.0 L410.0 770.5 L413.8 771.2 L418.8 770.5 L425.0 771.5 L430.0 772.0 L435.0 771.5 L440.0 772.5 L447.5 772.5 L455.0 772.5 L462.5 771.5 L466.2 768.8 L471.2 768.2 L477.5 768.2 L482.5 767.5 L488.8 768.0 L496.2 768.2 L498.8 771.2 L505.0 770.8 L510.0 770.0 L515.0 771.2 L520.0 770.5 L525.0 770.5 L530.0 769.5 L533.8 768.8 L537.5 767.0 L542.5 766.5 L547.5 765.5 L551.2 763.8 L555.0 763.0 L558.8 761.2 L562.5 760.5 L566.2 762.5 L570.0 760.0 L573.8 762.0 L578.8 762.5 L586.8 762.5 L586.8 792 L93.0 792 Z" fill="#f5f6fb"/>
<path d="M93.0 775.0 L97.5 772.0 L101.2 769.5 L105.0 771.2 L108.8 768.8 L111.2 768.0 L115.0 769.5 L120.0 770.5 L124.5 771.2 L128.8 768.0 L132.5 765.0 L135.5 762.5 L138.8 765.0 L141.2 766.2 L143.8 763.8 L145.5 765.0 L148.0 762.5 L151.2 765.0 L154.2 768.0 L157.5 767.0 L161.2 768.8 L165.0 769.5 L168.8 767.0 L172.0 766.2 L175.0 767.0 L178.0 769.5 L182.5 768.8 L186.2 769.5 L190.0 769.5 L193.8 768.2 L197.5 768.8 L202.5 769.2 L207.5 769.5 L211.2 771.2 L213.8 773.8 L220.0 774.0 L227.5 774.0 L235.0 775.0 L238.8 772.0 L242.5 771.5 L247.5 771.5 L252.5 772.5 L256.2 773.8 L260.0 775.5 L266.2 775.5 L272.5 775.0 L280.0 776.2 L287.5 775.5 L295.0 775.5 L300.0 774.5 L306.2 773.0 L312.5 773.0 L317.5 771.2 L323.8 770.5 L330.0 769.5 L336.2 770.5 L341.2 773.0 L346.2 772.5 L351.2 776.2 L355.0 779.5 L358.8 778.8 L362.5 777.0 L366.2 778.0 L370.0 776.2 L375.0 775.0 L380.0 775.5 L386.2 775.0 L391.2 773.8 L396.2 772.0 L400.0 770.5 L402.5 772.0 L405.0 770.0 L410.0 770.5 L413.8 771.2 L418.8 770.5 L425.0 771.5 L430.0 772.0 L435.0 771.5 L440.0 772.5 L447.5 772.5 L455.0 772.5 L462.5 771.5 L466.2 768.8 L471.2 768.2 L477.5 768.2 L482.5 767.5 L488.8 768.0 L496.2 768.2 L498.8 771.2 L505.0 770.8 L510.0 770.0 L515.0 771.2 L520.0 770.5 L525.0 770.5 L530.0 769.5 L533.8 768.8 L537.5 767.0 L542.5 766.5 L547.5 765.5 L551.2 763.8 L555.0 763.0 L558.8 761.2 L562.5 760.5 L566.2 762.5 L570.0 760.0 L573.8 762.0 L578.8 762.5 L586.8 762.5" fill="none" stroke="#d2d9ea" stroke-width="1.2"/>
<path d="M582.4 759.7 L585.4 757.7 L587.7 759.5 L590.6 757.2 L593.0 756.1 L596.3 754.4 L598.7 751.8 L600.6 749.6 L602.9 749.0 L605.4 755.6 L607.7 753.1 L610.1 754.5 L612.4 758.4 L614.3 758.7 L617.6 761.1 L619.7 757.9 L622.3 756.9 L624.8 755.2 L627.3 751.0 L629.6 749.1 L632.0 750.0 L634.9 748.7 L637.5 745.7 L639.4 746.9 L640.6 752.7 L642.9 755.8 L645.2 754.0 L647.6 754.6 L650.5 752.2 L653.3 749.6 L655.8 749.4 L657.7 750.2 L660.4 751.0 L663.2 754.3 L666.1 753.7 L669.1 752.2 L671.4 753.7 L674.3 753.1 L676.7 753.4 L679.4 752.8 L681.9 752.5 L684.4 754.9 L686.6 757.2 L689.1 760.5 L691.8 759.0 L693.9 759.0 L696.1 757.5 L698.2 759.9 L700.3 757.8 L702.6 758.4 L704.7 760.8 L706.6 763.1 L709.5 766.1 L710.9 769.3 L712.7 769.6 L714.8 768.7 L717.5 769.6 L719.9 769.0 L722.4 768.7 L725.1 770.2 L727.5 769.6 L730.0 769.9 L732.3 767.4 L734.8 769.3 L737.6 772.1 L740.3 772.0 L743.1 770.2 L746.0 770.4 L748.9 770.5 L751.7 771.0 L754.8 770.7 L757.4 771.7 L760.3 772.3 L762.7 772.0 L765.6 770.2 L768.4 767.9 L771.3 767.6 L773.8 768.6 L776.4 764.9 L779.5 765.5 L781.8 763.7 L784.6 765.5 L787.1 763.1 L789.8 763.7 L792.8 764.6 L795.5 764.6 L798.5 763.4 L801.2 762.0 L803.1 764.9 L805.9 766.2 L808.8 764.6 L811.8 764.9 L814.1 768.5 L817.0 767.6 L819.4 768.5 L821.3 764.9 L824.0 763.1 L827.1 761.7 L829.7 761.1 L832.8 759.2 L835.4 759.0 L838.1 757.4 L840.4 760.2 L843.0 760.8 L845.3 759.9 L848.4 759.7 L851.2 761.1 L853.7 758.1 L856.4 760.5 L859.2 760.3 L861.3 763.1 L863.6 763.7 L865.9 763.4 L868.7 765.5 L871.6 764.0 L874.0 766.1 L875.6 767.7 L878.4 768.2 L881.1 768.2 L884.1 768.6 L886.8 768.5 L889.8 767.4 L893.1 767.0 L895.9 768.6 L898.8 768.5 L901.6 769.9 L904.5 771.0 L907.3 770.1 L910.2 770.2 L912.7 772.0 L915.3 773.9 L918.2 772.7 L921.0 772.7 L923.9 772.9 L926.4 770.8 L929.2 769.9 L932.1 770.5 L934.9 769.6 L937.4 770.8 L940.1 772.7 L943.1 772.6 L945.4 771.1 L947.9 769.6 L950.5 772.6 L953.0 770.8 L955.9 772.7 L958.7 771.7 L961.6 771.4 L964.4 771.0 L967.3 769.6 L970.1 768.6 L973.0 769.2 L975.8 769.6 L978.7 770.8 L981.5 772.1 L984.4 771.8 L987.3 771.7 L990.1 771.7 L993.0 772.0 L995.8 772.9 L998.7 772.1 L1001.1 773.2 L1003.8 775.8 L1006.7 776.4 L1009.5 776.3 L1012.4 776.0 L1014.8 776.1 L1017.7 776.3 L1020.6 775.8 L1023.0 776.1 L1025.7 775.7 L1028.7 775.8 L1031.4 776.7 L1033.5 779.4 L1036.2 780.5 L1039.0 780.1 L1041.9 779.8 L1044.7 780.0 L1047.8 780.4 L1050.6 780.3 L1053.5 779.4 L1056.1 780.3 L1059.0 779.8 L1061.8 778.6 L1064.9 778.5 L1067.5 779.2 L1070.4 778.0 L1073.3 778.3 L1076.3 778.3 L1079.0 778.2 L1082.0 777.7 L1084.7 777.7 L1087.5 778.6 L1090.0 779.2 L1092.9 779.2 L1095.7 780.1 L1098.6 780.0 L1101.4 780.0 L1103.9 780.5 L1106.6 778.9 L1109.0 779.1 L1111.9 780.0 L1114.7 780.3 L1117.6 780.3 L1120.4 780.2 L1123.3 780.0 L1126.1 779.7 L1129.0 780.0 L1131.9 780.2 L1134.7 780.1 L1137.6 780.1 L1140.4 780.1 L1143.3 779.8 L1146.1 779.2 L1149.0 779.3 L1151.8 779.1 L1154.7 779.4 L1156.6 781.7 L1159.4 781.1 L1162.3 781.1 L1165.2 781.1 L1168.0 781.1 L1170.9 781.1 L1173.7 780.7 L1176.6 780.8 L1179.4 780.7 L1182.3 780.6 L1185.1 780.3 L1187.6 781.0 L1190.5 781.0 L1193.1 780.9 L1196.2 780.8 L1198.8 781.0 L1202.3 780.8 L1206.1 780.5 L1208.9 780.0 L1210.8 778.3 L1213.7 778.5 L1216.0 777.4 L1219.0 777.4 L1221.7 777.1 L1224.7 776.8 L1227.4 777.0 L1230.2 777.3 L1233.1 777.9 L1235.9 777.7 L1238.4 776.4 L1241.3 776.3 L1244.1 776.7 L1247.0 776.9 L1249.8 777.0 L1252.7 777.6 L1255.5 778.3 L1258.0 778.2 L1260.3 776.4 L1262.6 774.6 L1265.4 774.4 L1268.5 774.4 L1271.1 774.9 L1274.2 774.2 L1276.8 774.4 L1279.9 774.4 L1282.5 773.5 L1285.0 773.1 L1287.9 773.2 L1290.3 774.2 L1293.0 774.6 L1295.9 773.6 L1298.7 774.4 L1301.6 773.9 L1304.4 773.9 L1306.9 774.9 L1309.8 775.3 L1312.6 775.2 L1315.5 775.3 L1318.3 775.7 L1320.8 775.1 L1323.5 775.1 L1326.3 775.1 L1328.8 776.0 L1331.3 775.7 L1333.9 775.8 L1336.4 776.4 L1338.9 775.7 L1341.1 774.6 L1343.4 773.2 L1346.3 773.5 L1349.1 773.2 L1351.6 772.9 L1354.5 773.5 L1357.3 774.4 L1360.2 774.1 L1363.0 773.8 L1365.9 773.8 L1368.7 773.8 L1371.2 774.1 L1373.9 774.1 L1376.7 773.9 L1379.6 774.1 L1382.4 773.9 L1385.3 774.1 L1388.1 774.4 L1390.0 775.9 L1392.9 775.8 L1395.8 775.8 L1398.6 775.4 L1401.1 775.8 L1403.9 776.0 L1406.8 776.0 L1409.6 776.3 L1412.5 775.5 L1415.4 775.5 L1418.2 775.5 L1421.1 775.8 L1423.9 775.3 L1426.8 774.9 L1429.6 775.0 L1432.5 775.0 L1435.3 775.5 L1438.2 775.2 L1440.7 774.2 L1442.9 773.8 L1445.4 771.7 L1448.1 771.6 L1451.1 771.1 L1453.8 771.3 L1456.8 770.8 L1459.5 770.2 L1462.3 771.0 L1465.2 770.5 L1468.1 770.8 L1470.5 770.2 L1473.4 770.2 L1476.2 769.9 L1478.7 768.5 L1481.4 767.0 L1484.2 768.2 L1487.1 768.2 L1489.9 768.7 L1493.0 767.9 L1495.6 768.0 L1498.5 768.3 L1501.4 768.7 L1504.2 767.4 L1507.1 767.7 L1509.5 766.7 L1512.0 768.5 L1514.7 768.9 L1517.5 769.8 L1520.0 770.5 L1522.9 769.9 L1525.7 769.0 L1528.6 769.3 L1531.4 769.2 L1534.3 768.0 L1536.7 766.7 L1539.4 765.2 L1542.3 765.3 L1545.1 765.8 L1548.0 765.2 L1550.1 762.3 L1552.3 761.5 L1554.2 759.6 L1556.1 759.7 L1558.4 760.5 L1560.9 759.1 L1563.4 760.2 L1565.3 762.0 L1567.2 761.7 L1568.9 764.3 L1571.4 763.7 L1573.3 761.8 L1575.7 761.7 L1578.4 762.4 L1580.9 763.4 L1583.7 762.0 L1586.2 762.8 L1588.9 764.3 L1591.7 765.4 L1593.8 764.9 L1596.5 764.6 L1599.0 765.5 L1601.4 766.1 L1604.1 766.1 L1606.6 765.9 L1609.4 766.7 L1612.3 766.1 L1614.8 765.2 L1617.4 764.3 L1619.5 762.8 L1622.2 763.9 L1624.6 763.9 L1627.5 765.1 L1630.4 764.3 L1632.8 764.0 L1635.5 764.8 L1638.3 765.4 L1641.2 765.6 L1644.1 766.4 L1646.9 767.1 L1649.4 768.2 L1652.2 767.4 L1654.7 768.5 L1657.4 769.5 L1659.8 769.2 L1662.7 768.6 L1665.2 766.7 L1667.8 766.1 L1670.3 765.6 L1672.8 766.7 L1675.4 765.8 L1677.9 766.7 L1680.4 767.9 L1682.7 770.8 L1685.0 768.3 L1687.4 768.7 L1689.9 769.5 L1692.6 769.0 L1695.4 768.5 L1697.9 767.4 L1700.4 768.9 L1703.0 769.2 L1705.9 769.5 L1708.0 770.2 L1710.6 770.2 L1713.5 769.3 L1716.0 769.2 L1718.8 768.5 L1721.7 768.3 L1724.5 767.6 L1727.0 767.1 L1729.7 768.7 L1732.5 768.3 L1735.0 768.7 L1737.9 768.3 L1740.7 767.6 L1743.6 766.7 L1746.4 767.1 L1749.3 767.6 L1751.7 765.8 L1754.0 766.4 L1756.9 766.7 L1759.4 764.9 L1762.0 763.7 L1764.5 761.7 L1767.3 761.1 L1770.2 760.2 L1772.1 759.7 L1774.6 760.8 L1777.2 761.1 L1780.1 761.1 L1782.9 761.2 L1785.4 761.4 L1787.9 762.1 L1790.6 760.5 L1793.0 760.1 L1794.9 762.3 L1797.8 763.1 L1800.3 763.0 L1802.9 764.5 L1805.8 764.3 L1808.6 763.1 L1811.1 764.0 L1813.6 765.1 L1816.2 763.7 L1819.1 762.7 L1822.0 762.1 L1824.4 762.7 L1827.3 762.8 L1830.1 763.0 L1832.6 763.7 L1835.3 764.6 L1838.1 764.9 L1841.0 765.1 L1843.8 765.4 L1846.7 765.0 L1849.2 765.5 L1851.6 767.9 L1853.9 767.3 L1856.4 766.4 L1858.7 767.0 L1861.0 769.0 L1863.4 769.3 L1866.3 768.9 L1868.2 768.6 L1870.7 767.9 L1873.3 768.0 L1875.8 768.2 L1878.7 768.5 L1881.5 768.6 L1884.4 770.1 L1887.2 769.8 L1889.7 768.5 L1892.3 768.7 L1895.2 768.5 L1897.3 766.7 L1900.2 766.5 L1902.8 766.5 L1905.7 766.1 L1908.1 766.5 L1910.0 764.8 L1912.5 764.2 L1915.2 764.4 L1918.0 764.3 L1920.9 764.1 L1923.0 763.1 L1925.3 763.9 L1927.7 764.6 L1930.4 764.9 L1932.9 765.5 L1935.2 765.1 L1937.6 764.0 L1940.1 765.1 L1942.8 765.1 L1945.2 765.6 L1948.1 766.5 L1950.6 765.2 L1953.2 765.1 L1955.7 765.6 L1958.2 765.5 L1960.8 765.4 L1962.9 764.0 L1965.6 763.3 L1968.5 763.7 L1971.3 764.2 L1973.8 764.3 L1976.6 764.4 L1979.5 764.6 L1981.8 765.7 L1984.6 765.1 L1987.1 764.8 L1989.6 764.7 L1991.5 763.6 L1993.4 764.7 L1996.0 765.6 L1998.5 765.4 L2001.0 766.4 L2003.7 766.9 L2006.5 767.0 L2009.0 766.9 L2011.8 766.5 L2014.3 766.0 L2017.0 765.8 L2019.8 765.6 L2022.3 766.1 L2025.2 766.9 L2028.0 767.1 L2030.5 766.0 L2033.1 765.1 L2035.6 764.7 L2038.1 765.4 L2040.0 767.1 L2042.3 767.2 L2044.8 768.6 L2047.4 768.1 L2049.9 768.2 L2052.2 767.3 L2054.6 767.6 L2057.1 768.1 L2059.8 769.0 L2062.3 769.6 L2064.7 769.1 L2067.0 769.9 L2069.5 771.3 L2072.2 772.0 L2074.6 773.3 L2077.1 772.3 L2079.8 772.5 L2082.2 772.1 L2084.7 771.9 L2087.4 772.0 L2089.8 771.9 L2092.3 772.4 L2095.0 773.0 L2097.5 772.8 L2100.3 772.8 L2103.2 772.8 L2106.0 772.7 L2108.5 772.3 L2111.2 771.5 L2113.6 772.1 L2116.1 771.8 L2118.8 770.9 L2121.2 771.3 L2123.7 772.3 L2126.4 772.7 L2128.8 772.4 L2131.3 773.3 L2133.6 774.6 L2135.9 775.5 L2137.8 776.1 L2140.3 776.4 L2142.7 776.1 L2145.4 776.4 L2147.9 776.6 L2150.3 776.6 L2153.0 776.4 L2155.5 776.4 L2158.0 775.8 L2160.6 775.8 L2163.1 776.7 L2165.0 776.2 L2169.0 776.2 L2169 792 L582.4 792 Z" fill="#d3e1fc"/>
<path d="M582.4 759.7 L585.4 757.7 L587.7 759.5 L590.6 757.2 L593.0 756.1 L596.3 754.4 L598.7 751.8 L600.6 749.6 L602.9 749.0 L605.4 755.6 L607.7 753.1 L610.1 754.5 L612.4 758.4 L614.3 758.7 L617.6 761.1 L619.7 757.9 L622.3 756.9 L624.8 755.2 L627.3 751.0 L629.6 749.1 L632.0 750.0 L634.9 748.7 L637.5 745.7 L639.4 746.9 L640.6 752.7 L642.9 755.8 L645.2 754.0 L647.6 754.6 L650.5 752.2 L653.3 749.6 L655.8 749.4 L657.7 750.2 L660.4 751.0 L663.2 754.3 L666.1 753.7 L669.1 752.2 L671.4 753.7 L674.3 753.1 L676.7 753.4 L679.4 752.8 L681.9 752.5 L684.4 754.9 L686.6 757.2 L689.1 760.5 L691.8 759.0 L693.9 759.0 L696.1 757.5 L698.2 759.9 L700.3 757.8 L702.6 758.4 L704.7 760.8 L706.6 763.1 L709.5 766.1 L710.9 769.3 L712.7 769.6 L714.8 768.7 L717.5 769.6 L719.9 769.0 L722.4 768.7 L725.1 770.2 L727.5 769.6 L730.0 769.9 L732.3 767.4 L734.8 769.3 L737.6 772.1 L740.3 772.0 L743.1 770.2 L746.0 770.4 L748.9 770.5 L751.7 771.0 L754.8 770.7 L757.4 771.7 L760.3 772.3 L762.7 772.0 L765.6 770.2 L768.4 767.9 L771.3 767.6 L773.8 768.6 L776.4 764.9 L779.5 765.5 L781.8 763.7 L784.6 765.5 L787.1 763.1 L789.8 763.7 L792.8 764.6 L795.5 764.6 L798.5 763.4 L801.2 762.0 L803.1 764.9 L805.9 766.2 L808.8 764.6 L811.8 764.9 L814.1 768.5 L817.0 767.6 L819.4 768.5 L821.3 764.9 L824.0 763.1 L827.1 761.7 L829.7 761.1 L832.8 759.2 L835.4 759.0 L838.1 757.4 L840.4 760.2 L843.0 760.8 L845.3 759.9 L848.4 759.7 L851.2 761.1 L853.7 758.1 L856.4 760.5 L859.2 760.3 L861.3 763.1 L863.6 763.7 L865.9 763.4 L868.7 765.5 L871.6 764.0 L874.0 766.1 L875.6 767.7 L878.4 768.2 L881.1 768.2 L884.1 768.6 L886.8 768.5 L889.8 767.4 L893.1 767.0 L895.9 768.6 L898.8 768.5 L901.6 769.9 L904.5 771.0 L907.3 770.1 L910.2 770.2 L912.7 772.0 L915.3 773.9 L918.2 772.7 L921.0 772.7 L923.9 772.9 L926.4 770.8 L929.2 769.9 L932.1 770.5 L934.9 769.6 L937.4 770.8 L940.1 772.7 L943.1 772.6 L945.4 771.1 L947.9 769.6 L950.5 772.6 L953.0 770.8 L955.9 772.7 L958.7 771.7 L961.6 771.4 L964.4 771.0 L967.3 769.6 L970.1 768.6 L973.0 769.2 L975.8 769.6 L978.7 770.8 L981.5 772.1 L984.4 771.8 L987.3 771.7 L990.1 771.7 L993.0 772.0 L995.8 772.9 L998.7 772.1 L1001.1 773.2 L1003.8 775.8 L1006.7 776.4 L1009.5 776.3 L1012.4 776.0 L1014.8 776.1 L1017.7 776.3 L1020.6 775.8 L1023.0 776.1 L1025.7 775.7 L1028.7 775.8 L1031.4 776.7 L1033.5 779.4 L1036.2 780.5 L1039.0 780.1 L1041.9 779.8 L1044.7 780.0 L1047.8 780.4 L1050.6 780.3 L1053.5 779.4 L1056.1 780.3 L1059.0 779.8 L1061.8 778.6 L1064.9 778.5 L1067.5 779.2 L1070.4 778.0 L1073.3 778.3 L1076.3 778.3 L1079.0 778.2 L1082.0 777.7 L1084.7 777.7 L1087.5 778.6 L1090.0 779.2 L1092.9 779.2 L1095.7 780.1 L1098.6 780.0 L1101.4 780.0 L1103.9 780.5 L1106.6 778.9 L1109.0 779.1 L1111.9 780.0 L1114.7 780.3 L1117.6 780.3 L1120.4 780.2 L1123.3 780.0 L1126.1 779.7 L1129.0 780.0 L1131.9 780.2 L1134.7 780.1 L1137.6 780.1 L1140.4 780.1 L1143.3 779.8 L1146.1 779.2 L1149.0 779.3 L1151.8 779.1 L1154.7 779.4 L1156.6 781.7 L1159.4 781.1 L1162.3 781.1 L1165.2 781.1 L1168.0 781.1 L1170.9 781.1 L1173.7 780.7 L1176.6 780.8 L1179.4 780.7 L1182.3 780.6 L1185.1 780.3 L1187.6 781.0 L1190.5 781.0 L1193.1 780.9 L1196.2 780.8 L1198.8 781.0 L1202.3 780.8 L1206.1 780.5 L1208.9 780.0 L1210.8 778.3 L1213.7 778.5 L1216.0 777.4 L1219.0 777.4 L1221.7 777.1 L1224.7 776.8 L1227.4 777.0 L1230.2 777.3 L1233.1 777.9 L1235.9 777.7 L1238.4 776.4 L1241.3 776.3 L1244.1 776.7 L1247.0 776.9 L1249.8 777.0 L1252.7 777.6 L1255.5 778.3 L1258.0 778.2 L1260.3 776.4 L1262.6 774.6 L1265.4 774.4 L1268.5 774.4 L1271.1 774.9 L1274.2 774.2 L1276.8 774.4 L1279.9 774.4 L1282.5 773.5 L1285.0 773.1 L1287.9 773.2 L1290.3 774.2 L1293.0 774.6 L1295.9 773.6 L1298.7 774.4 L1301.6 773.9 L1304.4 773.9 L1306.9 774.9 L1309.8 775.3 L1312.6 775.2 L1315.5 775.3 L1318.3 775.7 L1320.8 775.1 L1323.5 775.1 L1326.3 775.1 L1328.8 776.0 L1331.3 775.7 L1333.9 775.8 L1336.4 776.4 L1338.9 775.7 L1341.1 774.6 L1343.4 773.2 L1346.3 773.5 L1349.1 773.2 L1351.6 772.9 L1354.5 773.5 L1357.3 774.4 L1360.2 774.1 L1363.0 773.8 L1365.9 773.8 L1368.7 773.8 L1371.2 774.1 L1373.9 774.1 L1376.7 773.9 L1379.6 774.1 L1382.4 773.9 L1385.3 774.1 L1388.1 774.4 L1390.0 775.9 L1392.9 775.8 L1395.8 775.8 L1398.6 775.4 L1401.1 775.8 L1403.9 776.0 L1406.8 776.0 L1409.6 776.3 L1412.5 775.5 L1415.4 775.5 L1418.2 775.5 L1421.1 775.8 L1423.9 775.3 L1426.8 774.9 L1429.6 775.0 L1432.5 775.0 L1435.3 775.5 L1438.2 775.2 L1440.7 774.2 L1442.9 773.8 L1445.4 771.7 L1448.1 771.6 L1451.1 771.1 L1453.8 771.3 L1456.8 770.8 L1459.5 770.2 L1462.3 771.0 L1465.2 770.5 L1468.1 770.8 L1470.5 770.2 L1473.4 770.2 L1476.2 769.9 L1478.7 768.5 L1481.4 767.0 L1484.2 768.2 L1487.1 768.2 L1489.9 768.7 L1493.0 767.9 L1495.6 768.0 L1498.5 768.3 L1501.4 768.7 L1504.2 767.4 L1507.1 767.7 L1509.5 766.7 L1512.0 768.5 L1514.7 768.9 L1517.5 769.8 L1520.0 770.5 L1522.9 769.9 L1525.7 769.0 L1528.6 769.3 L1531.4 769.2 L1534.3 768.0 L1536.7 766.7 L1539.4 765.2 L1542.3 765.3 L1545.1 765.8 L1548.0 765.2 L1550.1 762.3 L1552.3 761.5 L1554.2 759.6 L1556.1 759.7 L1558.4 760.5 L1560.9 759.1 L1563.4 760.2 L1565.3 762.0 L1567.2 761.7 L1568.9 764.3 L1571.4 763.7 L1573.3 761.8 L1575.7 761.7 L1578.4 762.4 L1580.9 763.4 L1583.7 762.0 L1586.2 762.8 L1588.9 764.3 L1591.7 765.4 L1593.8 764.9 L1596.5 764.6 L1599.0 765.5 L1601.4 766.1 L1604.1 766.1 L1606.6 765.9 L1609.4 766.7 L1612.3 766.1 L1614.8 765.2 L1617.4 764.3 L1619.5 762.8 L1622.2 763.9 L1624.6 763.9 L1627.5 765.1 L1630.4 764.3 L1632.8 764.0 L1635.5 764.8 L1638.3 765.4 L1641.2 765.6 L1644.1 766.4 L1646.9 767.1 L1649.4 768.2 L1652.2 767.4 L1654.7 768.5 L1657.4 769.5 L1659.8 769.2 L1662.7 768.6 L1665.2 766.7 L1667.8 766.1 L1670.3 765.6 L1672.8 766.7 L1675.4 765.8 L1677.9 766.7 L1680.4 767.9 L1682.7 770.8 L1685.0 768.3 L1687.4 768.7 L1689.9 769.5 L1692.6 769.0 L1695.4 768.5 L1697.9 767.4 L1700.4 768.9 L1703.0 769.2 L1705.9 769.5 L1708.0 770.2 L1710.6 770.2 L1713.5 769.3 L1716.0 769.2 L1718.8 768.5 L1721.7 768.3 L1724.5 767.6 L1727.0 767.1 L1729.7 768.7 L1732.5 768.3 L1735.0 768.7 L1737.9 768.3 L1740.7 767.6 L1743.6 766.7 L1746.4 767.1 L1749.3 767.6 L1751.7 765.8 L1754.0 766.4 L1756.9 766.7 L1759.4 764.9 L1762.0 763.7 L1764.5 761.7 L1767.3 761.1 L1770.2 760.2 L1772.1 759.7 L1774.6 760.8 L1777.2 761.1 L1780.1 761.1 L1782.9 761.2 L1785.4 761.4 L1787.9 762.1 L1790.6 760.5 L1793.0 760.1 L1794.9 762.3 L1797.8 763.1 L1800.3 763.0 L1802.9 764.5 L1805.8 764.3 L1808.6 763.1 L1811.1 764.0 L1813.6 765.1 L1816.2 763.7 L1819.1 762.7 L1822.0 762.1 L1824.4 762.7 L1827.3 762.8 L1830.1 763.0 L1832.6 763.7 L1835.3 764.6 L1838.1 764.9 L1841.0 765.1 L1843.8 765.4 L1846.7 765.0 L1849.2 765.5 L1851.6 767.9 L1853.9 767.3 L1856.4 766.4 L1858.7 767.0 L1861.0 769.0 L1863.4 769.3 L1866.3 768.9 L1868.2 768.6 L1870.7 767.9 L1873.3 768.0 L1875.8 768.2 L1878.7 768.5 L1881.5 768.6 L1884.4 770.1 L1887.2 769.8 L1889.7 768.5 L1892.3 768.7 L1895.2 768.5 L1897.3 766.7 L1900.2 766.5 L1902.8 766.5 L1905.7 766.1 L1908.1 766.5 L1910.0 764.8 L1912.5 764.2 L1915.2 764.4 L1918.0 764.3 L1920.9 764.1 L1923.0 763.1 L1925.3 763.9 L1927.7 764.6 L1930.4 764.9 L1932.9 765.5 L1935.2 765.1 L1937.6 764.0 L1940.1 765.1 L1942.8 765.1 L1945.2 765.6 L1948.1 766.5 L1950.6 765.2 L1953.2 765.1 L1955.7 765.6 L1958.2 765.5 L1960.8 765.4 L1962.9 764.0 L1965.6 763.3 L1968.5 763.7 L1971.3 764.2 L1973.8 764.3 L1976.6 764.4 L1979.5 764.6 L1981.8 765.7 L1984.6 765.1 L1987.1 764.8 L1989.6 764.7 L1991.5 763.6 L1993.4 764.7 L1996.0 765.6 L1998.5 765.4 L2001.0 766.4 L2003.7 766.9 L2006.5 767.0 L2009.0 766.9 L2011.8 766.5 L2014.3 766.0 L2017.0 765.8 L2019.8 765.6 L2022.3 766.1 L2025.2 766.9 L2028.0 767.1 L2030.5 766.0 L2033.1 765.1 L2035.6 764.7 L2038.1 765.4 L2040.0 767.1 L2042.3 767.2 L2044.8 768.6 L2047.4 768.1 L2049.9 768.2 L2052.2 767.3 L2054.6 767.6 L2057.1 768.1 L2059.8 769.0 L2062.3 769.6 L2064.7 769.1 L2067.0 769.9 L2069.5 771.3 L2072.2 772.0 L2074.6 773.3 L2077.1 772.3 L2079.8 772.5 L2082.2 772.1 L2084.7 771.9 L2087.4 772.0 L2089.8 771.9 L2092.3 772.4 L2095.0 773.0 L2097.5 772.8 L2100.3 772.8 L2103.2 772.8 L2106.0 772.7 L2108.5 772.3 L2111.2 771.5 L2113.6 772.1 L2116.1 771.8 L2118.8 770.9 L2121.2 771.3 L2123.7 772.3 L2126.4 772.7 L2128.8 772.4 L2131.3 773.3 L2133.6 774.6 L2135.9 775.5 L2137.8 776.1 L2140.3 776.4 L2142.7 776.1 L2145.4 776.4 L2147.9 776.6 L2150.3 776.6 L2153.0 776.4 L2155.5 776.4 L2158.0 775.8 L2160.6 775.8 L2163.1 776.7 L2165.0 776.2 L2169.0 776.2" fill="none" stroke="#8fb0f7" stroke-width="1.2"/>
</g>
<rect x="92" y="733.75" width="2077" height="58.25" rx="6" fill="none" stroke="#cdd5ea" stroke-width="2"/>
<line x1="586.75" y1="733.75" x2="586.75" y2="792" stroke="#acb8d1" stroke-width="2.5"/>
<rect x="580.75" y="744.5" width="12.5" height="37.5" rx="3.5" fill="#fff" stroke="#acb8d1" stroke-width="2.2"/>
<line x1="2168.5" y1="733.75" x2="2168.5" y2="792" stroke="#acb8d1" stroke-width="2.5"/>
<rect x="2162.5" y="744.5" width="12.5" height="37.5" rx="3.5" fill="#fff" stroke="#acb8d1" stroke-width="2.2"/>
<line x1="1373.5" y1="724.5" x2="1373.5" y2="730" stroke="#fff" stroke-width="2"/>
<line x1="1377.5" y1="724.5" x2="1377.5" y2="730" stroke="#fff" stroke-width="2"/>
<line x1="1381.5" y1="724.5" x2="1381.5" y2="730" stroke="#fff" stroke-width="2"/></svg>
</body></html>
